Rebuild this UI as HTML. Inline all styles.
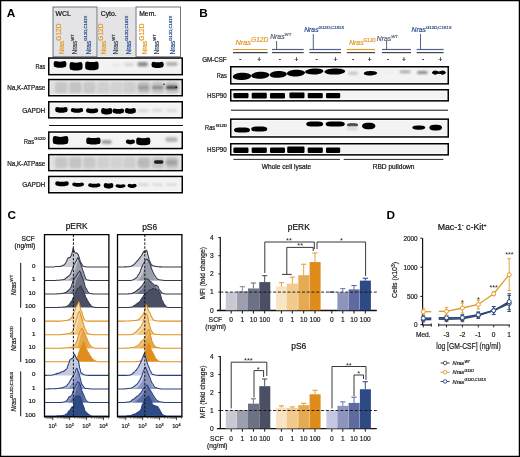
<!DOCTYPE html>
<html><head><meta charset="utf-8"><style>
html,body{margin:0;padding:0;background:#fff;width:520px;height:457px;overflow:hidden}
svg{display:block;will-change:transform}
text{font-family:"Liberation Sans",sans-serif}
</style></head><body>
<svg width="520" height="457" viewBox="0 0 520 457">
<rect width="520" height="457" fill="#fff"/>
<rect x="0.6" y="0.6" width="518.8" height="455.8" fill="none" stroke="#000" stroke-width="1.3" />
<text x="6.8" y="17.2" font-size="11.8" text-anchor="start" fill="#000" stroke="#000" stroke-width="0" font-weight="bold" font-style="normal" >A</text>
<text x="199.2" y="17.2" font-size="11.8" text-anchor="start" fill="#000" stroke="#000" stroke-width="0" font-weight="bold" font-style="normal" >B</text>
<text x="7.6" y="218.8" font-size="11.8" text-anchor="start" fill="#000" stroke="#000" stroke-width="0" font-weight="bold" font-style="normal" >C</text>
<text x="386.6" y="218.6" font-size="11.8" text-anchor="start" fill="#000" stroke="#000" stroke-width="0" font-weight="bold" font-style="normal" >D</text>
<rect x="53" y="7" width="44" height="49.8" fill="#e4e4e6" stroke="#5d6577" stroke-width="0.9" />
<rect x="98" y="7" width="37.5" height="49.8" fill="#e4e4e6" stroke="none" stroke-width="1" />
<rect x="136" y="7" width="44.5" height="49.8" fill="#ffffff" stroke="#5d6577" stroke-width="0.9" />
<text x="55.6" y="15.8" font-size="6.8" text-anchor="start" fill="#111" stroke="#111" stroke-width="0.2" font-weight="normal" font-style="normal" >WCL</text>
<text x="100.8" y="15.8" font-size="6.8" text-anchor="start" fill="#111" stroke="#111" stroke-width="0.2" font-weight="normal" font-style="normal" >Cyto.</text>
<text x="139.2" y="15.8" font-size="6.8" text-anchor="start" fill="#111" stroke="#111" stroke-width="0.2" font-weight="normal" font-style="normal" >Mem.</text>
<text transform="translate(63.800000000000004,54.6) rotate(-90)" font-size="6.6" fill="#e39a2d" stroke="#e39a2d" stroke-width="0.2">Nras<tspan font-size="6.6" dy="-2.6">G12D</tspan></text>
<text transform="translate(76.7,54.6) rotate(-90)" font-size="6.6" fill="#3f4658" stroke="#3f4658" stroke-width="0.2">Nras<tspan font-size="4.2" dy="-3.2">WT</tspan></text>
<text transform="translate(90.60000000000001,54.6) rotate(-90)" font-size="6.6" fill="#31508e" stroke="#31508e" stroke-width="0.2">Nras<tspan font-size="4.2" dy="-3.2">G12D,C181S</tspan></text>
<text transform="translate(106.0,54.6) rotate(-90)" font-size="6.6" fill="#e39a2d" stroke="#e39a2d" stroke-width="0.2">Nras<tspan font-size="6.6" dy="-2.6">G12D</tspan></text>
<text transform="translate(117.89999999999999,54.6) rotate(-90)" font-size="6.6" fill="#3f4658" stroke="#3f4658" stroke-width="0.2">Nras<tspan font-size="4.2" dy="-3.2">WT</tspan></text>
<text transform="translate(131.2,54.6) rotate(-90)" font-size="6.6" fill="#31508e" stroke="#31508e" stroke-width="0.2">Nras<tspan font-size="4.2" dy="-3.2">G12D,C181S</tspan></text>
<text transform="translate(146.6,54.6) rotate(-90)" font-size="6.6" fill="#e39a2d" stroke="#e39a2d" stroke-width="0.2">Nras<tspan font-size="6.6" dy="-2.6">G12D</tspan></text>
<text transform="translate(159.3,54.6) rotate(-90)" font-size="6.6" fill="#3f4658" stroke="#3f4658" stroke-width="0.2">Nras<tspan font-size="4.2" dy="-3.2">WT</tspan></text>
<text transform="translate(175.2,54.6) rotate(-90)" font-size="6.6" fill="#31508e" stroke="#31508e" stroke-width="0.2">Nras<tspan font-size="4.2" dy="-3.2">G12D,C181S</tspan></text>
<defs><filter id="bl" x="-30%" y="-60%" width="160%" height="220%"><feGaussianBlur stdDeviation="0.55"/></filter><filter id="bl2" x="-30%" y="-60%" width="160%" height="220%"><feGaussianBlur stdDeviation="0.9"/></filter><filter id="bl3" x="-30%" y="-60%" width="160%" height="220%"><feGaussianBlur stdDeviation="0.75"/></filter><filter id="noise" x="0" y="0" width="100%" height="100%"><feTurbulence type="fractalNoise" baseFrequency="0.35 0.9" numOctaves="2" seed="3"/><feColorMatrix type="matrix" values="0 0 0 0 0.5  0 0 0 0 0.5  0 0 0 0 0.5  0 0 0 0.35 0"/></filter></defs>
<rect x="48.75" y="58.05" width="133.5" height="16.6" fill="#fcfcfc" stroke="none" stroke-width="1" />
<rect x="50.2" y="59.699999999999996" width="130.6" height="13.3" fill="#f3f3f3" stroke="none" stroke-width="1" />
<rect x="112" y="63.5" width="9" height="3" rx="1.5" ry="1.5" fill="#e6e6e6" filter="url(#bl2)" opacity="1"/>
<rect x="124" y="62.8" width="10" height="3.4" rx="1.7" ry="1.7" fill="#d8d8d8" filter="url(#bl2)" opacity="1"/>
<rect x="137.4" y="62.0" width="10.599999999999994" height="4.4" rx="2.2" ry="2.2" fill="#8c8c8c" filter="url(#bl2)" opacity="1"/>
<rect x="166" y="62.1" width="11.599999999999994" height="3.8" rx="1.9" ry="1.9" fill="#b0b0b0" filter="url(#bl2)" opacity="1"/>
<path d="M55.9,60.9 Q60.0,62.5 64.2,60.9 Q66.4,60.9 66.4,63.1 L66.4,65.1 Q66.4,67.3 64.2,67.3 Q60.0,68.3 55.9,67.3 Q53.7,67.3 53.7,65.1 L53.7,63.1 Q53.7,60.9 55.9,60.9Z" fill="#000" filter="url(#bl3)"/>
<path d="M71.8,62.0 Q76.0,63.4 80.3,62.0 Q82.5,62.0 82.5,64.2 L82.5,67.8 Q82.5,70.0 80.3,70.0 Q76.0,71.0 71.8,70.0 Q69.6,70.0 69.6,67.8 L69.6,64.2 Q69.6,62.0 71.8,62.0Z" fill="#000" filter="url(#bl3)"/>
<path d="M87.4,61.5 Q91.9,62.7 96.4,61.5 Q98.6,61.5 98.6,63.7 L98.6,67.6 Q98.6,69.8 96.4,69.8 Q91.9,70.8 87.4,69.8 Q85.2,69.8 85.2,67.6 L85.2,63.7 Q85.2,61.5 87.4,61.5Z" fill="#000" filter="url(#bl3)"/>
<path d="M153.7,61.7 Q157.6,62.9 161.5,61.7 Q163.7,61.7 163.7,63.9 L163.7,65.3 Q163.7,67.5 161.5,67.5 Q157.6,68.5 153.7,67.5 Q151.5,67.5 151.5,65.3 L151.5,63.9 Q151.5,61.7 153.7,61.7Z" fill="#000" filter="url(#bl3)"/>
<rect x="48.75" y="58.05" width="133.5" height="16.6" fill="none" stroke="#000" stroke-width="1.5" />
<rect x="48.75" y="79.55" width="133.5" height="16.2" fill="#fcfcfc" stroke="none" stroke-width="1" />
<rect x="50.2" y="81.2" width="130.6" height="12.899999999999999" fill="#e4e4e4" stroke="none" stroke-width="1" />
<rect x="48.75" y="79.55" width="133.5" height="16.2" filter="url(#noise)" opacity="0.5"/>
<rect x="55.0" y="82.0" width="12.400000000000006" height="11" rx="3" ry="3" fill="#c6c6c6" filter="url(#bl2)" opacity="1"/>
<rect x="69.2" y="82.0" width="12.400000000000006" height="11" rx="3" ry="3" fill="#c4c4c4" filter="url(#bl2)" opacity="1"/>
<rect x="83.2" y="82.0" width="12.400000000000006" height="11" rx="3" ry="3" fill="#c8c8c8" filter="url(#bl2)" opacity="1"/>
<rect x="97.2" y="82.0" width="12.400000000000006" height="11" rx="3" ry="3" fill="#d0d0d0" filter="url(#bl2)" opacity="1"/>
<rect x="110.39999999999999" y="82.0" width="12.400000000000006" height="11" rx="3" ry="3" fill="#d2d2d2" filter="url(#bl2)" opacity="1"/>
<rect x="123.39999999999999" y="82.0" width="12.399999999999991" height="11" rx="3" ry="3" fill="#cecece" filter="url(#bl2)" opacity="1"/>
<rect x="137.8" y="82.0" width="12.399999999999977" height="11" rx="3" ry="3" fill="#bebebe" filter="url(#bl2)" opacity="1"/>
<rect x="151.8" y="82.0" width="12.399999999999977" height="11" rx="3" ry="3" fill="#c2c2c2" filter="url(#bl2)" opacity="1"/>
<rect x="165.8" y="82.0" width="12.399999999999977" height="11" rx="3" ry="3" fill="#c0c0c0" filter="url(#bl2)" opacity="1"/>
<rect x="138" y="85.8" width="10.5" height="3.6" rx="1.8" ry="1.8" fill="#9a9a9a" filter="url(#bl2)" opacity="1"/>
<rect x="152" y="86.1" width="11.5" height="3" rx="1.5" ry="1.5" fill="#8a8a8a" filter="url(#bl2)" opacity="1"/>
<rect x="166" y="85.7" width="11.5" height="3.4" rx="1.7" ry="1.7" fill="#4a4a4a" filter="url(#bl2)" opacity="1"/>
<rect x="163.4" y="83.5" width="1.4000000000000057" height="1.4" rx="0.7" ry="0.7" fill="#000" filter="url(#bl)" opacity="1"/>
<rect x="175.4" y="86.39999999999999" width="1.5999999999999943" height="1.8" rx="0.9" ry="0.9" fill="#000" filter="url(#bl)" opacity="1"/>
<rect x="48.75" y="79.55" width="133.5" height="16.2" fill="none" stroke="#000" stroke-width="1.5" />
<rect x="48.75" y="101.75" width="133.5" height="16.1" fill="#fcfcfc" stroke="none" stroke-width="1" />
<rect x="50.2" y="103.4" width="130.6" height="12.8" fill="#f3f3f3" stroke="none" stroke-width="1" />
<rect x="138" y="109.0" width="11" height="3" rx="1.5" ry="1.5" fill="#d8d8d8" filter="url(#bl2)" opacity="1"/>
<rect x="152" y="108.8" width="11" height="3" rx="1.5" ry="1.5" fill="#dcdcdc" filter="url(#bl2)" opacity="1"/>
<rect x="166" y="109.0" width="11" height="3" rx="1.5" ry="1.5" fill="#dcdcdc" filter="url(#bl2)" opacity="1"/>
<path d="M57.4,106.9 Q61.4,108.3 65.4,106.9 Q67.6,106.9 67.6,109.1 L67.6,110.0 Q67.6,112.2 65.4,112.2 Q61.4,113.2 57.4,112.2 Q55.2,112.2 55.2,110.0 L55.2,109.1 Q55.2,106.9 57.4,106.9Z" fill="#000" filter="url(#bl3)"/>
<path d="M73.0,108.1 Q77.0,109.1 81.0,108.1 Q83.2,108.1 83.2,110.3 L83.2,110.0 Q83.2,112.2 81.0,112.2 Q77.0,113.2 73.0,112.2 Q70.8,112.2 70.8,110.0 L70.8,110.3 Q70.8,108.1 73.0,108.1Z" fill="#000" filter="url(#bl3)"/>
<path d="M88.2,108.3 Q92.1,109.3 96.0,108.3 Q98.2,108.3 98.2,110.5 L98.2,110.5 Q98.2,112.7 96.0,112.7 Q92.1,113.7 88.2,112.7 Q86.0,112.7 86.0,110.5 L86.0,110.5 Q86.0,108.3 88.2,108.3Z" fill="#000" filter="url(#bl3)"/>
<path d="M103.3,108.1 Q106.7,109.3 110.1,108.1 Q112.3,108.1 112.3,110.3 L112.3,111.7 Q112.3,113.9 110.1,113.9 Q106.7,114.9 103.3,113.9 Q101.1,113.9 101.1,111.7 L101.1,110.3 Q101.1,108.1 103.3,108.1Z" fill="#000" filter="url(#bl3)"/>
<path d="M114.7,108.4 Q118.3,109.4 121.9,108.4 Q124.1,108.4 124.1,110.6 L124.1,111.0 Q124.1,113.2 121.9,113.2 Q118.3,114.2 114.7,113.2 Q112.5,113.2 112.5,111.0 L112.5,110.6 Q112.5,108.4 114.7,108.4Z" fill="#000" filter="url(#bl3)"/>
<path d="M127.1,108.1 Q130.4,109.3 133.7,108.1 Q135.9,108.1 135.9,110.3 L135.9,111.0 Q135.9,113.2 133.7,113.2 Q130.4,114.2 127.1,113.2 Q124.9,113.2 124.9,111.0 L124.9,110.3 Q124.9,108.1 127.1,108.1Z" fill="#000" filter="url(#bl3)"/>
<rect x="48.75" y="101.75" width="133.5" height="16.1" fill="none" stroke="#000" stroke-width="1.5" />
<line x1="49" y1="125.5" x2="183" y2="125.5" stroke="#111" stroke-width="1" />
<rect x="48.75" y="132.05" width="133.5" height="16.5" fill="#fcfcfc" stroke="none" stroke-width="1" />
<rect x="50.2" y="133.70000000000002" width="130.6" height="13.2" fill="#f3f3f3" stroke="none" stroke-width="1" />
<rect x="101.5" y="140.0" width="10.299999999999997" height="4" rx="2.0" ry="2.0" fill="#9c9c9c" filter="url(#bl2)" opacity="1"/>
<rect x="165.3" y="137.29999999999998" width="12.399999999999977" height="4.6" rx="2.3" ry="2.3" fill="#b4b4b4" filter="url(#bl2)" opacity="1"/>
<path d="M55.0,136.1 Q60.5,137.7 66.1,136.1 Q68.3,136.1 68.3,138.3 L68.3,141.7 Q68.3,143.9 66.1,143.9 Q60.5,144.9 55.0,143.9 Q52.8,143.9 52.8,141.7 L52.8,138.3 Q52.8,136.1 55.0,136.1Z" fill="#000" filter="url(#bl3)"/>
<path d="M88.5,137.4 Q93.4,138.8 98.3,137.4 Q100.5,137.4 100.5,139.6 L100.5,141.9 Q100.5,144.1 98.3,144.1 Q93.4,145.1 88.5,144.1 Q86.3,144.1 86.3,141.9 L86.3,139.6 Q86.3,137.4 88.5,137.4Z" fill="#000" filter="url(#bl3)"/>
<path d="M128.0,139.5 Q130.4,140.3 132.8,139.5 Q135.0,139.5 135.0,141.7 L135.0,141.6 Q135.0,143.8 132.8,143.8 Q130.4,144.8 128.0,143.8 Q125.8,143.8 125.8,141.6 L125.8,141.7 Q125.8,139.5 128.0,139.5Z" fill="#000" filter="url(#bl3)"/>
<path d="M138.4,137.5 Q143.2,138.9 148.1,137.5 Q150.3,137.5 150.3,139.7 L150.3,142.5 Q150.3,144.7 148.1,144.7 Q143.2,145.7 138.4,144.7 Q136.2,144.7 136.2,142.5 L136.2,139.7 Q136.2,137.5 138.4,137.5Z" fill="#000" filter="url(#bl3)"/>
<rect x="48.75" y="132.05" width="133.5" height="16.5" fill="none" stroke="#000" stroke-width="1.5" />
<rect x="48.75" y="154.65" width="133.5" height="16.0" fill="#fcfcfc" stroke="none" stroke-width="1" />
<rect x="50.2" y="156.3" width="130.6" height="12.7" fill="#e4e4e4" stroke="none" stroke-width="1" />
<rect x="48.75" y="154.65" width="133.5" height="16.0" filter="url(#noise)" opacity="0.5"/>
<rect x="55.0" y="157.2" width="12.400000000000006" height="11" rx="3" ry="3" fill="#c6c6c6" filter="url(#bl2)" opacity="1"/>
<rect x="69.2" y="157.2" width="12.400000000000006" height="11" rx="3" ry="3" fill="#c4c4c4" filter="url(#bl2)" opacity="1"/>
<rect x="83.2" y="157.2" width="12.400000000000006" height="11" rx="3" ry="3" fill="#c8c8c8" filter="url(#bl2)" opacity="1"/>
<rect x="97.2" y="157.2" width="12.400000000000006" height="11" rx="3" ry="3" fill="#d0d0d0" filter="url(#bl2)" opacity="1"/>
<rect x="110.39999999999999" y="157.2" width="12.400000000000006" height="11" rx="3" ry="3" fill="#d2d2d2" filter="url(#bl2)" opacity="1"/>
<rect x="123.39999999999999" y="157.2" width="12.399999999999991" height="11" rx="3" ry="3" fill="#cecece" filter="url(#bl2)" opacity="1"/>
<rect x="137.8" y="157.2" width="12.399999999999977" height="11" rx="3" ry="3" fill="#bebebe" filter="url(#bl2)" opacity="1"/>
<rect x="151.8" y="157.2" width="12.399999999999977" height="11" rx="3" ry="3" fill="#c2c2c2" filter="url(#bl2)" opacity="1"/>
<rect x="165.8" y="157.2" width="12.399999999999977" height="11" rx="3" ry="3" fill="#c0c0c0" filter="url(#bl2)" opacity="1"/>
<rect x="137.5" y="160.6" width="11.0" height="4" rx="2.0" ry="2.0" fill="#b8b8b8" filter="url(#bl2)" opacity="1"/>
<rect x="154" y="160.2" width="9.5" height="3.6" rx="1.8" ry="1.8" fill="#1a1a1a" filter="url(#bl)" opacity="1"/>
<rect x="166" y="160.3" width="11" height="4.4" rx="2.2" ry="2.2" fill="#a0a0a0" filter="url(#bl2)" opacity="1"/>
<rect x="48.75" y="154.65" width="133.5" height="16.0" fill="none" stroke="#000" stroke-width="1.5" />
<rect x="48.75" y="176.45" width="133.5" height="16.3" fill="#fcfcfc" stroke="none" stroke-width="1" />
<rect x="50.2" y="178.1" width="130.6" height="13.0" fill="#f3f3f3" stroke="none" stroke-width="1" />
<rect x="138" y="183.29999999999998" width="11" height="2.6" rx="1.3" ry="1.3" fill="#d6d6d6" filter="url(#bl2)" opacity="1"/>
<rect x="152" y="183.29999999999998" width="11" height="2.6" rx="1.3" ry="1.3" fill="#dcdcdc" filter="url(#bl2)" opacity="1"/>
<rect x="166" y="183.29999999999998" width="11" height="2.6" rx="1.3" ry="1.3" fill="#dcdcdc" filter="url(#bl2)" opacity="1"/>
<path d="M57.4,181.2 Q62.0,182.4 66.6,181.2 Q68.8,181.2 68.8,183.4 L68.8,183.6 Q68.8,185.8 66.6,185.8 Q62.0,186.8 57.4,185.8 Q55.2,185.8 55.2,183.6 L55.2,183.4 Q55.2,181.2 57.4,181.2Z" fill="#000" filter="url(#bl3)"/>
<path d="M74.4,182.4 Q78.1,183.4 81.8,182.4 Q84.0,182.4 84.0,184.6 L84.0,184.0 Q84.0,186.2 81.8,186.2 Q78.1,187.2 74.4,186.2 Q72.2,186.2 72.2,184.0 L72.2,184.6 Q72.2,182.4 74.4,182.4Z" fill="#000" filter="url(#bl3)"/>
<path d="M90.3,183.3 Q94.3,184.3 98.3,183.3 Q100.5,183.3 100.5,185.5 L100.5,184.8 Q100.5,187.0 98.3,187.0 Q94.3,188.0 90.3,187.0 Q88.1,187.0 88.1,184.8 L88.1,185.5 Q88.1,183.3 90.3,183.3Z" fill="#000" filter="url(#bl3)"/>
<path d="M105.9,183.0 Q108.6,184.2 111.2,183.0 Q113.4,183.0 113.4,185.2 L113.4,185.7 Q113.4,187.9 111.2,187.9 Q108.6,188.9 105.9,187.9 Q103.7,187.9 103.7,185.7 L103.7,185.2 Q103.7,183.0 105.9,183.0Z" fill="#000" filter="url(#bl3)"/>
<path d="M117.6,184.3 Q120.5,185.1 123.4,184.3 Q125.6,184.3 125.6,186.5 L125.6,185.3 Q125.6,187.5 123.4,187.5 Q120.5,188.5 117.6,187.5 Q115.4,187.5 115.4,185.3 L115.4,186.5 Q115.4,184.3 117.6,184.3Z" fill="#000" filter="url(#bl3)"/>
<path d="M129.7,183.8 Q132.1,184.8 134.5,183.8 Q136.7,183.8 136.7,186.0 L136.7,185.3 Q136.7,187.5 134.5,187.5 Q132.1,188.5 129.7,187.5 Q127.5,187.5 127.5,185.3 L127.5,186.0 Q127.5,183.8 129.7,183.8Z" fill="#000" filter="url(#bl3)"/>
<rect x="48.75" y="176.45" width="133.5" height="16.3" fill="none" stroke="#000" stroke-width="1.5" />
<text x="45.3" y="69.4" font-size="6.8" text-anchor="end" fill="#111" stroke="#111" stroke-width="0.2" font-weight="normal" font-style="normal" textLength="9.8" lengthAdjust="spacingAndGlyphs">Ras</text>
<text x="45.3" y="90.4" font-size="6.8" text-anchor="end" fill="#111" stroke="#111" stroke-width="0.2" font-weight="normal" font-style="normal" textLength="38" lengthAdjust="spacingAndGlyphs">Na,K-ATPase</text>
<text x="45.3" y="112.6" font-size="6.8" text-anchor="end" fill="#111" stroke="#111" stroke-width="0.2" font-weight="normal" font-style="normal" textLength="23.1" lengthAdjust="spacingAndGlyphs">GAPDH</text>
<text x="45.3" y="165.8" font-size="6.8" text-anchor="end" fill="#111" stroke="#111" stroke-width="0.2" font-weight="normal" font-style="normal" textLength="38" lengthAdjust="spacingAndGlyphs">Na,K-ATPase</text>
<text x="45.3" y="187.4" font-size="6.8" text-anchor="end" fill="#111" stroke="#111" stroke-width="0.2" font-weight="normal" font-style="normal" textLength="23.1" lengthAdjust="spacingAndGlyphs">GAPDH</text>
<text x="24.1" y="143.8" font-size="6.8" text-anchor="start" fill="#111" stroke="#111" stroke-width="0.2" font-weight="normal" font-style="normal" textLength="9.8" lengthAdjust="spacingAndGlyphs">Ras</text>
<text x="34.3" y="140.1" font-size="3.9" text-anchor="start" fill="#111" stroke="#111" stroke-width="0.2" font-weight="normal" font-style="normal" textLength="11.2" lengthAdjust="spacingAndGlyphs">G12D</text>
<line x1="233" y1="49.5" x2="267.6" y2="49.5" stroke="#e39a2d" stroke-width="1.2" />
<line x1="233" y1="52.6" x2="267.6" y2="52.6" stroke="#444" stroke-width="1.2" />
<line x1="272" y1="49.5" x2="303.7" y2="49.5" stroke="#56607e" stroke-width="1.2" />
<line x1="272" y1="52.6" x2="303.7" y2="52.6" stroke="#444" stroke-width="1.2" />
<line x1="309.4" y1="49.5" x2="341" y2="49.5" stroke="#4f6294" stroke-width="1.2" />
<line x1="309.4" y1="52.6" x2="341" y2="52.6" stroke="#444" stroke-width="1.2" />
<line x1="346.8" y1="49.5" x2="375" y2="49.5" stroke="#e39a2d" stroke-width="1.2" />
<line x1="346.8" y1="52.6" x2="375" y2="52.6" stroke="#444" stroke-width="1.2" />
<line x1="382" y1="49.5" x2="411" y2="49.5" stroke="#56607e" stroke-width="1.2" />
<line x1="382" y1="52.6" x2="411" y2="52.6" stroke="#444" stroke-width="1.2" />
<line x1="416.6" y1="49.5" x2="443.6" y2="49.5" stroke="#4f6294" stroke-width="1.2" />
<line x1="416.6" y1="52.6" x2="443.6" y2="52.6" stroke="#444" stroke-width="1.2" />
<text x="235.4" y="44.6" font-size="7.4" font-style="italic" fill="#e39a2d" stroke="#e39a2d" stroke-width="0.2">Nras<tspan font-size="6.6" dy="-2.6">G12D</tspan></text>
<line x1="276.6" y1="41" x2="276.6" y2="49.5" stroke="#56607e" stroke-width="1" />
<text x="270.2" y="39.4" font-size="6.8" font-style="italic" fill="#5a6278" stroke="#5a6278" stroke-width="0.2">Nras<tspan font-size="4.4" dy="-3">WT</tspan></text>
<line x1="313.29999999999995" y1="34" x2="313.29999999999995" y2="49.5" stroke="#4f6294" stroke-width="1" />
<text x="304.2" y="32.2" font-size="6.8" font-style="italic" fill="#31508e" stroke="#31508e" stroke-width="0.2">Nras<tspan font-size="4.3" dy="-3">G12D;C181S</tspan></text>
<text x="349.2" y="44.6" font-size="6.8" font-style="italic" fill="#e39a2d" stroke="#e39a2d" stroke-width="0.2">Nras<tspan font-size="4.6" dy="-3">G12D</tspan></text>
<line x1="386.6" y1="41" x2="386.6" y2="49.5" stroke="#56607e" stroke-width="1" />
<text x="376.8" y="41" font-size="6.8" font-style="italic" fill="#5a6278" stroke="#5a6278" stroke-width="0.2">Nras<tspan font-size="4.4" dy="-3">WT</tspan></text>
<line x1="420.5" y1="34" x2="420.5" y2="49.5" stroke="#4f6294" stroke-width="1" />
<text x="411.6" y="31.6" font-size="6.8" font-style="italic" fill="#31508e" stroke="#31508e" stroke-width="0.2">Nras<tspan font-size="4.3" dy="-3">G12D;C181S</tspan></text>
<text x="202.2" y="61.7" font-size="6.5" text-anchor="start" fill="#111" stroke="#111" stroke-width="0.2" font-weight="normal" font-style="normal" textLength="24.4" lengthAdjust="spacingAndGlyphs">GM-CSF</text>
<text x="240.4" y="61.2" font-size="6.6" text-anchor="middle" fill="#111" stroke="#111" stroke-width="0.2" font-weight="normal" font-style="normal" >-</text>
<text x="259.3" y="62.0" font-size="6.6" text-anchor="middle" fill="#111" stroke="#111" stroke-width="0.2" font-weight="normal" font-style="normal" >+</text>
<text x="279.9" y="61.2" font-size="6.6" text-anchor="middle" fill="#111" stroke="#111" stroke-width="0.2" font-weight="normal" font-style="normal" >-</text>
<text x="296.5" y="62.0" font-size="6.6" text-anchor="middle" fill="#111" stroke="#111" stroke-width="0.2" font-weight="normal" font-style="normal" >+</text>
<text x="316.7" y="61.2" font-size="6.6" text-anchor="middle" fill="#111" stroke="#111" stroke-width="0.2" font-weight="normal" font-style="normal" >-</text>
<text x="335.4" y="62.0" font-size="6.6" text-anchor="middle" fill="#111" stroke="#111" stroke-width="0.2" font-weight="normal" font-style="normal" >+</text>
<text x="353" y="61.2" font-size="6.6" text-anchor="middle" fill="#111" stroke="#111" stroke-width="0.2" font-weight="normal" font-style="normal" >-</text>
<text x="369.6" y="62.0" font-size="6.6" text-anchor="middle" fill="#111" stroke="#111" stroke-width="0.2" font-weight="normal" font-style="normal" >+</text>
<text x="388.2" y="61.2" font-size="6.6" text-anchor="middle" fill="#111" stroke="#111" stroke-width="0.2" font-weight="normal" font-style="normal" >-</text>
<text x="403.9" y="62.0" font-size="6.6" text-anchor="middle" fill="#111" stroke="#111" stroke-width="0.2" font-weight="normal" font-style="normal" >+</text>
<text x="423.1" y="61.2" font-size="6.6" text-anchor="middle" fill="#111" stroke="#111" stroke-width="0.2" font-weight="normal" font-style="normal" >-</text>
<text x="440.5" y="62.0" font-size="6.6" text-anchor="middle" fill="#111" stroke="#111" stroke-width="0.2" font-weight="normal" font-style="normal" >+</text>
<rect x="230.75" y="66.75" width="217.5" height="17.1" fill="#fcfcfc" stroke="none" stroke-width="1" />
<rect x="232.2" y="68.4" width="214.6" height="13.8" fill="#f3f3f3" stroke="none" stroke-width="1" />
<rect x="348" y="71.7" width="10" height="3" rx="1.5" ry="1.5" fill="#c4c4c4" filter="url(#bl2)" opacity="1"/>
<rect x="386" y="71.5" width="8" height="2" rx="1.0" ry="1.0" fill="#eee" filter="url(#bl)" opacity="1"/>
<rect x="399.6" y="70.60000000000001" width="10.899999999999977" height="2.6" rx="1.3" ry="1.3" fill="#a8a8a8" filter="url(#bl2)" opacity="1"/>
<rect x="417" y="71.0" width="10.600000000000023" height="3" rx="1.5" ry="1.5" fill="#8c8c8c" filter="url(#bl2)" opacity="1"/>
<path d="M232.8,76.90 C233.4,71.69 250.6,71.69 251.2,75.90 C250.6,81.11 233.4,81.11 232.8,76.90Z" fill="#000" filter="url(#bl3)"/>
<path d="M251.2,75.80 C251.7,70.71 268.9,70.71 269.4,74.80 C268.9,79.89 251.7,79.89 251.2,75.80Z" fill="#000" filter="url(#bl3)"/>
<path d="M269.6,74.90 C270.1,69.94 286.3,69.94 286.8,73.90 C286.3,78.86 270.1,78.86 269.6,74.90Z" fill="#000" filter="url(#bl3)"/>
<path d="M286.8,73.60 C287.3,68.51 304.5,68.51 305.0,72.60 C304.5,77.69 287.3,77.69 286.8,73.60Z" fill="#000" filter="url(#bl3)"/>
<path d="M305.0,72.10 C305.6,67.53 322.8,67.53 323.4,70.90 C322.8,75.47 305.6,75.47 305.0,72.10Z" fill="#000" filter="url(#bl3)"/>
<path d="M324.4,72.00 C325.0,67.63 344.6,67.63 345.2,71.20 C344.6,75.57 325.0,75.57 324.4,72.00Z" fill="#000" filter="url(#bl3)"/>
<path d="M363.8,73.40 C364.2,70.22 376.8,70.22 377.2,73.00 C376.8,76.18 364.2,76.18 363.8,73.40Z" fill="#000" filter="url(#bl3)"/>
<path d="M431.8,72.80 C432.2,70.74 445.4,70.74 445.8,72.40 C445.4,74.46 432.2,74.46 431.8,72.80Z" fill="#222" filter="url(#bl3)"/>
<path d="M432.2,72.60 C432.4,69.87 438.0,69.87 438.2,72.60 C438.0,75.33 432.4,75.33 432.2,72.60Z" fill="#000" filter="url(#bl3)"/>
<path d="M439.6,72.60 C439.8,69.87 445.4,69.87 445.6,72.60 C445.4,75.33 439.8,75.33 439.6,72.60Z" fill="#000" filter="url(#bl3)"/>
<rect x="230.75" y="66.75" width="217.5" height="17.1" fill="none" stroke="#000" stroke-width="1.5" />
<rect x="230.75" y="89.75" width="217.5" height="11.1" fill="#fcfcfc" stroke="none" stroke-width="1" />
<rect x="232.2" y="91.4" width="214.6" height="7.8" fill="#f3f3f3" stroke="none" stroke-width="1" />
<rect x="233.4" y="93.0" width="15.099999999999994" height="5.2" rx="1.2" ry="1.2" fill="#000" filter="url(#bl3)" opacity="1"/>
<rect x="251.7" y="92.8" width="15.100000000000023" height="5.6" rx="1.2" ry="1.2" fill="#000" filter="url(#bl3)" opacity="1"/>
<rect x="270" y="93.1" width="15" height="5.4" rx="1.2" ry="1.2" fill="#000" filter="url(#bl3)" opacity="1"/>
<rect x="289.4" y="92.5" width="15.100000000000023" height="5.8" rx="1.2" ry="1.2" fill="#000" filter="url(#bl3)" opacity="1"/>
<rect x="307.7" y="92.89999999999999" width="15.100000000000023" height="5.4" rx="1.2" ry="1.2" fill="#000" filter="url(#bl3)" opacity="1"/>
<rect x="326" y="92.89999999999999" width="14.199999999999989" height="5.4" rx="1.2" ry="1.2" fill="#000" filter="url(#bl3)" opacity="1"/>
<rect x="230.75" y="89.75" width="217.5" height="11.1" fill="none" stroke="#000" stroke-width="1.5" />
<line x1="231" y1="110.2" x2="448" y2="110.2" stroke="#111" stroke-width="1" />
<rect x="230.75" y="119.15" width="217.5" height="17.8" fill="#fcfcfc" stroke="none" stroke-width="1" />
<rect x="232.2" y="120.80000000000001" width="214.6" height="14.5" fill="#f3f3f3" stroke="none" stroke-width="1" />
<rect x="234" y="127.6" width="16" height="5" rx="5" ry="2.5" fill="#000" filter="url(#bl3)" opacity="1"/>
<rect x="251.2" y="126.5" width="16.100000000000023" height="5" rx="5" ry="2.5" fill="#000" filter="url(#bl3)" opacity="1"/>
<rect x="306.2" y="121.5" width="17.0" height="5" rx="5" ry="2.5" fill="#000" filter="url(#bl3)" opacity="1"/>
<rect x="325.6" y="121.5" width="19.19999999999999" height="5" rx="5" ry="2.5" fill="#000" filter="url(#bl3)" opacity="1"/>
<rect x="347" y="123.2" width="11" height="3.4" rx="3" ry="1.7" fill="#3c3c3c" filter="url(#bl3)" opacity="1"/>
<rect x="347" y="126.5" width="11" height="4" rx="2.0" ry="2.0" fill="#dadada" filter="url(#bl2)" opacity="1"/>
<rect x="362" y="122.7" width="13.399999999999977" height="6.6" rx="5" ry="3.3" fill="#000" filter="url(#bl3)" opacity="1"/>
<rect x="412.4" y="125.5" width="12.800000000000011" height="4.2" rx="5" ry="2.1" fill="#000" filter="url(#bl3)" opacity="1"/>
<rect x="429.4" y="124.69999999999999" width="12.600000000000023" height="5.8" rx="5" ry="2.9" fill="#000" filter="url(#bl3)" opacity="1"/>
<rect x="230.75" y="119.15" width="217.5" height="17.8" fill="none" stroke="#000" stroke-width="1.5" />
<rect x="230.75" y="143.75" width="217.5" height="11.1" fill="#fcfcfc" stroke="none" stroke-width="1" />
<rect x="232.2" y="145.4" width="214.6" height="7.8" fill="#f3f3f3" stroke="none" stroke-width="1" />
<rect x="233.4" y="147.5" width="15.099999999999994" height="5.4" rx="1.2" ry="1.2" fill="#000" filter="url(#bl3)" opacity="1"/>
<rect x="251.7" y="147.39999999999998" width="15.100000000000023" height="5.6" rx="1.2" ry="1.2" fill="#000" filter="url(#bl3)" opacity="1"/>
<rect x="270" y="147.5" width="15" height="5.4" rx="1.2" ry="1.2" fill="#000" filter="url(#bl3)" opacity="1"/>
<rect x="287.2" y="146.60000000000002" width="17.30000000000001" height="6.4" rx="1.2" ry="1.2" fill="#000" filter="url(#bl3)" opacity="1"/>
<rect x="307.7" y="147.39999999999998" width="15.100000000000023" height="5.6" rx="1.2" ry="1.2" fill="#000" filter="url(#bl3)" opacity="1"/>
<rect x="326" y="147.5" width="14.199999999999989" height="5.4" rx="1.2" ry="1.2" fill="#000" filter="url(#bl3)" opacity="1"/>
<rect x="230.75" y="143.75" width="217.5" height="11.1" fill="none" stroke="#000" stroke-width="1.5" />
<line x1="233.4" y1="159.4" x2="340" y2="159.4" stroke="#111" stroke-width="0.9" />
<line x1="343.7" y1="159.4" x2="443.4" y2="159.4" stroke="#111" stroke-width="0.9" />
<text x="286.5" y="168.8" font-size="6.6" text-anchor="middle" fill="#111" stroke="#111" stroke-width="0.2" font-weight="normal" font-style="normal" >Whole cell lysate</text>
<text x="393.6" y="168.8" font-size="6.6" text-anchor="middle" fill="#111" stroke="#111" stroke-width="0.2" font-weight="normal" font-style="normal" >RBD pulldown</text>
<text x="226.8" y="77.7" font-size="6.8" text-anchor="end" fill="#111" stroke="#111" stroke-width="0.2" font-weight="normal" font-style="normal" textLength="10.1" lengthAdjust="spacingAndGlyphs">Ras</text>
<text x="226.8" y="97.9" font-size="6.8" text-anchor="end" fill="#111" stroke="#111" stroke-width="0.2" font-weight="normal" font-style="normal" textLength="19.8" lengthAdjust="spacingAndGlyphs">HSP90</text>
<text x="226.8" y="151.8" font-size="6.8" text-anchor="end" fill="#111" stroke="#111" stroke-width="0.2" font-weight="normal" font-style="normal" textLength="19.8" lengthAdjust="spacingAndGlyphs">HSP90</text>
<text x="205.1" y="130.1" font-size="6.8" text-anchor="start" fill="#111" stroke="#111" stroke-width="0.2" font-weight="normal" font-style="normal" textLength="10.1" lengthAdjust="spacingAndGlyphs">Ras</text>
<text x="215.7" y="126.9" font-size="3.9" text-anchor="start" fill="#111" stroke="#111" stroke-width="0.2" font-weight="normal" font-style="normal" textLength="11.3" lengthAdjust="spacingAndGlyphs">G12D</text>
<defs><clipPath id="cp1"><rect x="44.6" y="234.6" width="64.2" height="182"/></clipPath><clipPath id="cp2"><rect x="117.6" y="234.6" width="64.2" height="182"/></clipPath></defs>
<g clip-path="url(#cp1)">
<path d="M43.6,266.90 L44.1,266.90 L44.6,266.90 L45.1,266.90 L45.6,266.90 L46.1,266.90 L46.6,266.90 L47.1,266.90 L47.6,266.90 L48.1,266.90 L48.6,266.90 L49.1,266.90 L49.6,266.90 L50.1,266.90 L50.6,266.90 L51.1,266.90 L51.6,266.90 L52.1,266.90 L52.6,266.90 L53.1,266.90 L53.6,266.90 L54.1,266.90 L54.6,266.90 L55.1,266.60 L55.6,266.58 L56.1,266.56 L56.6,266.55 L57.1,266.53 L57.6,266.52 L58.1,266.49 L58.6,266.46 L59.1,266.43 L59.6,266.38 L60.1,266.31 L60.6,266.23 L61.1,266.12 L61.6,265.98 L62.1,265.86 L62.6,265.56 L63.1,265.09 L63.6,265.29 L64.1,264.87 L64.6,264.43 L65.1,263.66 L65.6,262.98 L66.1,262.14 L66.6,261.18 L67.1,259.71 L67.6,258.69 L68.1,258.09 L68.6,257.77 L69.1,257.47 L69.6,257.64 L70.1,257.58 L70.6,256.42 L71.1,255.41 L71.6,254.34 L72.1,253.00 L72.6,250.54 L73.1,248.08 L73.6,249.44 L74.1,250.72 L74.6,251.84 L75.1,252.94 L75.6,252.92 L76.1,252.97 L76.6,252.79 L77.1,253.52 L77.6,253.84 L78.1,254.50 L78.6,255.82 L79.1,257.12 L79.6,258.91 L80.1,260.83 L80.6,262.21 L81.1,262.75 L81.6,263.73 L82.1,264.69 L82.6,265.64 L83.1,265.97 L83.6,266.25 L84.1,266.45 L84.6,266.58 L85.1,266.67 L85.6,266.74 L86.1,266.82 L86.6,266.90 L87.1,266.90 L87.6,266.90 L88.1,266.90 L88.6,266.90 L89.1,266.90 L89.6,266.90 L90.1,266.90 L90.6,266.90 L91.1,266.90 L91.6,266.90 L92.1,266.90 L92.6,266.90 L93.1,266.90 L93.6,266.90 L94.1,266.90 L94.6,266.90 L95.1,266.90 L95.6,266.90 L96.1,266.90 L96.6,266.90 L97.1,266.90 L97.6,266.90 L98.1,266.90 L98.6,266.90 L99.1,266.90 L99.6,266.90 L100.1,266.90 L100.6,266.90 L101.1,266.90 L101.6,266.90 L102.1,266.90 L102.6,266.90 L103.1,266.90 L103.6,266.90 L104.1,266.90 L104.6,266.90 L105.1,266.90 L105.6,266.90 L106.1,266.90 L106.6,266.90 L107.1,266.90 L107.6,266.90 L108.1,266.90 L108.6,266.90 L109.1,266.90 L109.6,266.90 L110.1,266.90 L110.6,266.90 L110.6,266.9 L43.6,266.9Z" fill="#c9cad3"/>
<path d="M43.6,266.90 L44.1,266.90 L44.6,266.90 L45.1,266.90 L45.6,266.90 L46.1,266.90 L46.6,266.90 L47.1,266.90 L47.6,266.90 L48.1,266.90 L48.6,266.90 L49.1,266.90 L49.6,266.90 L50.1,266.90 L50.6,266.90 L51.1,266.90 L51.6,266.90 L52.1,266.90 L52.6,266.90 L53.1,266.90 L53.6,266.90 L54.1,266.90 L54.6,266.90 L55.1,266.60 L55.6,266.58 L56.1,266.56 L56.6,266.55 L57.1,266.53 L57.6,266.52 L58.1,266.49 L58.6,266.46 L59.1,266.43 L59.6,266.38 L60.1,266.31 L60.6,266.23 L61.1,266.12 L61.6,265.98 L62.1,265.86 L62.6,265.56 L63.1,265.09 L63.6,265.29 L64.1,264.87 L64.6,264.43 L65.1,263.66 L65.6,262.98 L66.1,262.14 L66.6,261.18 L67.1,259.71 L67.6,258.69 L68.1,258.09 L68.6,257.77 L69.1,257.47 L69.6,257.64 L70.1,257.58 L70.6,256.42 L71.1,255.41 L71.6,254.34 L72.1,253.00 L72.6,250.54 L73.1,248.08 L73.6,249.44 L74.1,250.72 L74.6,251.84 L75.1,252.94 L75.6,252.92 L76.1,252.97 L76.6,252.79 L77.1,253.52 L77.6,253.84 L78.1,254.50 L78.6,255.82 L79.1,257.12 L79.6,258.91 L80.1,260.83 L80.6,262.21 L81.1,262.75 L81.6,263.73 L82.1,264.69 L82.6,265.64 L83.1,265.97 L83.6,266.25 L84.1,266.45 L84.6,266.58 L85.1,266.67 L85.6,266.74 L86.1,266.82 L86.6,266.90 L87.1,266.90 L87.6,266.90 L88.1,266.90 L88.6,266.90 L89.1,266.90 L89.6,266.90 L90.1,266.90 L90.6,266.90 L91.1,266.90 L91.6,266.90 L92.1,266.90 L92.6,266.90 L93.1,266.90 L93.6,266.90 L94.1,266.90 L94.6,266.90 L95.1,266.90 L95.6,266.90 L96.1,266.90 L96.6,266.90 L97.1,266.90 L97.6,266.90 L98.1,266.90 L98.6,266.90 L99.1,266.90 L99.6,266.90 L100.1,266.90 L100.6,266.90 L101.1,266.90 L101.6,266.90 L102.1,266.90 L102.6,266.90 L103.1,266.90 L103.6,266.90 L104.1,266.90 L104.6,266.90 L105.1,266.90 L105.6,266.90 L106.1,266.90 L106.6,266.90 L107.1,266.90 L107.6,266.90 L108.1,266.90 L108.6,266.90 L109.1,266.90 L109.6,266.90 L110.1,266.90 L110.6,266.90" fill="none" stroke="#343a4c" stroke-width="1.05" stroke-linejoin="round"/>
<path d="M43.6,280.46 L44.1,280.46 L44.6,280.46 L45.1,280.46 L45.6,280.46 L46.1,280.46 L46.6,280.46 L47.1,280.46 L47.6,280.46 L48.1,280.46 L48.6,280.46 L49.1,280.46 L49.6,280.46 L50.1,280.46 L50.6,280.46 L51.1,280.46 L51.6,280.46 L52.1,280.46 L52.6,280.46 L53.1,280.46 L53.6,280.46 L54.1,280.46 L54.6,280.46 L55.1,280.45 L55.6,280.41 L56.1,280.38 L56.6,280.34 L57.1,280.31 L57.6,280.27 L58.1,280.24 L58.6,280.20 L59.1,280.16 L59.6,280.12 L60.1,280.07 L60.6,280.02 L61.1,279.97 L61.6,279.91 L62.1,279.84 L62.6,279.76 L63.1,279.67 L63.6,279.58 L64.1,279.76 L64.6,279.14 L65.1,279.23 L65.6,278.53 L66.1,277.82 L66.6,277.92 L67.1,277.09 L67.6,276.99 L68.1,276.43 L68.6,276.58 L69.1,275.58 L69.6,275.19 L70.1,274.53 L70.6,273.97 L71.1,272.40 L71.6,271.24 L72.1,269.82 L72.6,268.72 L73.1,267.56 L73.6,265.92 L74.1,264.64 L74.6,263.50 L75.1,262.88 L75.6,261.63 L76.1,260.97 L76.6,259.82 L77.1,259.21 L77.6,258.04 L78.1,257.67 L78.6,258.57 L79.1,260.11 L79.6,261.67 L80.1,262.37 L80.6,263.81 L81.1,265.41 L81.6,266.76 L82.1,268.09 L82.6,269.58 L83.1,271.32 L83.6,272.42 L84.1,274.26 L84.6,275.52 L85.1,276.96 L85.6,278.65 L86.1,279.18 L86.6,279.55 L87.1,279.83 L87.6,280.02 L88.1,280.14 L88.6,280.22 L89.1,280.29 L89.6,280.37 L90.1,280.46 L90.6,280.46 L91.1,280.46 L91.6,280.46 L92.1,280.46 L92.6,280.46 L93.1,280.46 L93.6,280.46 L94.1,280.46 L94.6,280.46 L95.1,280.46 L95.6,280.46 L96.1,280.46 L96.6,280.46 L97.1,280.46 L97.6,280.46 L98.1,280.46 L98.6,280.46 L99.1,280.46 L99.6,280.46 L100.1,280.46 L100.6,280.46 L101.1,280.46 L101.6,280.46 L102.1,280.46 L102.6,280.46 L103.1,280.46 L103.6,280.46 L104.1,280.46 L104.6,280.46 L105.1,280.46 L105.6,280.46 L106.1,280.46 L106.6,280.46 L107.1,280.46 L107.6,280.46 L108.1,280.46 L108.6,280.46 L109.1,280.46 L109.6,280.46 L110.1,280.46 L110.6,280.46 L110.6,280.5 L43.6,280.5Z" fill="#c9cad3"/>
<path d="M43.6,280.46 L44.1,280.46 L44.6,280.46 L45.1,280.46 L45.6,280.46 L46.1,280.46 L46.6,280.46 L47.1,280.46 L47.6,280.46 L48.1,280.46 L48.6,280.46 L49.1,280.46 L49.6,280.46 L50.1,280.46 L50.6,280.46 L51.1,280.46 L51.6,280.46 L52.1,280.46 L52.6,280.46 L53.1,280.46 L53.6,280.46 L54.1,280.46 L54.6,280.46 L55.1,280.46 L55.6,280.46 L56.1,280.46 L56.6,280.46 L57.1,280.46 L57.6,280.46 L58.1,280.46 L58.6,280.46 L59.1,280.46 L59.6,280.46 L60.1,280.46 L60.6,280.46 L61.1,280.46 L61.6,280.46 L62.1,280.46 L62.6,280.45 L63.1,280.40 L63.6,280.35 L64.1,280.30 L64.6,280.26 L65.1,280.21 L65.6,280.16 L66.1,280.10 L66.6,280.03 L67.1,279.95 L67.6,279.86 L68.1,279.76 L68.6,279.64 L69.1,279.41 L69.6,279.15 L70.1,278.59 L70.6,278.34 L71.1,277.42 L71.6,276.97 L72.1,276.54 L72.6,276.24 L73.1,275.25 L73.6,274.56 L74.1,273.17 L74.6,270.83 L75.1,269.16 L75.6,268.16 L76.1,265.64 L76.6,264.17 L77.1,263.09 L77.6,261.88 L78.1,260.48 L78.6,259.56 L79.1,258.51 L79.6,259.70 L80.1,262.18 L80.6,263.34 L81.1,264.98 L81.6,266.61 L82.1,268.86 L82.6,271.43 L83.1,273.43 L83.6,275.02 L84.1,276.53 L84.6,278.76 L85.1,279.54 L85.6,279.85 L86.1,280.08 L86.6,280.21 L87.1,280.31 L87.6,280.43 L88.1,280.46 L88.6,280.46 L89.1,280.46 L89.6,280.46 L90.1,280.46 L90.6,280.46 L91.1,280.46 L91.6,280.46 L92.1,280.46 L92.6,280.46 L93.1,280.46 L93.6,280.46 L94.1,280.46 L94.6,280.46 L95.1,280.46 L95.6,280.46 L96.1,280.46 L96.6,280.46 L97.1,280.46 L97.6,280.46 L98.1,280.46 L98.6,280.46 L99.1,280.46 L99.6,280.46 L100.1,280.46 L100.6,280.46 L101.1,280.46 L101.6,280.46 L102.1,280.46 L102.6,280.46 L103.1,280.46 L103.6,280.46 L104.1,280.46 L104.6,280.46 L105.1,280.46 L105.6,280.46 L106.1,280.46 L106.6,280.46 L107.1,280.46 L107.6,280.46 L108.1,280.46 L108.6,280.46 L109.1,280.46 L109.6,280.46 L110.1,280.46 L110.6,280.46 L110.6,280.5 L43.6,280.5Z" fill="#9a9dab"/>
<path d="M43.6,280.46 L44.1,280.46 L44.6,280.46 L45.1,280.46 L45.6,280.46 L46.1,280.46 L46.6,280.46 L47.1,280.46 L47.6,280.46 L48.1,280.46 L48.6,280.46 L49.1,280.46 L49.6,280.46 L50.1,280.46 L50.6,280.46 L51.1,280.46 L51.6,280.46 L52.1,280.46 L52.6,280.46 L53.1,280.46 L53.6,280.46 L54.1,280.46 L54.6,280.46 L55.1,280.45 L55.6,280.41 L56.1,280.38 L56.6,280.34 L57.1,280.31 L57.6,280.27 L58.1,280.24 L58.6,280.20 L59.1,280.16 L59.6,280.12 L60.1,280.07 L60.6,280.02 L61.1,279.97 L61.6,279.91 L62.1,279.84 L62.6,279.76 L63.1,279.67 L63.6,279.58 L64.1,279.76 L64.6,279.14 L65.1,279.23 L65.6,278.53 L66.1,277.82 L66.6,277.92 L67.1,277.09 L67.6,276.99 L68.1,276.43 L68.6,276.58 L69.1,275.58 L69.6,275.19 L70.1,274.53 L70.6,273.97 L71.1,272.40 L71.6,271.24 L72.1,269.82 L72.6,268.72 L73.1,267.56 L73.6,265.92 L74.1,264.64 L74.6,263.50 L75.1,262.88 L75.6,261.63 L76.1,260.97 L76.6,259.82 L77.1,259.21 L77.6,258.04 L78.1,257.67 L78.6,258.57 L79.1,260.11 L79.6,261.67 L80.1,262.37 L80.6,263.81 L81.1,265.41 L81.6,266.76 L82.1,268.09 L82.6,269.58 L83.1,271.32 L83.6,272.42 L84.1,274.26 L84.6,275.52 L85.1,276.96 L85.6,278.65 L86.1,279.18 L86.6,279.55 L87.1,279.83 L87.6,280.02 L88.1,280.14 L88.6,280.22 L89.1,280.29 L89.6,280.37 L90.1,280.46 L90.6,280.46 L91.1,280.46 L91.6,280.46 L92.1,280.46 L92.6,280.46 L93.1,280.46 L93.6,280.46 L94.1,280.46 L94.6,280.46 L95.1,280.46 L95.6,280.46 L96.1,280.46 L96.6,280.46 L97.1,280.46 L97.6,280.46 L98.1,280.46 L98.6,280.46 L99.1,280.46 L99.6,280.46 L100.1,280.46 L100.6,280.46 L101.1,280.46 L101.6,280.46 L102.1,280.46 L102.6,280.46 L103.1,280.46 L103.6,280.46 L104.1,280.46 L104.6,280.46 L105.1,280.46 L105.6,280.46 L106.1,280.46 L106.6,280.46 L107.1,280.46 L107.6,280.46 L108.1,280.46 L108.6,280.46 L109.1,280.46 L109.6,280.46 L110.1,280.46 L110.6,280.46" fill="none" stroke="#343a4c" stroke-width="1.05" stroke-linejoin="round"/>
<path d="M43.6,294.02 L44.1,294.02 L44.6,294.02 L45.1,294.02 L45.6,294.02 L46.1,294.02 L46.6,294.02 L47.1,294.02 L47.6,294.02 L48.1,294.02 L48.6,294.02 L49.1,294.02 L49.6,294.02 L50.1,294.02 L50.6,294.02 L51.1,294.02 L51.6,294.02 L52.1,294.02 L52.6,294.02 L53.1,294.02 L53.6,294.02 L54.1,294.02 L54.6,294.02 L55.1,294.01 L55.6,293.97 L56.1,293.94 L56.6,293.90 L57.1,293.87 L57.6,293.83 L58.1,293.80 L58.6,293.77 L59.1,293.73 L59.6,293.69 L60.1,293.65 L60.6,293.61 L61.1,293.56 L61.6,293.50 L62.1,293.44 L62.6,293.37 L63.1,293.30 L63.6,293.21 L64.1,293.12 L64.6,293.02 L65.1,292.58 L65.6,292.76 L66.1,292.34 L66.6,292.20 L67.1,291.20 L67.6,291.38 L68.1,290.61 L68.6,290.27 L69.1,289.69 L69.6,289.26 L70.1,288.52 L70.6,287.69 L71.1,287.03 L71.6,285.51 L72.1,283.90 L72.6,281.90 L73.1,280.76 L73.6,280.07 L74.1,279.25 L74.6,278.20 L75.1,276.98 L75.6,276.97 L76.1,276.03 L76.6,275.05 L77.1,274.72 L77.6,273.51 L78.1,272.85 L78.6,272.18 L79.1,271.87 L79.6,270.88 L80.1,271.79 L80.6,272.69 L81.1,274.28 L81.6,275.71 L82.1,276.74 L82.6,278.06 L83.1,279.37 L83.6,280.97 L84.1,282.12 L84.6,284.22 L85.1,286.21 L85.6,287.85 L86.1,288.36 L86.6,289.27 L87.1,290.33 L87.6,291.39 L88.1,292.08 L88.6,292.83 L89.1,293.05 L89.6,293.27 L90.1,293.45 L90.6,293.58 L91.1,293.67 L91.6,293.75 L92.1,293.81 L92.6,293.88 L93.1,293.95 L93.6,294.02 L94.1,294.02 L94.6,294.02 L95.1,294.02 L95.6,294.02 L96.1,294.02 L96.6,294.02 L97.1,294.02 L97.6,294.02 L98.1,294.02 L98.6,294.02 L99.1,294.02 L99.6,294.02 L100.1,294.02 L100.6,294.02 L101.1,294.02 L101.6,294.02 L102.1,294.02 L102.6,294.02 L103.1,294.02 L103.6,294.02 L104.1,294.02 L104.6,294.02 L105.1,294.02 L105.6,294.02 L106.1,294.02 L106.6,294.02 L107.1,294.02 L107.6,294.02 L108.1,294.02 L108.6,294.02 L109.1,294.02 L109.6,294.02 L110.1,294.02 L110.6,294.02 L110.6,294.0 L43.6,294.0Z" fill="#9a9dab"/>
<path d="M43.6,294.02 L44.1,294.02 L44.6,294.02 L45.1,294.02 L45.6,294.02 L46.1,294.02 L46.6,294.02 L47.1,294.02 L47.6,294.02 L48.1,294.02 L48.6,294.02 L49.1,294.02 L49.6,294.02 L50.1,294.02 L50.6,294.02 L51.1,294.02 L51.6,294.02 L52.1,294.02 L52.6,294.02 L53.1,294.02 L53.6,294.02 L54.1,294.02 L54.6,294.02 L55.1,294.02 L55.6,294.02 L56.1,294.02 L56.6,294.02 L57.1,294.02 L57.6,294.02 L58.1,294.02 L58.6,294.02 L59.1,294.02 L59.6,294.02 L60.1,294.02 L60.6,294.02 L61.1,294.02 L61.6,294.02 L62.1,294.02 L62.6,294.02 L63.1,294.00 L63.6,293.95 L64.1,293.91 L64.6,293.86 L65.1,293.82 L65.6,293.77 L66.1,293.72 L66.6,293.67 L67.1,293.61 L67.6,293.54 L68.1,293.46 L68.6,293.36 L69.1,293.25 L69.6,293.13 L70.1,292.95 L70.6,292.44 L71.1,291.90 L71.6,291.85 L72.1,290.97 L72.6,290.49 L73.1,289.89 L73.6,289.38 L74.1,288.38 L74.6,286.91 L75.1,284.68 L75.6,282.81 L76.1,280.91 L76.6,279.87 L77.1,278.39 L77.6,277.33 L78.1,276.85 L78.6,275.43 L79.1,275.06 L79.6,273.70 L80.1,272.64 L80.6,272.36 L81.1,272.59 L81.6,274.66 L82.1,276.15 L82.6,278.31 L83.1,279.87 L83.6,281.34 L84.1,283.81 L84.6,286.49 L85.1,288.50 L85.6,289.22 L86.1,290.86 L86.6,291.64 L87.1,293.02 L87.6,293.15 L88.1,293.42 L88.6,293.60 L89.1,293.72 L89.6,293.81 L90.1,293.90 L90.6,294.00 L91.1,294.02 L91.6,294.02 L92.1,294.02 L92.6,294.02 L93.1,294.02 L93.6,294.02 L94.1,294.02 L94.6,294.02 L95.1,294.02 L95.6,294.02 L96.1,294.02 L96.6,294.02 L97.1,294.02 L97.6,294.02 L98.1,294.02 L98.6,294.02 L99.1,294.02 L99.6,294.02 L100.1,294.02 L100.6,294.02 L101.1,294.02 L101.6,294.02 L102.1,294.02 L102.6,294.02 L103.1,294.02 L103.6,294.02 L104.1,294.02 L104.6,294.02 L105.1,294.02 L105.6,294.02 L106.1,294.02 L106.6,294.02 L107.1,294.02 L107.6,294.02 L108.1,294.02 L108.6,294.02 L109.1,294.02 L109.6,294.02 L110.1,294.02 L110.6,294.02 L110.6,294.0 L43.6,294.0Z" fill="#6c7083"/>
<path d="M43.6,294.02 L44.1,294.02 L44.6,294.02 L45.1,294.02 L45.6,294.02 L46.1,294.02 L46.6,294.02 L47.1,294.02 L47.6,294.02 L48.1,294.02 L48.6,294.02 L49.1,294.02 L49.6,294.02 L50.1,294.02 L50.6,294.02 L51.1,294.02 L51.6,294.02 L52.1,294.02 L52.6,294.02 L53.1,294.02 L53.6,294.02 L54.1,294.02 L54.6,294.02 L55.1,294.01 L55.6,293.97 L56.1,293.94 L56.6,293.90 L57.1,293.87 L57.6,293.83 L58.1,293.80 L58.6,293.77 L59.1,293.73 L59.6,293.69 L60.1,293.65 L60.6,293.61 L61.1,293.56 L61.6,293.50 L62.1,293.44 L62.6,293.37 L63.1,293.30 L63.6,293.21 L64.1,293.12 L64.6,293.02 L65.1,292.58 L65.6,292.76 L66.1,292.34 L66.6,292.20 L67.1,291.20 L67.6,291.38 L68.1,290.61 L68.6,290.27 L69.1,289.69 L69.6,289.26 L70.1,288.52 L70.6,287.69 L71.1,287.03 L71.6,285.51 L72.1,283.90 L72.6,281.90 L73.1,280.76 L73.6,280.07 L74.1,279.25 L74.6,278.20 L75.1,276.98 L75.6,276.97 L76.1,276.03 L76.6,275.05 L77.1,274.72 L77.6,273.51 L78.1,272.85 L78.6,272.18 L79.1,271.87 L79.6,270.88 L80.1,271.79 L80.6,272.69 L81.1,274.28 L81.6,275.71 L82.1,276.74 L82.6,278.06 L83.1,279.37 L83.6,280.97 L84.1,282.12 L84.6,284.22 L85.1,286.21 L85.6,287.85 L86.1,288.36 L86.6,289.27 L87.1,290.33 L87.6,291.39 L88.1,292.08 L88.6,292.83 L89.1,293.05 L89.6,293.27 L90.1,293.45 L90.6,293.58 L91.1,293.67 L91.6,293.75 L92.1,293.81 L92.6,293.88 L93.1,293.95 L93.6,294.02 L94.1,294.02 L94.6,294.02 L95.1,294.02 L95.6,294.02 L96.1,294.02 L96.6,294.02 L97.1,294.02 L97.6,294.02 L98.1,294.02 L98.6,294.02 L99.1,294.02 L99.6,294.02 L100.1,294.02 L100.6,294.02 L101.1,294.02 L101.6,294.02 L102.1,294.02 L102.6,294.02 L103.1,294.02 L103.6,294.02 L104.1,294.02 L104.6,294.02 L105.1,294.02 L105.6,294.02 L106.1,294.02 L106.6,294.02 L107.1,294.02 L107.6,294.02 L108.1,294.02 L108.6,294.02 L109.1,294.02 L109.6,294.02 L110.1,294.02 L110.6,294.02" fill="none" stroke="#343a4c" stroke-width="1.05" stroke-linejoin="round"/>
<path d="M43.6,307.58 L44.1,307.58 L44.6,307.58 L45.1,307.58 L45.6,307.58 L46.1,307.58 L46.6,307.58 L47.1,307.58 L47.6,307.58 L48.1,307.58 L48.6,307.58 L49.1,307.58 L49.6,307.58 L50.1,307.58 L50.6,307.58 L51.1,307.58 L51.6,307.58 L52.1,307.58 L52.6,307.58 L53.1,307.58 L53.6,307.58 L54.1,307.58 L54.6,307.58 L55.1,307.57 L55.6,307.54 L56.1,307.51 L56.6,307.48 L57.1,307.46 L57.6,307.43 L58.1,307.40 L58.6,307.38 L59.1,307.35 L59.6,307.33 L60.1,307.30 L60.6,307.27 L61.1,307.23 L61.6,307.20 L62.1,307.16 L62.6,307.12 L63.1,307.07 L63.6,307.02 L64.1,306.96 L64.6,306.90 L65.1,306.83 L65.6,306.75 L66.1,306.67 L66.6,306.58 L67.1,306.39 L67.6,305.77 L68.1,305.83 L68.6,305.09 L69.1,304.79 L69.6,303.87 L70.1,303.56 L70.6,302.73 L71.1,301.55 L71.6,301.26 L72.1,300.41 L72.6,299.56 L73.1,298.24 L73.6,297.39 L74.1,296.18 L74.6,294.98 L75.1,294.42 L75.6,292.94 L76.1,291.71 L76.6,290.00 L77.1,289.62 L77.6,288.59 L78.1,288.56 L78.6,288.15 L79.1,288.10 L79.6,286.79 L80.1,286.27 L80.6,285.96 L81.1,286.25 L81.6,287.52 L82.1,288.83 L82.6,289.84 L83.1,290.53 L83.6,292.02 L84.1,293.43 L84.6,294.66 L85.1,295.34 L85.6,296.93 L86.1,297.87 L86.6,298.65 L87.1,299.77 L87.6,300.65 L88.1,301.37 L88.6,302.32 L89.1,303.10 L89.6,304.00 L90.1,304.33 L90.6,305.34 L91.1,305.77 L91.6,306.13 L92.1,306.60 L92.6,306.68 L93.1,306.93 L93.6,307.11 L94.1,307.23 L94.6,307.33 L95.1,307.39 L95.6,307.45 L96.1,307.49 L96.6,307.54 L97.1,307.58 L97.6,307.58 L98.1,307.58 L98.6,307.58 L99.1,307.58 L99.6,307.58 L100.1,307.58 L100.6,307.58 L101.1,307.58 L101.6,307.58 L102.1,307.58 L102.6,307.58 L103.1,307.58 L103.6,307.58 L104.1,307.58 L104.6,307.58 L105.1,307.58 L105.6,307.58 L106.1,307.58 L106.6,307.58 L107.1,307.58 L107.6,307.58 L108.1,307.58 L108.6,307.58 L109.1,307.58 L109.6,307.58 L110.1,307.58 L110.6,307.58 L110.6,307.6 L43.6,307.6Z" fill="#4a4f63"/>
<path d="M43.6,307.58 L44.1,307.58 L44.6,307.58 L45.1,307.58 L45.6,307.58 L46.1,307.58 L46.6,307.58 L47.1,307.58 L47.6,307.58 L48.1,307.58 L48.6,307.58 L49.1,307.58 L49.6,307.58 L50.1,307.58 L50.6,307.58 L51.1,307.58 L51.6,307.58 L52.1,307.58 L52.6,307.58 L53.1,307.58 L53.6,307.58 L54.1,307.58 L54.6,307.58 L55.1,307.57 L55.6,307.54 L56.1,307.51 L56.6,307.48 L57.1,307.46 L57.6,307.43 L58.1,307.40 L58.6,307.38 L59.1,307.35 L59.6,307.33 L60.1,307.30 L60.6,307.27 L61.1,307.23 L61.6,307.20 L62.1,307.16 L62.6,307.12 L63.1,307.07 L63.6,307.02 L64.1,306.96 L64.6,306.90 L65.1,306.83 L65.6,306.75 L66.1,306.67 L66.6,306.58 L67.1,306.39 L67.6,305.77 L68.1,305.83 L68.6,305.09 L69.1,304.79 L69.6,303.87 L70.1,303.56 L70.6,302.73 L71.1,301.55 L71.6,301.26 L72.1,300.41 L72.6,299.56 L73.1,298.24 L73.6,297.39 L74.1,296.18 L74.6,294.98 L75.1,294.42 L75.6,292.94 L76.1,291.71 L76.6,290.00 L77.1,289.62 L77.6,288.59 L78.1,288.56 L78.6,288.15 L79.1,288.10 L79.6,286.79 L80.1,286.27 L80.6,285.96 L81.1,286.25 L81.6,287.52 L82.1,288.83 L82.6,289.84 L83.1,290.53 L83.6,292.02 L84.1,293.43 L84.6,294.66 L85.1,295.34 L85.6,296.93 L86.1,297.87 L86.6,298.65 L87.1,299.77 L87.6,300.65 L88.1,301.37 L88.6,302.32 L89.1,303.10 L89.6,304.00 L90.1,304.33 L90.6,305.34 L91.1,305.77 L91.6,306.13 L92.1,306.60 L92.6,306.68 L93.1,306.93 L93.6,307.11 L94.1,307.23 L94.6,307.33 L95.1,307.39 L95.6,307.45 L96.1,307.49 L96.6,307.54 L97.1,307.58 L97.6,307.58 L98.1,307.58 L98.6,307.58 L99.1,307.58 L99.6,307.58 L100.1,307.58 L100.6,307.58 L101.1,307.58 L101.6,307.58 L102.1,307.58 L102.6,307.58 L103.1,307.58 L103.6,307.58 L104.1,307.58 L104.6,307.58 L105.1,307.58 L105.6,307.58 L106.1,307.58 L106.6,307.58 L107.1,307.58 L107.6,307.58 L108.1,307.58 L108.6,307.58 L109.1,307.58 L109.6,307.58 L110.1,307.58 L110.6,307.58" fill="none" stroke="#343a4c" stroke-width="1.05" stroke-linejoin="round"/>
<path d="M43.6,321.14 L44.1,321.14 L44.6,321.14 L45.1,321.14 L45.6,321.14 L46.1,321.14 L46.6,321.14 L47.1,321.14 L47.6,321.14 L48.1,321.14 L48.6,321.14 L49.1,321.14 L49.6,321.14 L50.1,321.14 L50.6,321.14 L51.1,321.14 L51.6,321.14 L52.1,321.14 L52.6,321.14 L53.1,321.14 L53.6,321.14 L54.1,321.14 L54.6,321.14 L55.1,321.14 L55.6,321.14 L56.1,321.14 L56.6,321.14 L57.1,321.14 L57.6,321.14 L58.1,321.14 L58.6,321.14 L59.1,321.14 L59.6,321.14 L60.1,321.13 L60.6,321.08 L61.1,321.02 L61.6,320.98 L62.1,320.93 L62.6,320.88 L63.1,320.83 L63.6,320.77 L64.1,320.72 L64.6,320.66 L65.1,320.60 L65.6,320.53 L66.1,320.45 L66.6,320.37 L67.1,320.28 L67.6,320.19 L68.1,320.17 L68.6,319.68 L69.1,319.87 L69.6,319.70 L70.1,318.88 L70.6,318.44 L71.1,317.96 L71.6,317.87 L72.1,316.75 L72.6,315.58 L73.1,314.31 L73.6,313.15 L74.1,311.95 L74.6,310.36 L75.1,309.39 L75.6,308.03 L76.1,306.80 L76.6,306.21 L77.1,305.46 L77.6,304.36 L78.1,303.38 L78.6,302.00 L79.1,302.01 L79.6,304.25 L80.1,307.09 L80.6,308.97 L81.1,310.47 L81.6,311.63 L82.1,312.82 L82.6,314.99 L83.1,316.37 L83.6,317.98 L84.1,319.23 L84.6,319.74 L85.1,320.42 L85.6,320.79 L86.1,320.98 L86.6,321.06 L87.1,321.09 L87.6,321.11 L88.1,321.14 L88.6,321.14 L89.1,321.14 L89.6,321.14 L90.1,321.14 L90.6,321.14 L91.1,321.14 L91.6,321.14 L92.1,321.14 L92.6,321.14 L93.1,321.14 L93.6,321.14 L94.1,321.14 L94.6,321.14 L95.1,321.14 L95.6,321.14 L96.1,321.14 L96.6,321.14 L97.1,321.14 L97.6,321.14 L98.1,321.14 L98.6,321.14 L99.1,321.14 L99.6,321.14 L100.1,321.14 L100.6,321.14 L101.1,321.14 L101.6,321.14 L102.1,321.14 L102.6,321.14 L103.1,321.14 L103.6,321.14 L104.1,321.14 L104.6,321.14 L105.1,321.14 L105.6,321.14 L106.1,321.14 L106.6,321.14 L107.1,321.14 L107.6,321.14 L108.1,321.14 L108.6,321.14 L109.1,321.14 L109.6,321.14 L110.1,321.14 L110.6,321.14 L110.6,321.1 L43.6,321.1Z" fill="#f7e0bb"/>
<path d="M43.6,321.14 L44.1,321.14 L44.6,321.14 L45.1,321.14 L45.6,321.14 L46.1,321.14 L46.6,321.14 L47.1,321.14 L47.6,321.14 L48.1,321.14 L48.6,321.14 L49.1,321.14 L49.6,321.14 L50.1,321.14 L50.6,321.14 L51.1,321.14 L51.6,321.14 L52.1,321.14 L52.6,321.14 L53.1,321.14 L53.6,321.14 L54.1,321.14 L54.6,321.14 L55.1,321.14 L55.6,321.14 L56.1,321.14 L56.6,321.14 L57.1,321.14 L57.6,321.14 L58.1,321.14 L58.6,321.14 L59.1,321.14 L59.6,321.14 L60.1,321.13 L60.6,321.08 L61.1,321.02 L61.6,320.98 L62.1,320.93 L62.6,320.88 L63.1,320.83 L63.6,320.77 L64.1,320.72 L64.6,320.66 L65.1,320.60 L65.6,320.53 L66.1,320.45 L66.6,320.37 L67.1,320.28 L67.6,320.19 L68.1,320.17 L68.6,319.68 L69.1,319.87 L69.6,319.70 L70.1,318.88 L70.6,318.44 L71.1,317.96 L71.6,317.87 L72.1,316.75 L72.6,315.58 L73.1,314.31 L73.6,313.15 L74.1,311.95 L74.6,310.36 L75.1,309.39 L75.6,308.03 L76.1,306.80 L76.6,306.21 L77.1,305.46 L77.6,304.36 L78.1,303.38 L78.6,302.00 L79.1,302.01 L79.6,304.25 L80.1,307.09 L80.6,308.97 L81.1,310.47 L81.6,311.63 L82.1,312.82 L82.6,314.99 L83.1,316.37 L83.6,317.98 L84.1,319.23 L84.6,319.74 L85.1,320.42 L85.6,320.79 L86.1,320.98 L86.6,321.06 L87.1,321.09 L87.6,321.11 L88.1,321.14 L88.6,321.14 L89.1,321.14 L89.6,321.14 L90.1,321.14 L90.6,321.14 L91.1,321.14 L91.6,321.14 L92.1,321.14 L92.6,321.14 L93.1,321.14 L93.6,321.14 L94.1,321.14 L94.6,321.14 L95.1,321.14 L95.6,321.14 L96.1,321.14 L96.6,321.14 L97.1,321.14 L97.6,321.14 L98.1,321.14 L98.6,321.14 L99.1,321.14 L99.6,321.14 L100.1,321.14 L100.6,321.14 L101.1,321.14 L101.6,321.14 L102.1,321.14 L102.6,321.14 L103.1,321.14 L103.6,321.14 L104.1,321.14 L104.6,321.14 L105.1,321.14 L105.6,321.14 L106.1,321.14 L106.6,321.14 L107.1,321.14 L107.6,321.14 L108.1,321.14 L108.6,321.14 L109.1,321.14 L109.6,321.14 L110.1,321.14 L110.6,321.14" fill="none" stroke="#e0931f" stroke-width="1.05" stroke-linejoin="round"/>
<path d="M43.6,334.70 L44.1,334.70 L44.6,334.70 L45.1,334.70 L45.6,334.70 L46.1,334.70 L46.6,334.70 L47.1,334.70 L47.6,334.70 L48.1,334.70 L48.6,334.70 L49.1,334.70 L49.6,334.70 L50.1,334.70 L50.6,334.70 L51.1,334.70 L51.6,334.70 L52.1,334.70 L52.6,334.70 L53.1,334.70 L53.6,334.70 L54.1,334.70 L54.6,334.70 L55.1,334.70 L55.6,334.70 L56.1,334.70 L56.6,334.70 L57.1,334.70 L57.6,334.70 L58.1,334.70 L58.6,334.70 L59.1,334.70 L59.6,334.70 L60.1,334.69 L60.6,334.64 L61.1,334.58 L61.6,334.53 L62.1,334.48 L62.6,334.42 L63.1,334.37 L63.6,334.31 L64.1,334.25 L64.6,334.19 L65.1,334.13 L65.6,334.06 L66.1,333.99 L66.6,333.92 L67.1,333.85 L67.6,333.77 L68.1,333.84 L68.6,333.62 L69.1,333.47 L69.6,333.68 L70.1,333.27 L70.6,332.76 L71.1,332.77 L71.6,332.43 L72.1,331.77 L72.6,331.39 L73.1,330.25 L73.6,328.10 L74.1,326.80 L74.6,324.89 L75.1,323.31 L75.6,321.77 L76.1,320.03 L76.6,318.81 L77.1,317.43 L77.6,315.42 L78.1,313.77 L78.6,312.37 L79.1,311.74 L79.6,311.38 L80.1,312.78 L80.6,314.68 L81.1,316.15 L81.6,317.87 L82.1,319.51 L82.6,321.14 L83.1,322.80 L83.6,324.07 L84.1,326.34 L84.6,327.78 L85.1,328.91 L85.6,329.85 L86.1,331.12 L86.6,332.26 L87.1,332.79 L87.6,333.33 L88.1,333.53 L88.6,333.84 L89.1,334.01 L89.6,334.14 L90.1,334.25 L90.6,334.35 L91.1,334.47 L91.6,334.55 L92.1,334.61 L92.6,334.66 L93.1,334.70 L93.6,334.70 L94.1,334.70 L94.6,334.70 L95.1,334.70 L95.6,334.70 L96.1,334.70 L96.6,334.70 L97.1,334.70 L97.6,334.70 L98.1,334.70 L98.6,334.70 L99.1,334.70 L99.6,334.70 L100.1,334.70 L100.6,334.70 L101.1,334.70 L101.6,334.70 L102.1,334.70 L102.6,334.70 L103.1,334.70 L103.6,334.70 L104.1,334.70 L104.6,334.70 L105.1,334.70 L105.6,334.70 L106.1,334.70 L106.6,334.70 L107.1,334.70 L107.6,334.70 L108.1,334.70 L108.6,334.70 L109.1,334.70 L109.6,334.70 L110.1,334.70 L110.6,334.70 L110.6,334.7 L43.6,334.7Z" fill="#f7e0bb"/>
<path d="M43.6,334.70 L44.1,334.70 L44.6,334.70 L45.1,334.70 L45.6,334.70 L46.1,334.70 L46.6,334.70 L47.1,334.70 L47.6,334.70 L48.1,334.70 L48.6,334.70 L49.1,334.70 L49.6,334.70 L50.1,334.70 L50.6,334.70 L51.1,334.70 L51.6,334.70 L52.1,334.70 L52.6,334.70 L53.1,334.70 L53.6,334.70 L54.1,334.70 L54.6,334.70 L55.1,334.70 L55.6,334.70 L56.1,334.70 L56.6,334.70 L57.1,334.70 L57.6,334.70 L58.1,334.70 L58.6,334.70 L59.1,334.70 L59.6,334.70 L60.1,334.70 L60.6,334.70 L61.1,334.70 L61.6,334.70 L62.1,334.70 L62.6,334.70 L63.1,334.70 L63.6,334.70 L64.1,334.70 L64.6,334.70 L65.1,334.70 L65.6,334.70 L66.1,334.70 L66.6,334.67 L67.1,334.60 L67.6,334.53 L68.1,334.46 L68.6,334.38 L69.1,334.31 L69.6,334.23 L70.1,334.15 L70.6,334.06 L71.1,333.96 L71.6,333.86 L72.1,333.75 L72.6,333.54 L73.1,333.56 L73.6,333.20 L74.1,333.41 L74.6,332.56 L75.1,332.19 L75.6,331.08 L76.1,329.30 L76.6,326.82 L77.1,324.96 L77.6,322.61 L78.1,320.02 L78.6,318.35 L79.1,315.94 L79.6,314.02 L80.1,312.71 L80.6,312.65 L81.1,315.12 L81.6,317.27 L82.1,319.12 L82.6,321.53 L83.1,323.37 L83.6,325.83 L84.1,327.80 L84.6,329.23 L85.1,331.16 L85.6,332.91 L86.1,333.26 L86.6,333.82 L87.1,333.93 L87.6,334.12 L88.1,334.27 L88.6,334.42 L89.1,334.54 L89.6,334.62 L90.1,334.69 L90.6,334.70 L91.1,334.70 L91.6,334.70 L92.1,334.70 L92.6,334.70 L93.1,334.70 L93.6,334.70 L94.1,334.70 L94.6,334.70 L95.1,334.70 L95.6,334.70 L96.1,334.70 L96.6,334.70 L97.1,334.70 L97.6,334.70 L98.1,334.70 L98.6,334.70 L99.1,334.70 L99.6,334.70 L100.1,334.70 L100.6,334.70 L101.1,334.70 L101.6,334.70 L102.1,334.70 L102.6,334.70 L103.1,334.70 L103.6,334.70 L104.1,334.70 L104.6,334.70 L105.1,334.70 L105.6,334.70 L106.1,334.70 L106.6,334.70 L107.1,334.70 L107.6,334.70 L108.1,334.70 L108.6,334.70 L109.1,334.70 L109.6,334.70 L110.1,334.70 L110.6,334.70 L110.6,334.7 L43.6,334.7Z" fill="#f0c683"/>
<path d="M43.6,334.70 L44.1,334.70 L44.6,334.70 L45.1,334.70 L45.6,334.70 L46.1,334.70 L46.6,334.70 L47.1,334.70 L47.6,334.70 L48.1,334.70 L48.6,334.70 L49.1,334.70 L49.6,334.70 L50.1,334.70 L50.6,334.70 L51.1,334.70 L51.6,334.70 L52.1,334.70 L52.6,334.70 L53.1,334.70 L53.6,334.70 L54.1,334.70 L54.6,334.70 L55.1,334.70 L55.6,334.70 L56.1,334.70 L56.6,334.70 L57.1,334.70 L57.6,334.70 L58.1,334.70 L58.6,334.70 L59.1,334.70 L59.6,334.70 L60.1,334.69 L60.6,334.64 L61.1,334.58 L61.6,334.53 L62.1,334.48 L62.6,334.42 L63.1,334.37 L63.6,334.31 L64.1,334.25 L64.6,334.19 L65.1,334.13 L65.6,334.06 L66.1,333.99 L66.6,333.92 L67.1,333.85 L67.6,333.77 L68.1,333.84 L68.6,333.62 L69.1,333.47 L69.6,333.68 L70.1,333.27 L70.6,332.76 L71.1,332.77 L71.6,332.43 L72.1,331.77 L72.6,331.39 L73.1,330.25 L73.6,328.10 L74.1,326.80 L74.6,324.89 L75.1,323.31 L75.6,321.77 L76.1,320.03 L76.6,318.81 L77.1,317.43 L77.6,315.42 L78.1,313.77 L78.6,312.37 L79.1,311.74 L79.6,311.38 L80.1,312.78 L80.6,314.68 L81.1,316.15 L81.6,317.87 L82.1,319.51 L82.6,321.14 L83.1,322.80 L83.6,324.07 L84.1,326.34 L84.6,327.78 L85.1,328.91 L85.6,329.85 L86.1,331.12 L86.6,332.26 L87.1,332.79 L87.6,333.33 L88.1,333.53 L88.6,333.84 L89.1,334.01 L89.6,334.14 L90.1,334.25 L90.6,334.35 L91.1,334.47 L91.6,334.55 L92.1,334.61 L92.6,334.66 L93.1,334.70 L93.6,334.70 L94.1,334.70 L94.6,334.70 L95.1,334.70 L95.6,334.70 L96.1,334.70 L96.6,334.70 L97.1,334.70 L97.6,334.70 L98.1,334.70 L98.6,334.70 L99.1,334.70 L99.6,334.70 L100.1,334.70 L100.6,334.70 L101.1,334.70 L101.6,334.70 L102.1,334.70 L102.6,334.70 L103.1,334.70 L103.6,334.70 L104.1,334.70 L104.6,334.70 L105.1,334.70 L105.6,334.70 L106.1,334.70 L106.6,334.70 L107.1,334.70 L107.6,334.70 L108.1,334.70 L108.6,334.70 L109.1,334.70 L109.6,334.70 L110.1,334.70 L110.6,334.70" fill="none" stroke="#e0931f" stroke-width="1.05" stroke-linejoin="round"/>
<path d="M43.6,348.26 L44.1,348.26 L44.6,348.26 L45.1,348.26 L45.6,348.26 L46.1,348.26 L46.6,348.26 L47.1,348.26 L47.6,348.26 L48.1,348.26 L48.6,348.26 L49.1,348.26 L49.6,348.26 L50.1,348.26 L50.6,348.26 L51.1,348.26 L51.6,348.26 L52.1,348.26 L52.6,348.26 L53.1,348.26 L53.6,348.26 L54.1,348.26 L54.6,348.26 L55.1,348.26 L55.6,348.26 L56.1,348.26 L56.6,348.26 L57.1,348.26 L57.6,348.26 L58.1,348.26 L58.6,348.26 L59.1,348.26 L59.6,348.26 L60.1,348.25 L60.6,348.22 L61.1,348.20 L61.6,348.17 L62.1,348.14 L62.6,348.12 L63.1,348.09 L63.6,348.06 L64.1,348.04 L64.6,348.01 L65.1,347.98 L65.6,347.94 L66.1,347.91 L66.6,347.87 L67.1,347.84 L67.6,347.79 L68.1,347.75 L68.6,347.70 L69.1,347.65 L69.6,347.59 L70.1,347.53 L70.6,347.46 L71.1,347.38 L71.6,347.25 L72.1,347.04 L72.6,347.04 L73.1,346.36 L73.6,346.20 L74.1,345.82 L74.6,345.58 L75.1,344.51 L75.6,343.50 L76.1,342.39 L76.6,341.56 L77.1,340.16 L77.6,338.16 L78.1,336.64 L78.6,335.15 L79.1,333.72 L79.6,332.64 L80.1,331.11 L80.6,329.72 L81.1,329.24 L81.6,328.83 L82.1,328.43 L82.6,329.40 L83.1,330.51 L83.6,331.96 L84.1,332.59 L84.6,333.59 L85.1,334.83 L85.6,335.47 L86.1,336.66 L86.6,337.85 L87.1,338.96 L87.6,340.63 L88.1,341.39 L88.6,342.44 L89.1,343.51 L89.6,344.34 L90.1,344.84 L90.6,345.84 L91.1,346.83 L91.6,346.62 L92.1,347.23 L92.6,347.41 L93.1,347.61 L93.6,347.78 L94.1,347.92 L94.6,348.04 L95.1,348.13 L95.6,348.19 L96.1,348.22 L96.6,348.24 L97.1,348.26 L97.6,348.26 L98.1,348.26 L98.6,348.26 L99.1,348.26 L99.6,348.26 L100.1,348.26 L100.6,348.26 L101.1,348.26 L101.6,348.26 L102.1,348.26 L102.6,348.26 L103.1,348.26 L103.6,348.26 L104.1,348.26 L104.6,348.26 L105.1,348.26 L105.6,348.26 L106.1,348.26 L106.6,348.26 L107.1,348.26 L107.6,348.26 L108.1,348.26 L108.6,348.26 L109.1,348.26 L109.6,348.26 L110.1,348.26 L110.6,348.26 L110.6,348.3 L43.6,348.3Z" fill="#f0c683"/>
<path d="M43.6,348.26 L44.1,348.26 L44.6,348.26 L45.1,348.26 L45.6,348.26 L46.1,348.26 L46.6,348.26 L47.1,348.26 L47.6,348.26 L48.1,348.26 L48.6,348.26 L49.1,348.26 L49.6,348.26 L50.1,348.26 L50.6,348.26 L51.1,348.26 L51.6,348.26 L52.1,348.26 L52.6,348.26 L53.1,348.26 L53.6,348.26 L54.1,348.26 L54.6,348.26 L55.1,348.26 L55.6,348.26 L56.1,348.26 L56.6,348.26 L57.1,348.26 L57.6,348.26 L58.1,348.26 L58.6,348.26 L59.1,348.26 L59.6,348.26 L60.1,348.26 L60.6,348.26 L61.1,348.26 L61.6,348.26 L62.1,348.26 L62.6,348.26 L63.1,348.26 L63.6,348.26 L64.1,348.26 L64.6,348.26 L65.1,348.26 L65.6,348.26 L66.1,348.26 L66.6,348.26 L67.1,348.26 L67.6,348.23 L68.1,348.19 L68.6,348.15 L69.1,348.12 L69.6,348.08 L70.1,348.05 L70.6,348.01 L71.1,347.97 L71.6,347.92 L72.1,347.87 L72.6,347.82 L73.1,347.76 L73.6,347.69 L74.1,347.62 L74.6,347.53 L75.1,347.43 L75.6,347.28 L76.1,347.21 L76.6,346.75 L77.1,346.62 L77.6,345.92 L78.1,345.08 L78.6,343.62 L79.1,341.83 L79.6,340.32 L80.1,337.86 L80.6,335.35 L81.1,334.12 L81.6,331.81 L82.1,330.74 L82.6,329.46 L83.1,329.37 L83.6,330.74 L84.1,331.84 L84.6,333.26 L85.1,335.04 L85.6,336.28 L86.1,337.40 L86.6,338.92 L87.1,341.23 L87.6,342.60 L88.1,343.33 L88.6,344.38 L89.1,346.07 L89.6,346.87 L90.1,346.88 L90.6,347.41 L91.1,347.68 L91.6,347.88 L92.1,348.05 L92.6,348.16 L93.1,348.21 L93.6,348.24 L94.1,348.26 L94.6,348.26 L95.1,348.26 L95.6,348.26 L96.1,348.26 L96.6,348.26 L97.1,348.26 L97.6,348.26 L98.1,348.26 L98.6,348.26 L99.1,348.26 L99.6,348.26 L100.1,348.26 L100.6,348.26 L101.1,348.26 L101.6,348.26 L102.1,348.26 L102.6,348.26 L103.1,348.26 L103.6,348.26 L104.1,348.26 L104.6,348.26 L105.1,348.26 L105.6,348.26 L106.1,348.26 L106.6,348.26 L107.1,348.26 L107.6,348.26 L108.1,348.26 L108.6,348.26 L109.1,348.26 L109.6,348.26 L110.1,348.26 L110.6,348.26 L110.6,348.3 L43.6,348.3Z" fill="#e6a84b"/>
<path d="M43.6,348.26 L44.1,348.26 L44.6,348.26 L45.1,348.26 L45.6,348.26 L46.1,348.26 L46.6,348.26 L47.1,348.26 L47.6,348.26 L48.1,348.26 L48.6,348.26 L49.1,348.26 L49.6,348.26 L50.1,348.26 L50.6,348.26 L51.1,348.26 L51.6,348.26 L52.1,348.26 L52.6,348.26 L53.1,348.26 L53.6,348.26 L54.1,348.26 L54.6,348.26 L55.1,348.26 L55.6,348.26 L56.1,348.26 L56.6,348.26 L57.1,348.26 L57.6,348.26 L58.1,348.26 L58.6,348.26 L59.1,348.26 L59.6,348.26 L60.1,348.25 L60.6,348.22 L61.1,348.20 L61.6,348.17 L62.1,348.14 L62.6,348.12 L63.1,348.09 L63.6,348.06 L64.1,348.04 L64.6,348.01 L65.1,347.98 L65.6,347.94 L66.1,347.91 L66.6,347.87 L67.1,347.84 L67.6,347.79 L68.1,347.75 L68.6,347.70 L69.1,347.65 L69.6,347.59 L70.1,347.53 L70.6,347.46 L71.1,347.38 L71.6,347.25 L72.1,347.04 L72.6,347.04 L73.1,346.36 L73.6,346.20 L74.1,345.82 L74.6,345.58 L75.1,344.51 L75.6,343.50 L76.1,342.39 L76.6,341.56 L77.1,340.16 L77.6,338.16 L78.1,336.64 L78.6,335.15 L79.1,333.72 L79.6,332.64 L80.1,331.11 L80.6,329.72 L81.1,329.24 L81.6,328.83 L82.1,328.43 L82.6,329.40 L83.1,330.51 L83.6,331.96 L84.1,332.59 L84.6,333.59 L85.1,334.83 L85.6,335.47 L86.1,336.66 L86.6,337.85 L87.1,338.96 L87.6,340.63 L88.1,341.39 L88.6,342.44 L89.1,343.51 L89.6,344.34 L90.1,344.84 L90.6,345.84 L91.1,346.83 L91.6,346.62 L92.1,347.23 L92.6,347.41 L93.1,347.61 L93.6,347.78 L94.1,347.92 L94.6,348.04 L95.1,348.13 L95.6,348.19 L96.1,348.22 L96.6,348.24 L97.1,348.26 L97.6,348.26 L98.1,348.26 L98.6,348.26 L99.1,348.26 L99.6,348.26 L100.1,348.26 L100.6,348.26 L101.1,348.26 L101.6,348.26 L102.1,348.26 L102.6,348.26 L103.1,348.26 L103.6,348.26 L104.1,348.26 L104.6,348.26 L105.1,348.26 L105.6,348.26 L106.1,348.26 L106.6,348.26 L107.1,348.26 L107.6,348.26 L108.1,348.26 L108.6,348.26 L109.1,348.26 L109.6,348.26 L110.1,348.26 L110.6,348.26" fill="none" stroke="#e0931f" stroke-width="1.05" stroke-linejoin="round"/>
<path d="M43.6,361.82 L44.1,361.82 L44.6,361.82 L45.1,361.82 L45.6,361.82 L46.1,361.82 L46.6,361.82 L47.1,361.82 L47.6,361.82 L48.1,361.82 L48.6,361.82 L49.1,361.82 L49.6,361.82 L50.1,361.82 L50.6,361.82 L51.1,361.82 L51.6,361.82 L52.1,361.82 L52.6,361.82 L53.1,361.82 L53.6,361.82 L54.1,361.82 L54.6,361.82 L55.1,361.82 L55.6,361.82 L56.1,361.82 L56.6,361.82 L57.1,361.82 L57.6,361.82 L58.1,361.82 L58.6,361.82 L59.1,361.82 L59.6,361.82 L60.1,361.82 L60.6,361.81 L61.1,361.81 L61.6,361.81 L62.1,361.81 L62.6,361.81 L63.1,361.81 L63.6,361.82 L64.1,361.82 L64.6,361.82 L65.1,361.82 L65.6,361.82 L66.1,361.82 L66.6,361.82 L67.1,361.82 L67.6,361.82 L68.1,361.81 L68.6,361.80 L69.1,361.79 L69.6,361.78 L70.1,361.76 L70.6,361.74 L71.1,361.71 L71.6,361.68 L72.1,361.65 L72.6,361.61 L73.1,361.55 L73.6,361.45 L74.1,361.29 L74.6,361.09 L75.1,360.70 L75.6,360.38 L76.1,359.93 L76.6,358.98 L77.1,357.40 L77.6,356.55 L78.1,355.21 L78.6,353.34 L79.1,351.91 L79.6,350.14 L80.1,349.30 L80.6,347.90 L81.1,347.24 L81.6,345.85 L82.1,344.92 L82.6,344.28 L83.1,342.95 L83.6,342.03 L84.1,341.57 L84.6,342.69 L85.1,344.60 L85.6,346.51 L86.1,348.48 L86.6,349.30 L87.1,350.61 L87.6,351.56 L88.1,352.41 L88.6,352.82 L89.1,353.64 L89.6,355.08 L90.1,355.59 L90.6,356.32 L91.1,356.94 L91.6,357.81 L92.1,358.68 L92.6,358.92 L93.1,359.65 L93.6,360.11 L94.1,360.14 L94.6,360.84 L95.1,360.84 L95.6,361.05 L96.1,361.23 L96.6,361.39 L97.1,361.53 L97.6,361.64 L98.1,361.72 L98.6,361.76 L99.1,361.78 L99.6,361.80 L100.1,361.82 L100.6,361.82 L101.1,361.82 L101.6,361.82 L102.1,361.82 L102.6,361.82 L103.1,361.82 L103.6,361.82 L104.1,361.82 L104.6,361.82 L105.1,361.82 L105.6,361.82 L106.1,361.82 L106.6,361.82 L107.1,361.82 L107.6,361.82 L108.1,361.82 L108.6,361.82 L109.1,361.82 L109.6,361.82 L110.1,361.82 L110.6,361.82 L110.6,361.8 L43.6,361.8Z" fill="#df8d1c"/>
<path d="M43.6,361.82 L44.1,361.82 L44.6,361.82 L45.1,361.82 L45.6,361.82 L46.1,361.82 L46.6,361.82 L47.1,361.82 L47.6,361.82 L48.1,361.82 L48.6,361.82 L49.1,361.82 L49.6,361.82 L50.1,361.82 L50.6,361.82 L51.1,361.82 L51.6,361.82 L52.1,361.82 L52.6,361.82 L53.1,361.82 L53.6,361.82 L54.1,361.82 L54.6,361.82 L55.1,361.82 L55.6,361.82 L56.1,361.82 L56.6,361.82 L57.1,361.82 L57.6,361.82 L58.1,361.82 L58.6,361.82 L59.1,361.82 L59.6,361.82 L60.1,361.82 L60.6,361.81 L61.1,361.81 L61.6,361.81 L62.1,361.81 L62.6,361.81 L63.1,361.81 L63.6,361.82 L64.1,361.82 L64.6,361.82 L65.1,361.82 L65.6,361.82 L66.1,361.82 L66.6,361.82 L67.1,361.82 L67.6,361.82 L68.1,361.81 L68.6,361.80 L69.1,361.79 L69.6,361.78 L70.1,361.76 L70.6,361.74 L71.1,361.71 L71.6,361.68 L72.1,361.65 L72.6,361.61 L73.1,361.55 L73.6,361.45 L74.1,361.29 L74.6,361.09 L75.1,360.70 L75.6,360.38 L76.1,359.93 L76.6,358.98 L77.1,357.40 L77.6,356.55 L78.1,355.21 L78.6,353.34 L79.1,351.91 L79.6,350.14 L80.1,349.30 L80.6,347.90 L81.1,347.24 L81.6,345.85 L82.1,344.92 L82.6,344.28 L83.1,342.95 L83.6,342.03 L84.1,341.57 L84.6,342.69 L85.1,344.60 L85.6,346.51 L86.1,348.48 L86.6,349.30 L87.1,350.61 L87.6,351.56 L88.1,352.41 L88.6,352.82 L89.1,353.64 L89.6,355.08 L90.1,355.59 L90.6,356.32 L91.1,356.94 L91.6,357.81 L92.1,358.68 L92.6,358.92 L93.1,359.65 L93.6,360.11 L94.1,360.14 L94.6,360.84 L95.1,360.84 L95.6,361.05 L96.1,361.23 L96.6,361.39 L97.1,361.53 L97.6,361.64 L98.1,361.72 L98.6,361.76 L99.1,361.78 L99.6,361.80 L100.1,361.82 L100.6,361.82 L101.1,361.82 L101.6,361.82 L102.1,361.82 L102.6,361.82 L103.1,361.82 L103.6,361.82 L104.1,361.82 L104.6,361.82 L105.1,361.82 L105.6,361.82 L106.1,361.82 L106.6,361.82 L107.1,361.82 L107.6,361.82 L108.1,361.82 L108.6,361.82 L109.1,361.82 L109.6,361.82 L110.1,361.82 L110.6,361.82" fill="none" stroke="#e0931f" stroke-width="1.05" stroke-linejoin="round"/>
<path d="M43.6,375.38 L44.1,375.38 L44.6,375.38 L45.1,375.38 L45.6,375.38 L46.1,375.38 L46.6,375.36 L47.1,375.34 L47.6,375.33 L48.1,375.32 L48.6,375.30 L49.1,375.29 L49.6,375.27 L50.1,375.24 L50.6,375.20 L51.1,375.16 L51.6,375.11 L52.1,375.04 L52.6,374.94 L53.1,374.83 L53.6,374.70 L54.1,374.56 L54.6,374.41 L55.1,374.32 L55.6,373.99 L56.1,373.60 L56.6,374.09 L57.1,373.49 L57.6,373.15 L58.1,373.49 L58.6,373.46 L59.1,373.01 L59.6,373.11 L60.1,372.80 L60.6,372.19 L61.1,372.10 L61.6,371.85 L62.1,371.84 L62.6,371.63 L63.1,371.70 L63.6,371.27 L64.1,370.78 L64.6,370.96 L65.1,370.09 L65.6,369.61 L66.1,369.43 L66.6,368.94 L67.1,368.18 L67.6,366.49 L68.1,364.96 L68.6,364.03 L69.1,362.57 L69.6,360.53 L70.1,359.70 L70.6,359.49 L71.1,358.99 L71.6,358.59 L72.1,358.59 L72.6,358.37 L73.1,357.57 L73.6,356.67 L74.1,354.67 L74.6,353.98 L75.1,355.45 L75.6,357.05 L76.1,358.05 L76.6,359.02 L77.1,359.47 L77.6,359.74 L78.1,360.46 L78.6,361.98 L79.1,364.21 L79.6,367.67 L80.1,369.14 L80.6,371.60 L81.1,372.85 L81.6,373.54 L82.1,373.34 L82.6,373.98 L83.1,374.21 L83.6,374.47 L84.1,374.65 L84.6,374.81 L85.1,374.94 L85.6,375.05 L86.1,375.13 L86.6,375.20 L87.1,375.27 L87.6,375.33 L88.1,375.38 L88.6,375.38 L89.1,375.38 L89.6,375.38 L90.1,375.38 L90.6,375.38 L91.1,375.38 L91.6,375.38 L92.1,375.38 L92.6,375.38 L93.1,375.38 L93.6,375.38 L94.1,375.38 L94.6,375.38 L95.1,375.38 L95.6,375.38 L96.1,375.38 L96.6,375.38 L97.1,375.38 L97.6,375.38 L98.1,375.38 L98.6,375.38 L99.1,375.38 L99.6,375.38 L100.1,375.38 L100.6,375.38 L101.1,375.38 L101.6,375.38 L102.1,375.38 L102.6,375.38 L103.1,375.38 L103.6,375.38 L104.1,375.38 L104.6,375.38 L105.1,375.38 L105.6,375.38 L106.1,375.38 L106.6,375.38 L107.1,375.38 L107.6,375.38 L108.1,375.38 L108.6,375.38 L109.1,375.38 L109.6,375.38 L110.1,375.38 L110.6,375.38 L110.6,375.4 L43.6,375.4Z" fill="#c6cae1"/>
<path d="M43.6,375.38 L44.1,375.38 L44.6,375.38 L45.1,375.38 L45.6,375.38 L46.1,375.38 L46.6,375.36 L47.1,375.34 L47.6,375.33 L48.1,375.32 L48.6,375.30 L49.1,375.29 L49.6,375.27 L50.1,375.24 L50.6,375.20 L51.1,375.16 L51.6,375.11 L52.1,375.04 L52.6,374.94 L53.1,374.83 L53.6,374.70 L54.1,374.56 L54.6,374.41 L55.1,374.32 L55.6,373.99 L56.1,373.60 L56.6,374.09 L57.1,373.49 L57.6,373.15 L58.1,373.49 L58.6,373.46 L59.1,373.01 L59.6,373.11 L60.1,372.80 L60.6,372.19 L61.1,372.10 L61.6,371.85 L62.1,371.84 L62.6,371.63 L63.1,371.70 L63.6,371.27 L64.1,370.78 L64.6,370.96 L65.1,370.09 L65.6,369.61 L66.1,369.43 L66.6,368.94 L67.1,368.18 L67.6,366.49 L68.1,364.96 L68.6,364.03 L69.1,362.57 L69.6,360.53 L70.1,359.70 L70.6,359.49 L71.1,358.99 L71.6,358.59 L72.1,358.59 L72.6,358.37 L73.1,357.57 L73.6,356.67 L74.1,354.67 L74.6,353.98 L75.1,355.45 L75.6,357.05 L76.1,358.05 L76.6,359.02 L77.1,359.47 L77.6,359.74 L78.1,360.46 L78.6,361.98 L79.1,364.21 L79.6,367.67 L80.1,369.14 L80.6,371.60 L81.1,372.85 L81.6,373.54 L82.1,373.34 L82.6,373.98 L83.1,374.21 L83.6,374.47 L84.1,374.65 L84.6,374.81 L85.1,374.94 L85.6,375.05 L86.1,375.13 L86.6,375.20 L87.1,375.27 L87.6,375.33 L88.1,375.38 L88.6,375.38 L89.1,375.38 L89.6,375.38 L90.1,375.38 L90.6,375.38 L91.1,375.38 L91.6,375.38 L92.1,375.38 L92.6,375.38 L93.1,375.38 L93.6,375.38 L94.1,375.38 L94.6,375.38 L95.1,375.38 L95.6,375.38 L96.1,375.38 L96.6,375.38 L97.1,375.38 L97.6,375.38 L98.1,375.38 L98.6,375.38 L99.1,375.38 L99.6,375.38 L100.1,375.38 L100.6,375.38 L101.1,375.38 L101.6,375.38 L102.1,375.38 L102.6,375.38 L103.1,375.38 L103.6,375.38 L104.1,375.38 L104.6,375.38 L105.1,375.38 L105.6,375.38 L106.1,375.38 L106.6,375.38 L107.1,375.38 L107.6,375.38 L108.1,375.38 L108.6,375.38 L109.1,375.38 L109.6,375.38 L110.1,375.38 L110.6,375.38" fill="none" stroke="#26427d" stroke-width="1.05" stroke-linejoin="round"/>
<path d="M43.6,388.94 L44.1,388.94 L44.6,388.94 L45.1,388.94 L45.6,388.94 L46.1,388.94 L46.6,388.93 L47.1,388.91 L47.6,388.90 L48.1,388.89 L48.6,388.88 L49.1,388.87 L49.6,388.86 L50.1,388.85 L50.6,388.84 L51.1,388.82 L51.6,388.81 L52.1,388.79 L52.6,388.78 L53.1,388.76 L53.6,388.74 L54.1,388.72 L54.6,388.69 L55.1,388.67 L55.6,388.64 L56.1,388.61 L56.6,388.57 L57.1,388.52 L57.6,388.47 L58.1,388.41 L58.6,388.35 L59.1,388.28 L59.6,388.21 L60.1,388.13 L60.6,388.05 L61.1,387.97 L61.6,387.87 L62.1,387.76 L62.6,387.89 L63.1,387.31 L63.6,387.35 L64.1,387.28 L64.6,386.89 L65.1,386.70 L65.6,386.32 L66.1,386.31 L66.6,386.24 L67.1,385.23 L67.6,384.73 L68.1,383.90 L68.6,383.58 L69.1,382.66 L69.6,381.76 L70.1,380.85 L70.6,379.98 L71.1,379.09 L71.6,378.41 L72.1,377.37 L72.6,376.68 L73.1,375.88 L73.6,375.37 L74.1,374.63 L74.6,373.66 L75.1,372.46 L75.6,370.88 L76.1,369.18 L76.6,368.28 L77.1,368.58 L77.6,370.42 L78.1,371.76 L78.6,372.62 L79.1,374.08 L79.6,375.98 L80.1,377.55 L80.6,379.43 L81.1,381.98 L81.6,383.84 L82.1,384.56 L82.6,385.31 L83.1,386.06 L83.6,386.88 L84.1,387.39 L84.6,388.00 L85.1,388.23 L85.6,388.38 L86.1,388.48 L86.6,388.53 L87.1,388.56 L87.6,388.58 L88.1,388.61 L88.6,388.66 L89.1,388.73 L89.6,388.79 L90.1,388.85 L90.6,388.90 L91.1,388.94 L91.6,388.94 L92.1,388.94 L92.6,388.94 L93.1,388.94 L93.6,388.94 L94.1,388.94 L94.6,388.94 L95.1,388.94 L95.6,388.94 L96.1,388.94 L96.6,388.94 L97.1,388.94 L97.6,388.94 L98.1,388.94 L98.6,388.94 L99.1,388.94 L99.6,388.94 L100.1,388.94 L100.6,388.94 L101.1,388.94 L101.6,388.94 L102.1,388.94 L102.6,388.94 L103.1,388.94 L103.6,388.94 L104.1,388.94 L104.6,388.94 L105.1,388.94 L105.6,388.94 L106.1,388.94 L106.6,388.94 L107.1,388.94 L107.6,388.94 L108.1,388.94 L108.6,388.94 L109.1,388.94 L109.6,388.94 L110.1,388.94 L110.6,388.94 L110.6,388.9 L43.6,388.9Z" fill="#c6cae1"/>
<path d="M43.6,388.94 L44.1,388.94 L44.6,388.94 L45.1,388.94 L45.6,388.94 L46.1,388.94 L46.6,388.94 L47.1,388.94 L47.6,388.94 L48.1,388.94 L48.6,388.94 L49.1,388.94 L49.6,388.94 L50.1,388.94 L50.6,388.94 L51.1,388.94 L51.6,388.94 L52.1,388.94 L52.6,388.94 L53.1,388.94 L53.6,388.94 L54.1,388.94 L54.6,388.94 L55.1,388.94 L55.6,388.94 L56.1,388.92 L56.6,388.91 L57.1,388.89 L57.6,388.88 L58.1,388.86 L58.6,388.85 L59.1,388.83 L59.6,388.81 L60.1,388.79 L60.6,388.77 L61.1,388.74 L61.6,388.71 L62.1,388.68 L62.6,388.64 L63.1,388.59 L63.6,388.53 L64.1,388.46 L64.6,388.38 L65.1,388.29 L65.6,388.19 L66.1,388.08 L66.6,387.97 L67.1,388.15 L67.6,387.77 L68.1,387.74 L68.6,387.37 L69.1,387.23 L69.6,386.48 L70.1,386.32 L70.6,385.60 L71.1,384.62 L71.6,383.96 L72.1,383.07 L72.6,382.42 L73.1,380.80 L73.6,380.07 L74.1,378.74 L74.6,377.93 L75.1,376.47 L75.6,375.50 L76.1,374.30 L76.6,372.93 L77.1,370.29 L77.6,368.73 L78.1,370.15 L78.6,371.81 L79.1,373.52 L79.6,375.43 L80.1,377.40 L80.6,381.08 L81.1,383.66 L81.6,384.91 L82.1,386.23 L82.6,387.24 L83.1,388.02 L83.6,388.19 L84.1,388.41 L84.6,388.52 L85.1,388.57 L85.6,388.60 L86.1,388.65 L86.6,388.74 L87.1,388.82 L87.6,388.89 L88.1,388.94 L88.6,388.94 L89.1,388.94 L89.6,388.94 L90.1,388.94 L90.6,388.94 L91.1,388.94 L91.6,388.94 L92.1,388.94 L92.6,388.94 L93.1,388.94 L93.6,388.94 L94.1,388.94 L94.6,388.94 L95.1,388.94 L95.6,388.94 L96.1,388.94 L96.6,388.94 L97.1,388.94 L97.6,388.94 L98.1,388.94 L98.6,388.94 L99.1,388.94 L99.6,388.94 L100.1,388.94 L100.6,388.94 L101.1,388.94 L101.6,388.94 L102.1,388.94 L102.6,388.94 L103.1,388.94 L103.6,388.94 L104.1,388.94 L104.6,388.94 L105.1,388.94 L105.6,388.94 L106.1,388.94 L106.6,388.94 L107.1,388.94 L107.6,388.94 L108.1,388.94 L108.6,388.94 L109.1,388.94 L109.6,388.94 L110.1,388.94 L110.6,388.94 L110.6,388.9 L43.6,388.9Z" fill="#8c95c1"/>
<path d="M43.6,388.94 L44.1,388.94 L44.6,388.94 L45.1,388.94 L45.6,388.94 L46.1,388.94 L46.6,388.93 L47.1,388.91 L47.6,388.90 L48.1,388.89 L48.6,388.88 L49.1,388.87 L49.6,388.86 L50.1,388.85 L50.6,388.84 L51.1,388.82 L51.6,388.81 L52.1,388.79 L52.6,388.78 L53.1,388.76 L53.6,388.74 L54.1,388.72 L54.6,388.69 L55.1,388.67 L55.6,388.64 L56.1,388.61 L56.6,388.57 L57.1,388.52 L57.6,388.47 L58.1,388.41 L58.6,388.35 L59.1,388.28 L59.6,388.21 L60.1,388.13 L60.6,388.05 L61.1,387.97 L61.6,387.87 L62.1,387.76 L62.6,387.89 L63.1,387.31 L63.6,387.35 L64.1,387.28 L64.6,386.89 L65.1,386.70 L65.6,386.32 L66.1,386.31 L66.6,386.24 L67.1,385.23 L67.6,384.73 L68.1,383.90 L68.6,383.58 L69.1,382.66 L69.6,381.76 L70.1,380.85 L70.6,379.98 L71.1,379.09 L71.6,378.41 L72.1,377.37 L72.6,376.68 L73.1,375.88 L73.6,375.37 L74.1,374.63 L74.6,373.66 L75.1,372.46 L75.6,370.88 L76.1,369.18 L76.6,368.28 L77.1,368.58 L77.6,370.42 L78.1,371.76 L78.6,372.62 L79.1,374.08 L79.6,375.98 L80.1,377.55 L80.6,379.43 L81.1,381.98 L81.6,383.84 L82.1,384.56 L82.6,385.31 L83.1,386.06 L83.6,386.88 L84.1,387.39 L84.6,388.00 L85.1,388.23 L85.6,388.38 L86.1,388.48 L86.6,388.53 L87.1,388.56 L87.6,388.58 L88.1,388.61 L88.6,388.66 L89.1,388.73 L89.6,388.79 L90.1,388.85 L90.6,388.90 L91.1,388.94 L91.6,388.94 L92.1,388.94 L92.6,388.94 L93.1,388.94 L93.6,388.94 L94.1,388.94 L94.6,388.94 L95.1,388.94 L95.6,388.94 L96.1,388.94 L96.6,388.94 L97.1,388.94 L97.6,388.94 L98.1,388.94 L98.6,388.94 L99.1,388.94 L99.6,388.94 L100.1,388.94 L100.6,388.94 L101.1,388.94 L101.6,388.94 L102.1,388.94 L102.6,388.94 L103.1,388.94 L103.6,388.94 L104.1,388.94 L104.6,388.94 L105.1,388.94 L105.6,388.94 L106.1,388.94 L106.6,388.94 L107.1,388.94 L107.6,388.94 L108.1,388.94 L108.6,388.94 L109.1,388.94 L109.6,388.94 L110.1,388.94 L110.6,388.94" fill="none" stroke="#26427d" stroke-width="1.05" stroke-linejoin="round"/>
<path d="M43.6,402.50 L44.1,402.50 L44.6,402.50 L45.1,402.50 L45.6,402.50 L46.1,402.50 L46.6,402.50 L47.1,402.50 L47.6,402.50 L48.1,402.50 L48.6,402.50 L49.1,402.50 L49.6,402.50 L50.1,402.50 L50.6,402.50 L51.1,402.50 L51.6,402.50 L52.1,402.50 L52.6,402.50 L53.1,402.50 L53.6,402.50 L54.1,402.50 L54.6,402.50 L55.1,402.50 L55.6,402.50 L56.1,402.50 L56.6,402.50 L57.1,402.50 L57.6,402.50 L58.1,402.50 L58.6,402.50 L59.1,402.50 L59.6,402.50 L60.1,402.47 L60.6,402.44 L61.1,402.40 L61.6,402.36 L62.1,402.31 L62.6,402.24 L63.1,402.16 L63.6,402.07 L64.1,401.95 L64.6,401.80 L65.1,401.63 L65.6,401.22 L66.1,401.22 L66.6,401.03 L67.1,400.10 L67.6,399.39 L68.1,398.55 L68.6,397.33 L69.1,397.10 L69.6,396.48 L70.1,396.45 L70.6,396.12 L71.1,395.77 L71.6,395.29 L72.1,394.46 L72.6,392.98 L73.1,391.34 L73.6,390.19 L74.1,388.40 L74.6,387.80 L75.1,386.37 L75.6,385.67 L76.1,384.59 L76.6,383.86 L77.1,382.99 L77.6,382.05 L78.1,382.29 L78.6,382.09 L79.1,382.43 L79.6,383.69 L80.1,384.59 L80.6,386.38 L81.1,388.22 L81.6,390.19 L82.1,391.22 L82.6,392.83 L83.1,393.52 L83.6,395.08 L84.1,396.18 L84.6,396.79 L85.1,398.46 L85.6,399.39 L86.1,400.27 L86.6,401.26 L87.1,401.33 L87.6,401.72 L88.1,401.92 L88.6,402.07 L89.1,402.19 L89.6,402.30 L90.1,402.42 L90.6,402.50 L91.1,402.50 L91.6,402.50 L92.1,402.50 L92.6,402.50 L93.1,402.50 L93.6,402.50 L94.1,402.50 L94.6,402.50 L95.1,402.50 L95.6,402.50 L96.1,402.50 L96.6,402.50 L97.1,402.50 L97.6,402.50 L98.1,402.50 L98.6,402.50 L99.1,402.50 L99.6,402.50 L100.1,402.50 L100.6,402.50 L101.1,402.50 L101.6,402.50 L102.1,402.50 L102.6,402.50 L103.1,402.50 L103.6,402.50 L104.1,402.50 L104.6,402.50 L105.1,402.50 L105.6,402.50 L106.1,402.50 L106.6,402.50 L107.1,402.50 L107.6,402.50 L108.1,402.50 L108.6,402.50 L109.1,402.50 L109.6,402.50 L110.1,402.50 L110.6,402.50 L110.6,402.5 L43.6,402.5Z" fill="#8c95c1"/>
<path d="M43.6,402.50 L44.1,402.50 L44.6,402.50 L45.1,402.50 L45.6,402.50 L46.1,402.50 L46.6,402.50 L47.1,402.50 L47.6,402.50 L48.1,402.50 L48.6,402.50 L49.1,402.50 L49.6,402.50 L50.1,402.50 L50.6,402.50 L51.1,402.50 L51.6,402.50 L52.1,402.50 L52.6,402.50 L53.1,402.50 L53.6,402.50 L54.1,402.50 L54.6,402.50 L55.1,402.50 L55.6,402.50 L56.1,402.50 L56.6,402.50 L57.1,402.50 L57.6,402.50 L58.1,402.50 L58.6,402.50 L59.1,402.50 L59.6,402.50 L60.1,402.50 L60.6,402.50 L61.1,402.50 L61.6,402.50 L62.1,402.50 L62.6,402.50 L63.1,402.50 L63.6,402.50 L64.1,402.50 L64.6,402.50 L65.1,402.50 L65.6,402.50 L66.1,402.47 L66.6,402.43 L67.1,402.37 L67.6,402.31 L68.1,402.21 L68.6,402.09 L69.1,401.92 L69.6,401.71 L70.1,401.60 L70.6,401.01 L71.1,400.11 L71.6,399.10 L72.1,397.94 L72.6,397.17 L73.1,396.69 L73.6,396.66 L74.1,396.34 L74.6,395.39 L75.1,393.23 L75.6,391.54 L76.1,389.44 L76.6,387.96 L77.1,386.39 L77.6,385.33 L78.1,383.87 L78.6,382.79 L79.1,382.77 L79.6,383.42 L80.1,383.82 L80.6,385.36 L81.1,388.22 L81.6,390.40 L82.1,391.99 L82.6,393.70 L83.1,395.84 L83.6,397.16 L84.1,398.28 L84.6,400.18 L85.1,401.24 L85.6,401.55 L86.1,401.87 L86.6,402.08 L87.1,402.24 L87.6,402.39 L88.1,402.50 L88.6,402.50 L89.1,402.50 L89.6,402.50 L90.1,402.50 L90.6,402.50 L91.1,402.50 L91.6,402.50 L92.1,402.50 L92.6,402.50 L93.1,402.50 L93.6,402.50 L94.1,402.50 L94.6,402.50 L95.1,402.50 L95.6,402.50 L96.1,402.50 L96.6,402.50 L97.1,402.50 L97.6,402.50 L98.1,402.50 L98.6,402.50 L99.1,402.50 L99.6,402.50 L100.1,402.50 L100.6,402.50 L101.1,402.50 L101.6,402.50 L102.1,402.50 L102.6,402.50 L103.1,402.50 L103.6,402.50 L104.1,402.50 L104.6,402.50 L105.1,402.50 L105.6,402.50 L106.1,402.50 L106.6,402.50 L107.1,402.50 L107.6,402.50 L108.1,402.50 L108.6,402.50 L109.1,402.50 L109.6,402.50 L110.1,402.50 L110.6,402.50 L110.6,402.5 L43.6,402.5Z" fill="#5b6aa1"/>
<path d="M43.6,402.50 L44.1,402.50 L44.6,402.50 L45.1,402.50 L45.6,402.50 L46.1,402.50 L46.6,402.50 L47.1,402.50 L47.6,402.50 L48.1,402.50 L48.6,402.50 L49.1,402.50 L49.6,402.50 L50.1,402.50 L50.6,402.50 L51.1,402.50 L51.6,402.50 L52.1,402.50 L52.6,402.50 L53.1,402.50 L53.6,402.50 L54.1,402.50 L54.6,402.50 L55.1,402.50 L55.6,402.50 L56.1,402.50 L56.6,402.50 L57.1,402.50 L57.6,402.50 L58.1,402.50 L58.6,402.50 L59.1,402.50 L59.6,402.50 L60.1,402.47 L60.6,402.44 L61.1,402.40 L61.6,402.36 L62.1,402.31 L62.6,402.24 L63.1,402.16 L63.6,402.07 L64.1,401.95 L64.6,401.80 L65.1,401.63 L65.6,401.22 L66.1,401.22 L66.6,401.03 L67.1,400.10 L67.6,399.39 L68.1,398.55 L68.6,397.33 L69.1,397.10 L69.6,396.48 L70.1,396.45 L70.6,396.12 L71.1,395.77 L71.6,395.29 L72.1,394.46 L72.6,392.98 L73.1,391.34 L73.6,390.19 L74.1,388.40 L74.6,387.80 L75.1,386.37 L75.6,385.67 L76.1,384.59 L76.6,383.86 L77.1,382.99 L77.6,382.05 L78.1,382.29 L78.6,382.09 L79.1,382.43 L79.6,383.69 L80.1,384.59 L80.6,386.38 L81.1,388.22 L81.6,390.19 L82.1,391.22 L82.6,392.83 L83.1,393.52 L83.6,395.08 L84.1,396.18 L84.6,396.79 L85.1,398.46 L85.6,399.39 L86.1,400.27 L86.6,401.26 L87.1,401.33 L87.6,401.72 L88.1,401.92 L88.6,402.07 L89.1,402.19 L89.6,402.30 L90.1,402.42 L90.6,402.50 L91.1,402.50 L91.6,402.50 L92.1,402.50 L92.6,402.50 L93.1,402.50 L93.6,402.50 L94.1,402.50 L94.6,402.50 L95.1,402.50 L95.6,402.50 L96.1,402.50 L96.6,402.50 L97.1,402.50 L97.6,402.50 L98.1,402.50 L98.6,402.50 L99.1,402.50 L99.6,402.50 L100.1,402.50 L100.6,402.50 L101.1,402.50 L101.6,402.50 L102.1,402.50 L102.6,402.50 L103.1,402.50 L103.6,402.50 L104.1,402.50 L104.6,402.50 L105.1,402.50 L105.6,402.50 L106.1,402.50 L106.6,402.50 L107.1,402.50 L107.6,402.50 L108.1,402.50 L108.6,402.50 L109.1,402.50 L109.6,402.50 L110.1,402.50 L110.6,402.50" fill="none" stroke="#26427d" stroke-width="1.05" stroke-linejoin="round"/>
<path d="M43.6,416.06 L44.1,416.06 L44.6,416.06 L45.1,416.06 L45.6,416.06 L46.1,416.06 L46.6,416.06 L47.1,416.06 L47.6,416.06 L48.1,416.06 L48.6,416.06 L49.1,416.06 L49.6,416.06 L50.1,416.06 L50.6,416.04 L51.1,416.03 L51.6,416.02 L52.1,416.00 L52.6,415.99 L53.1,415.98 L53.6,415.97 L54.1,415.96 L54.6,415.95 L55.1,415.94 L55.6,415.92 L56.1,415.91 L56.6,415.89 L57.1,415.88 L57.6,415.86 L58.1,415.84 L58.6,415.82 L59.1,415.80 L59.6,415.77 L60.1,415.74 L60.6,415.71 L61.1,415.68 L61.6,415.64 L62.1,415.60 L62.6,415.55 L63.1,415.48 L63.6,415.36 L64.1,415.21 L64.6,415.14 L65.1,414.84 L65.6,414.52 L66.1,414.27 L66.6,414.36 L67.1,413.51 L67.6,413.14 L68.1,412.12 L68.6,411.26 L69.1,410.80 L69.6,410.64 L70.1,409.71 L70.6,409.05 L71.1,408.20 L71.6,407.63 L72.1,406.88 L72.6,406.86 L73.1,406.63 L73.6,406.00 L74.1,403.60 L74.6,400.49 L75.1,397.72 L75.6,396.16 L76.1,396.13 L76.6,396.48 L77.1,396.97 L77.6,396.12 L78.1,395.84 L78.6,395.75 L79.1,395.75 L79.6,396.44 L80.1,396.92 L80.6,397.50 L81.1,399.26 L81.6,400.69 L82.1,402.56 L82.6,404.12 L83.1,405.35 L83.6,406.50 L84.1,407.97 L84.6,409.70 L85.1,411.04 L85.6,411.65 L86.1,412.26 L86.6,412.61 L87.1,413.26 L87.6,413.63 L88.1,414.46 L88.6,414.22 L89.1,414.98 L89.6,415.07 L90.1,415.31 L90.6,415.51 L91.1,415.68 L91.6,415.81 L92.1,415.90 L92.6,415.95 L93.1,415.99 L93.6,416.03 L94.1,416.06 L94.6,416.06 L95.1,416.06 L95.6,416.06 L96.1,416.06 L96.6,416.06 L97.1,416.06 L97.6,416.06 L98.1,416.06 L98.6,416.06 L99.1,416.06 L99.6,416.06 L100.1,416.06 L100.6,416.06 L101.1,416.06 L101.6,416.06 L102.1,416.06 L102.6,416.06 L103.1,416.06 L103.6,416.06 L104.1,416.06 L104.6,416.06 L105.1,416.06 L105.6,416.06 L106.1,416.06 L106.6,416.06 L107.1,416.06 L107.6,416.06 L108.1,416.06 L108.6,416.06 L109.1,416.06 L109.6,416.06 L110.1,416.06 L110.6,416.06 L110.6,416.1 L43.6,416.1Z" fill="#2f4b86"/>
<path d="M43.6,416.06 L44.1,416.06 L44.6,416.06 L45.1,416.06 L45.6,416.06 L46.1,416.06 L46.6,416.06 L47.1,416.06 L47.6,416.06 L48.1,416.06 L48.6,416.06 L49.1,416.06 L49.6,416.06 L50.1,416.06 L50.6,416.04 L51.1,416.03 L51.6,416.02 L52.1,416.00 L52.6,415.99 L53.1,415.98 L53.6,415.97 L54.1,415.96 L54.6,415.95 L55.1,415.94 L55.6,415.92 L56.1,415.91 L56.6,415.89 L57.1,415.88 L57.6,415.86 L58.1,415.84 L58.6,415.82 L59.1,415.80 L59.6,415.77 L60.1,415.74 L60.6,415.71 L61.1,415.68 L61.6,415.64 L62.1,415.60 L62.6,415.55 L63.1,415.48 L63.6,415.36 L64.1,415.21 L64.6,415.14 L65.1,414.84 L65.6,414.52 L66.1,414.27 L66.6,414.36 L67.1,413.51 L67.6,413.14 L68.1,412.12 L68.6,411.26 L69.1,410.80 L69.6,410.64 L70.1,409.71 L70.6,409.05 L71.1,408.20 L71.6,407.63 L72.1,406.88 L72.6,406.86 L73.1,406.63 L73.6,406.00 L74.1,403.60 L74.6,400.49 L75.1,397.72 L75.6,396.16 L76.1,396.13 L76.6,396.48 L77.1,396.97 L77.6,396.12 L78.1,395.84 L78.6,395.75 L79.1,395.75 L79.6,396.44 L80.1,396.92 L80.6,397.50 L81.1,399.26 L81.6,400.69 L82.1,402.56 L82.6,404.12 L83.1,405.35 L83.6,406.50 L84.1,407.97 L84.6,409.70 L85.1,411.04 L85.6,411.65 L86.1,412.26 L86.6,412.61 L87.1,413.26 L87.6,413.63 L88.1,414.46 L88.6,414.22 L89.1,414.98 L89.6,415.07 L90.1,415.31 L90.6,415.51 L91.1,415.68 L91.6,415.81 L92.1,415.90 L92.6,415.95 L93.1,415.99 L93.6,416.03 L94.1,416.06 L94.6,416.06 L95.1,416.06 L95.6,416.06 L96.1,416.06 L96.6,416.06 L97.1,416.06 L97.6,416.06 L98.1,416.06 L98.6,416.06 L99.1,416.06 L99.6,416.06 L100.1,416.06 L100.6,416.06 L101.1,416.06 L101.6,416.06 L102.1,416.06 L102.6,416.06 L103.1,416.06 L103.6,416.06 L104.1,416.06 L104.6,416.06 L105.1,416.06 L105.6,416.06 L106.1,416.06 L106.6,416.06 L107.1,416.06 L107.6,416.06 L108.1,416.06 L108.6,416.06 L109.1,416.06 L109.6,416.06 L110.1,416.06 L110.6,416.06" fill="none" stroke="#26427d" stroke-width="1.05" stroke-linejoin="round"/>
</g>
<line x1="73.4" y1="234.6" x2="73.4" y2="416.6" stroke="#111" stroke-width="1.0" stroke-dasharray="2.4,1.5"/>
<path d="M44.5,416.6 L44.5,234.6 L108.9,234.6 L108.9,416.6" fill="none" stroke="#000" stroke-width="1.3"/>
<line x1="43.9" y1="416.8" x2="109.5" y2="416.8" stroke="#000" stroke-width="1.4" />
<line x1="52.8" y1="416.6" x2="52.8" y2="420.2" stroke="#222" stroke-width="0.8" />
<text x="52.699999999999996" y="428.4" font-size="5.7" text-anchor="middle" fill="#222" stroke="#222" stroke-width="0.2">10<tspan font-size="3.8" dy="-2.6">1</tspan></text>
<line x1="69.69999999999999" y1="416.6" x2="69.69999999999999" y2="420.2" stroke="#222" stroke-width="0.8" />
<text x="69.6" y="428.4" font-size="5.7" text-anchor="middle" fill="#222" stroke="#222" stroke-width="0.2">10<tspan font-size="3.8" dy="-2.6">2</tspan></text>
<line x1="86.6" y1="416.6" x2="86.6" y2="420.2" stroke="#222" stroke-width="0.8" />
<text x="86.5" y="428.4" font-size="5.7" text-anchor="middle" fill="#222" stroke="#222" stroke-width="0.2">10<tspan font-size="3.8" dy="-2.6">3</tspan></text>
<line x1="103.5" y1="416.6" x2="103.5" y2="420.2" stroke="#222" stroke-width="0.8" />
<text x="103.4" y="428.4" font-size="5.7" text-anchor="middle" fill="#222" stroke="#222" stroke-width="0.2">10<tspan font-size="3.8" dy="-2.6">4</tspan></text>
<line x1="46.07481385344256" y1="416.6" x2="46.07481385344256" y2="418.9" stroke="#333" stroke-width="0.55" />
<line x1="47.71259307327872" y1="416.6" x2="47.71259307327872" y2="418.9" stroke="#333" stroke-width="0.55" />
<line x1="49.050756131483574" y1="416.6" x2="49.050756131483574" y2="418.9" stroke="#333" stroke-width="0.55" />
<line x1="50.18215687624094" y1="416.6" x2="50.18215687624094" y2="418.9" stroke="#333" stroke-width="0.55" />
<line x1="51.16222078016384" y1="416.6" x2="51.16222078016384" y2="418.9" stroke="#333" stroke-width="0.55" />
<line x1="52.026698409524585" y1="416.6" x2="52.026698409524585" y2="418.9" stroke="#333" stroke-width="0.55" />
<line x1="57.887406926721276" y1="416.6" x2="57.887406926721276" y2="418.9" stroke="#333" stroke-width="0.55" />
<line x1="60.863349204762294" y1="416.6" x2="60.863349204762294" y2="418.9" stroke="#333" stroke-width="0.55" />
<line x1="62.97481385344256" y1="416.6" x2="62.97481385344256" y2="418.9" stroke="#333" stroke-width="0.55" />
<line x1="64.61259307327872" y1="416.6" x2="64.61259307327872" y2="418.9" stroke="#333" stroke-width="0.55" />
<line x1="65.95075613148357" y1="416.6" x2="65.95075613148357" y2="418.9" stroke="#333" stroke-width="0.55" />
<line x1="67.08215687624093" y1="416.6" x2="67.08215687624093" y2="418.9" stroke="#333" stroke-width="0.55" />
<line x1="68.06222078016384" y1="416.6" x2="68.06222078016384" y2="418.9" stroke="#333" stroke-width="0.55" />
<line x1="68.92669840952459" y1="416.6" x2="68.92669840952459" y2="418.9" stroke="#333" stroke-width="0.55" />
<line x1="74.78740692672127" y1="416.6" x2="74.78740692672127" y2="418.9" stroke="#333" stroke-width="0.55" />
<line x1="77.76334920476228" y1="416.6" x2="77.76334920476228" y2="418.9" stroke="#333" stroke-width="0.55" />
<line x1="79.87481385344255" y1="416.6" x2="79.87481385344255" y2="418.9" stroke="#333" stroke-width="0.55" />
<line x1="81.51259307327871" y1="416.6" x2="81.51259307327871" y2="418.9" stroke="#333" stroke-width="0.55" />
<line x1="82.85075613148356" y1="416.6" x2="82.85075613148356" y2="418.9" stroke="#333" stroke-width="0.55" />
<line x1="83.98215687624092" y1="416.6" x2="83.98215687624092" y2="418.9" stroke="#333" stroke-width="0.55" />
<line x1="84.96222078016383" y1="416.6" x2="84.96222078016383" y2="418.9" stroke="#333" stroke-width="0.55" />
<line x1="85.82669840952458" y1="416.6" x2="85.82669840952458" y2="418.9" stroke="#333" stroke-width="0.55" />
<line x1="91.68740692672128" y1="416.6" x2="91.68740692672128" y2="418.9" stroke="#333" stroke-width="0.55" />
<line x1="94.66334920476228" y1="416.6" x2="94.66334920476228" y2="418.9" stroke="#333" stroke-width="0.55" />
<line x1="96.77481385344255" y1="416.6" x2="96.77481385344255" y2="418.9" stroke="#333" stroke-width="0.55" />
<line x1="98.41259307327871" y1="416.6" x2="98.41259307327871" y2="418.9" stroke="#333" stroke-width="0.55" />
<line x1="99.75075613148357" y1="416.6" x2="99.75075613148357" y2="418.9" stroke="#333" stroke-width="0.55" />
<line x1="100.88215687624093" y1="416.6" x2="100.88215687624093" y2="418.9" stroke="#333" stroke-width="0.55" />
<line x1="101.86222078016384" y1="416.6" x2="101.86222078016384" y2="418.9" stroke="#333" stroke-width="0.55" />
<line x1="102.72669840952459" y1="416.6" x2="102.72669840952459" y2="418.9" stroke="#333" stroke-width="0.55" />
<line x1="108.58740692672129" y1="416.6" x2="108.58740692672129" y2="418.9" stroke="#333" stroke-width="0.55" />
<g clip-path="url(#cp2)">
<path d="M116.6,266.90 L117.1,266.90 L117.6,266.90 L118.1,266.90 L118.6,266.90 L119.1,266.90 L119.6,266.90 L120.1,266.90 L120.6,266.90 L121.1,266.90 L121.6,266.90 L122.1,266.90 L122.6,266.90 L123.1,266.90 L123.6,266.90 L124.1,266.90 L124.6,266.88 L125.1,266.87 L125.6,266.87 L126.1,266.86 L126.6,266.86 L127.1,266.85 L127.6,266.83 L128.1,266.80 L128.6,266.76 L129.1,266.71 L129.6,266.63 L130.1,266.53 L130.6,266.37 L131.1,266.15 L131.6,266.07 L132.1,265.84 L132.6,265.37 L133.1,265.23 L133.6,264.77 L134.1,264.61 L134.6,263.84 L135.1,263.26 L135.6,262.84 L136.1,261.97 L136.6,262.03 L137.1,260.83 L137.6,260.57 L138.1,260.07 L138.6,259.23 L139.1,258.58 L139.6,258.33 L140.1,257.24 L140.6,256.61 L141.1,255.95 L141.6,255.25 L142.1,254.36 L142.6,253.62 L143.1,252.50 L143.6,251.47 L144.1,251.41 L144.6,252.26 L145.1,252.50 L145.6,251.31 L146.1,250.31 L146.6,250.33 L147.1,251.50 L147.6,253.63 L148.1,255.56 L148.6,257.57 L149.1,259.67 L149.6,260.99 L150.1,261.95 L150.6,263.29 L151.1,264.05 L151.6,265.20 L152.1,265.33 L152.6,265.16 L153.1,265.58 L153.6,265.92 L154.1,265.94 L154.6,266.05 L155.1,266.17 L155.6,266.28 L156.1,266.39 L156.6,266.49 L157.1,266.58 L157.6,266.67 L158.1,266.74 L158.6,266.79 L159.1,266.83 L159.6,266.86 L160.1,266.87 L160.6,266.88 L161.1,266.89 L161.6,266.89 L162.1,266.90 L162.6,266.90 L163.1,266.90 L163.6,266.90 L164.1,266.90 L164.6,266.90 L165.1,266.90 L165.6,266.90 L166.1,266.90 L166.6,266.90 L167.1,266.90 L167.6,266.90 L168.1,266.90 L168.6,266.90 L169.1,266.90 L169.6,266.90 L170.1,266.90 L170.6,266.90 L171.1,266.90 L171.6,266.90 L172.1,266.90 L172.6,266.90 L173.1,266.90 L173.6,266.90 L174.1,266.90 L174.6,266.90 L175.1,266.90 L175.6,266.90 L176.1,266.90 L176.6,266.90 L177.1,266.90 L177.6,266.90 L178.1,266.90 L178.6,266.90 L179.1,266.90 L179.6,266.90 L180.1,266.90 L180.6,266.90 L181.1,266.90 L181.6,266.90 L182.1,266.90 L182.6,266.90 L183.1,266.90 L183.6,266.90 L183.6,266.9 L116.6,266.9Z" fill="#c9cad3"/>
<path d="M116.6,266.90 L117.1,266.90 L117.6,266.90 L118.1,266.90 L118.6,266.90 L119.1,266.90 L119.6,266.90 L120.1,266.90 L120.6,266.90 L121.1,266.90 L121.6,266.90 L122.1,266.90 L122.6,266.90 L123.1,266.90 L123.6,266.90 L124.1,266.90 L124.6,266.88 L125.1,266.87 L125.6,266.87 L126.1,266.86 L126.6,266.86 L127.1,266.85 L127.6,266.83 L128.1,266.80 L128.6,266.76 L129.1,266.71 L129.6,266.63 L130.1,266.53 L130.6,266.37 L131.1,266.15 L131.6,266.07 L132.1,265.84 L132.6,265.37 L133.1,265.23 L133.6,264.77 L134.1,264.61 L134.6,263.84 L135.1,263.26 L135.6,262.84 L136.1,261.97 L136.6,262.03 L137.1,260.83 L137.6,260.57 L138.1,260.07 L138.6,259.23 L139.1,258.58 L139.6,258.33 L140.1,257.24 L140.6,256.61 L141.1,255.95 L141.6,255.25 L142.1,254.36 L142.6,253.62 L143.1,252.50 L143.6,251.47 L144.1,251.41 L144.6,252.26 L145.1,252.50 L145.6,251.31 L146.1,250.31 L146.6,250.33 L147.1,251.50 L147.6,253.63 L148.1,255.56 L148.6,257.57 L149.1,259.67 L149.6,260.99 L150.1,261.95 L150.6,263.29 L151.1,264.05 L151.6,265.20 L152.1,265.33 L152.6,265.16 L153.1,265.58 L153.6,265.92 L154.1,265.94 L154.6,266.05 L155.1,266.17 L155.6,266.28 L156.1,266.39 L156.6,266.49 L157.1,266.58 L157.6,266.67 L158.1,266.74 L158.6,266.79 L159.1,266.83 L159.6,266.86 L160.1,266.87 L160.6,266.88 L161.1,266.89 L161.6,266.89 L162.1,266.90 L162.6,266.90 L163.1,266.90 L163.6,266.90 L164.1,266.90 L164.6,266.90 L165.1,266.90 L165.6,266.90 L166.1,266.90 L166.6,266.90 L167.1,266.90 L167.6,266.90 L168.1,266.90 L168.6,266.90 L169.1,266.90 L169.6,266.90 L170.1,266.90 L170.6,266.90 L171.1,266.90 L171.6,266.90 L172.1,266.90 L172.6,266.90 L173.1,266.90 L173.6,266.90 L174.1,266.90 L174.6,266.90 L175.1,266.90 L175.6,266.90 L176.1,266.90 L176.6,266.90 L177.1,266.90 L177.6,266.90 L178.1,266.90 L178.6,266.90 L179.1,266.90 L179.6,266.90 L180.1,266.90 L180.6,266.90 L181.1,266.90 L181.6,266.90 L182.1,266.90 L182.6,266.90 L183.1,266.90 L183.6,266.90" fill="none" stroke="#343a4c" stroke-width="1.05" stroke-linejoin="round"/>
<path d="M116.6,280.46 L117.1,280.46 L117.6,280.46 L118.1,280.46 L118.6,280.46 L119.1,280.46 L119.6,280.46 L120.1,280.46 L120.6,280.46 L121.1,280.46 L121.6,280.46 L122.1,280.46 L122.6,280.46 L123.1,280.46 L123.6,280.46 L124.1,280.46 L124.6,280.45 L125.1,280.45 L125.6,280.46 L126.1,280.46 L126.6,280.46 L127.1,280.46 L127.6,280.46 L128.1,280.46 L128.6,280.46 L129.1,280.46 L129.6,280.46 L130.1,280.44 L130.6,280.40 L131.1,280.34 L131.6,280.28 L132.1,280.18 L132.6,280.03 L133.1,279.83 L133.6,279.60 L134.1,279.31 L134.6,279.18 L135.1,278.53 L135.6,278.14 L136.1,277.88 L136.6,277.84 L137.1,277.06 L137.6,276.27 L138.1,275.03 L138.6,274.43 L139.1,273.71 L139.6,272.80 L140.1,272.09 L140.6,270.33 L141.1,268.91 L141.6,267.83 L142.1,266.54 L142.6,265.57 L143.1,264.18 L143.6,263.56 L144.1,262.86 L144.6,261.56 L145.1,260.90 L145.6,260.57 L146.1,259.66 L146.6,259.03 L147.1,259.33 L147.6,259.49 L148.1,260.27 L148.6,261.19 L149.1,262.19 L149.6,262.90 L150.1,264.09 L150.6,265.63 L151.1,267.82 L151.6,268.75 L152.1,270.32 L152.6,271.34 L153.1,272.46 L153.6,273.60 L154.1,274.37 L154.6,275.46 L155.1,275.92 L155.6,276.35 L156.1,277.44 L156.6,278.39 L157.1,278.51 L157.6,279.09 L158.1,279.57 L158.6,279.54 L159.1,279.70 L159.6,279.82 L160.1,279.92 L160.6,280.01 L161.1,280.08 L161.6,280.14 L162.1,280.21 L162.6,280.27 L163.1,280.33 L163.6,280.37 L164.1,280.41 L164.6,280.44 L165.1,280.46 L165.6,280.46 L166.1,280.46 L166.6,280.46 L167.1,280.46 L167.6,280.46 L168.1,280.46 L168.6,280.46 L169.1,280.46 L169.6,280.46 L170.1,280.46 L170.6,280.46 L171.1,280.46 L171.6,280.46 L172.1,280.46 L172.6,280.46 L173.1,280.46 L173.6,280.46 L174.1,280.46 L174.6,280.46 L175.1,280.46 L175.6,280.46 L176.1,280.46 L176.6,280.46 L177.1,280.46 L177.6,280.46 L178.1,280.46 L178.6,280.46 L179.1,280.46 L179.6,280.46 L180.1,280.46 L180.6,280.46 L181.1,280.46 L181.6,280.46 L182.1,280.46 L182.6,280.46 L183.1,280.46 L183.6,280.46 L183.6,280.5 L116.6,280.5Z" fill="#c9cad3"/>
<path d="M116.6,280.46 L117.1,280.46 L117.6,280.46 L118.1,280.46 L118.6,280.46 L119.1,280.46 L119.6,280.46 L120.1,280.46 L120.6,280.46 L121.1,280.46 L121.6,280.46 L122.1,280.46 L122.6,280.46 L123.1,280.46 L123.6,280.46 L124.1,280.46 L124.6,280.46 L125.1,280.46 L125.6,280.46 L126.1,280.46 L126.6,280.46 L127.1,280.46 L127.6,280.46 L128.1,280.46 L128.6,280.46 L129.1,280.46 L129.6,280.46 L130.1,280.46 L130.6,280.46 L131.1,280.46 L131.6,280.46 L132.1,280.45 L132.6,280.46 L133.1,280.46 L133.6,280.46 L134.1,280.46 L134.6,280.46 L135.1,280.46 L135.6,280.46 L136.1,280.41 L136.6,280.35 L137.1,280.25 L137.6,280.07 L138.1,279.81 L138.6,279.48 L139.1,279.03 L139.6,278.69 L140.1,278.11 L140.6,277.73 L141.1,276.43 L141.6,275.38 L142.1,274.41 L142.6,273.69 L143.1,272.01 L143.6,270.29 L144.1,268.46 L144.6,266.42 L145.1,265.12 L145.6,264.42 L146.1,262.65 L146.6,261.96 L147.1,261.19 L147.6,260.50 L148.1,259.99 L148.6,260.69 L149.1,261.66 L149.6,262.99 L150.1,264.70 L150.6,266.24 L151.1,268.23 L151.6,269.88 L152.1,271.51 L152.6,273.40 L153.1,274.81 L153.6,275.84 L154.1,276.22 L154.6,277.68 L155.1,278.56 L155.6,278.83 L156.1,279.56 L156.6,279.67 L157.1,279.85 L157.6,279.98 L158.1,280.08 L158.6,280.16 L159.1,280.25 L159.6,280.33 L160.1,280.39 L160.6,280.43 L161.1,280.46 L161.6,280.46 L162.1,280.46 L162.6,280.46 L163.1,280.46 L163.6,280.46 L164.1,280.46 L164.6,280.46 L165.1,280.46 L165.6,280.46 L166.1,280.46 L166.6,280.46 L167.1,280.46 L167.6,280.46 L168.1,280.46 L168.6,280.46 L169.1,280.46 L169.6,280.46 L170.1,280.46 L170.6,280.46 L171.1,280.46 L171.6,280.46 L172.1,280.46 L172.6,280.46 L173.1,280.46 L173.6,280.46 L174.1,280.46 L174.6,280.46 L175.1,280.46 L175.6,280.46 L176.1,280.46 L176.6,280.46 L177.1,280.46 L177.6,280.46 L178.1,280.46 L178.6,280.46 L179.1,280.46 L179.6,280.46 L180.1,280.46 L180.6,280.46 L181.1,280.46 L181.6,280.46 L182.1,280.46 L182.6,280.46 L183.1,280.46 L183.6,280.46 L183.6,280.5 L116.6,280.5Z" fill="#9a9dab"/>
<path d="M116.6,280.46 L117.1,280.46 L117.6,280.46 L118.1,280.46 L118.6,280.46 L119.1,280.46 L119.6,280.46 L120.1,280.46 L120.6,280.46 L121.1,280.46 L121.6,280.46 L122.1,280.46 L122.6,280.46 L123.1,280.46 L123.6,280.46 L124.1,280.46 L124.6,280.45 L125.1,280.45 L125.6,280.46 L126.1,280.46 L126.6,280.46 L127.1,280.46 L127.6,280.46 L128.1,280.46 L128.6,280.46 L129.1,280.46 L129.6,280.46 L130.1,280.44 L130.6,280.40 L131.1,280.34 L131.6,280.28 L132.1,280.18 L132.6,280.03 L133.1,279.83 L133.6,279.60 L134.1,279.31 L134.6,279.18 L135.1,278.53 L135.6,278.14 L136.1,277.88 L136.6,277.84 L137.1,277.06 L137.6,276.27 L138.1,275.03 L138.6,274.43 L139.1,273.71 L139.6,272.80 L140.1,272.09 L140.6,270.33 L141.1,268.91 L141.6,267.83 L142.1,266.54 L142.6,265.57 L143.1,264.18 L143.6,263.56 L144.1,262.86 L144.6,261.56 L145.1,260.90 L145.6,260.57 L146.1,259.66 L146.6,259.03 L147.1,259.33 L147.6,259.49 L148.1,260.27 L148.6,261.19 L149.1,262.19 L149.6,262.90 L150.1,264.09 L150.6,265.63 L151.1,267.82 L151.6,268.75 L152.1,270.32 L152.6,271.34 L153.1,272.46 L153.6,273.60 L154.1,274.37 L154.6,275.46 L155.1,275.92 L155.6,276.35 L156.1,277.44 L156.6,278.39 L157.1,278.51 L157.6,279.09 L158.1,279.57 L158.6,279.54 L159.1,279.70 L159.6,279.82 L160.1,279.92 L160.6,280.01 L161.1,280.08 L161.6,280.14 L162.1,280.21 L162.6,280.27 L163.1,280.33 L163.6,280.37 L164.1,280.41 L164.6,280.44 L165.1,280.46 L165.6,280.46 L166.1,280.46 L166.6,280.46 L167.1,280.46 L167.6,280.46 L168.1,280.46 L168.6,280.46 L169.1,280.46 L169.6,280.46 L170.1,280.46 L170.6,280.46 L171.1,280.46 L171.6,280.46 L172.1,280.46 L172.6,280.46 L173.1,280.46 L173.6,280.46 L174.1,280.46 L174.6,280.46 L175.1,280.46 L175.6,280.46 L176.1,280.46 L176.6,280.46 L177.1,280.46 L177.6,280.46 L178.1,280.46 L178.6,280.46 L179.1,280.46 L179.6,280.46 L180.1,280.46 L180.6,280.46 L181.1,280.46 L181.6,280.46 L182.1,280.46 L182.6,280.46 L183.1,280.46 L183.6,280.46" fill="none" stroke="#343a4c" stroke-width="1.05" stroke-linejoin="round"/>
<path d="M116.6,294.02 L117.1,294.02 L117.6,294.02 L118.1,294.02 L118.6,294.02 L119.1,294.02 L119.6,294.02 L120.1,294.02 L120.6,294.02 L121.1,294.02 L121.6,294.02 L122.1,294.02 L122.6,294.02 L123.1,294.02 L123.6,294.02 L124.1,294.01 L124.6,293.99 L125.1,293.97 L125.6,293.96 L126.1,293.95 L126.6,293.93 L127.1,293.92 L127.6,293.90 L128.1,293.88 L128.6,293.86 L129.1,293.83 L129.6,293.79 L130.1,293.74 L130.6,293.69 L131.1,293.62 L131.6,293.54 L132.1,293.42 L132.6,293.22 L133.1,292.68 L133.6,292.41 L134.1,292.65 L134.6,292.20 L135.1,291.87 L135.6,291.26 L136.1,291.14 L136.6,290.74 L137.1,290.23 L137.6,289.95 L138.1,289.38 L138.6,289.51 L139.1,288.80 L139.6,288.13 L140.1,287.86 L140.6,287.69 L141.1,286.61 L141.6,286.00 L142.1,285.91 L142.6,285.01 L143.1,284.15 L143.6,283.49 L144.1,282.37 L144.6,281.87 L145.1,281.08 L145.6,279.89 L146.1,279.03 L146.6,278.85 L147.1,278.76 L147.6,279.08 L148.1,279.61 L148.6,279.77 L149.1,280.34 L149.6,280.83 L150.1,281.36 L150.6,281.87 L151.1,281.87 L151.6,282.45 L152.1,283.07 L152.6,283.62 L153.1,283.81 L153.6,284.56 L154.1,284.96 L154.6,285.06 L155.1,285.57 L155.6,285.14 L156.1,285.70 L156.6,285.26 L157.1,285.70 L157.6,286.38 L158.1,286.57 L158.6,288.16 L159.1,289.43 L159.6,290.03 L160.1,290.67 L160.6,291.33 L161.1,291.81 L161.6,292.73 L162.1,292.91 L162.6,293.12 L163.1,293.33 L163.6,293.50 L164.1,293.66 L164.6,293.80 L165.1,293.94 L165.6,294.02 L166.1,294.02 L166.6,294.02 L167.1,294.02 L167.6,294.02 L168.1,294.02 L168.6,294.02 L169.1,294.02 L169.6,294.02 L170.1,294.02 L170.6,294.02 L171.1,294.02 L171.6,294.02 L172.1,294.02 L172.6,294.02 L173.1,294.02 L173.6,294.02 L174.1,294.02 L174.6,294.02 L175.1,294.02 L175.6,294.02 L176.1,294.02 L176.6,294.02 L177.1,294.02 L177.6,294.02 L178.1,294.02 L178.6,294.02 L179.1,294.02 L179.6,294.02 L180.1,294.02 L180.6,294.02 L181.1,294.02 L181.6,294.02 L182.1,294.02 L182.6,294.02 L183.1,294.02 L183.6,294.02 L183.6,294.0 L116.6,294.0Z" fill="#9a9dab"/>
<path d="M116.6,294.02 L117.1,294.02 L117.6,294.02 L118.1,294.02 L118.6,294.02 L119.1,294.02 L119.6,294.02 L120.1,294.02 L120.6,294.02 L121.1,294.02 L121.6,294.02 L122.1,294.02 L122.6,294.02 L123.1,294.02 L123.6,294.02 L124.1,294.02 L124.6,294.02 L125.1,294.02 L125.6,294.02 L126.1,294.02 L126.6,294.02 L127.1,294.02 L127.6,294.02 L128.1,294.02 L128.6,294.02 L129.1,294.02 L129.6,294.02 L130.1,294.02 L130.6,294.02 L131.1,294.02 L131.6,294.00 L132.1,293.98 L132.6,293.96 L133.1,293.94 L133.6,293.92 L134.1,293.90 L134.6,293.87 L135.1,293.83 L135.6,293.77 L136.1,293.70 L136.6,293.60 L137.1,293.47 L137.6,293.20 L138.1,292.81 L138.6,292.19 L139.1,291.64 L139.6,291.73 L140.1,291.01 L140.6,290.58 L141.1,290.08 L141.6,289.94 L142.1,289.51 L142.6,288.70 L143.1,287.77 L143.6,287.38 L144.1,286.49 L144.6,285.74 L145.1,284.20 L145.6,282.98 L146.1,282.43 L146.6,280.85 L147.1,280.40 L147.6,279.31 L148.1,279.37 L148.6,280.34 L149.1,280.58 L149.6,281.23 L150.1,281.43 L150.6,282.55 L151.1,282.93 L151.6,283.17 L152.1,283.90 L152.6,284.74 L153.1,285.45 L153.6,285.22 L154.1,285.74 L154.6,285.50 L155.1,286.29 L155.6,286.23 L156.1,287.40 L156.6,289.00 L157.1,290.76 L157.6,291.41 L158.1,292.49 L158.6,292.62 L159.1,293.14 L159.6,293.41 L160.1,293.63 L160.6,293.82 L161.1,294.01 L161.6,294.02 L162.1,294.02 L162.6,294.02 L163.1,294.02 L163.6,294.02 L164.1,294.02 L164.6,294.02 L165.1,294.02 L165.6,294.02 L166.1,294.02 L166.6,294.02 L167.1,294.02 L167.6,294.02 L168.1,294.02 L168.6,294.02 L169.1,294.02 L169.6,294.02 L170.1,294.02 L170.6,294.02 L171.1,294.02 L171.6,294.02 L172.1,294.02 L172.6,294.02 L173.1,294.02 L173.6,294.02 L174.1,294.02 L174.6,294.02 L175.1,294.02 L175.6,294.02 L176.1,294.02 L176.6,294.02 L177.1,294.02 L177.6,294.02 L178.1,294.02 L178.6,294.02 L179.1,294.02 L179.6,294.02 L180.1,294.02 L180.6,294.02 L181.1,294.02 L181.6,294.02 L182.1,294.02 L182.6,294.02 L183.1,294.02 L183.6,294.02 L183.6,294.0 L116.6,294.0Z" fill="#6c7083"/>
<path d="M116.6,294.02 L117.1,294.02 L117.6,294.02 L118.1,294.02 L118.6,294.02 L119.1,294.02 L119.6,294.02 L120.1,294.02 L120.6,294.02 L121.1,294.02 L121.6,294.02 L122.1,294.02 L122.6,294.02 L123.1,294.02 L123.6,294.02 L124.1,294.01 L124.6,293.99 L125.1,293.97 L125.6,293.96 L126.1,293.95 L126.6,293.93 L127.1,293.92 L127.6,293.90 L128.1,293.88 L128.6,293.86 L129.1,293.83 L129.6,293.79 L130.1,293.74 L130.6,293.69 L131.1,293.62 L131.6,293.54 L132.1,293.42 L132.6,293.22 L133.1,292.68 L133.6,292.41 L134.1,292.65 L134.6,292.20 L135.1,291.87 L135.6,291.26 L136.1,291.14 L136.6,290.74 L137.1,290.23 L137.6,289.95 L138.1,289.38 L138.6,289.51 L139.1,288.80 L139.6,288.13 L140.1,287.86 L140.6,287.69 L141.1,286.61 L141.6,286.00 L142.1,285.91 L142.6,285.01 L143.1,284.15 L143.6,283.49 L144.1,282.37 L144.6,281.87 L145.1,281.08 L145.6,279.89 L146.1,279.03 L146.6,278.85 L147.1,278.76 L147.6,279.08 L148.1,279.61 L148.6,279.77 L149.1,280.34 L149.6,280.83 L150.1,281.36 L150.6,281.87 L151.1,281.87 L151.6,282.45 L152.1,283.07 L152.6,283.62 L153.1,283.81 L153.6,284.56 L154.1,284.96 L154.6,285.06 L155.1,285.57 L155.6,285.14 L156.1,285.70 L156.6,285.26 L157.1,285.70 L157.6,286.38 L158.1,286.57 L158.6,288.16 L159.1,289.43 L159.6,290.03 L160.1,290.67 L160.6,291.33 L161.1,291.81 L161.6,292.73 L162.1,292.91 L162.6,293.12 L163.1,293.33 L163.6,293.50 L164.1,293.66 L164.6,293.80 L165.1,293.94 L165.6,294.02 L166.1,294.02 L166.6,294.02 L167.1,294.02 L167.6,294.02 L168.1,294.02 L168.6,294.02 L169.1,294.02 L169.6,294.02 L170.1,294.02 L170.6,294.02 L171.1,294.02 L171.6,294.02 L172.1,294.02 L172.6,294.02 L173.1,294.02 L173.6,294.02 L174.1,294.02 L174.6,294.02 L175.1,294.02 L175.6,294.02 L176.1,294.02 L176.6,294.02 L177.1,294.02 L177.6,294.02 L178.1,294.02 L178.6,294.02 L179.1,294.02 L179.6,294.02 L180.1,294.02 L180.6,294.02 L181.1,294.02 L181.6,294.02 L182.1,294.02 L182.6,294.02 L183.1,294.02 L183.6,294.02" fill="none" stroke="#343a4c" stroke-width="1.05" stroke-linejoin="round"/>
<path d="M116.6,307.58 L117.1,307.58 L117.6,307.58 L118.1,307.58 L118.6,307.58 L119.1,307.58 L119.6,307.58 L120.1,307.58 L120.6,307.58 L121.1,307.58 L121.6,307.58 L122.1,307.58 L122.6,307.58 L123.1,307.58 L123.6,307.58 L124.1,307.57 L124.6,307.55 L125.1,307.54 L125.6,307.52 L126.1,307.51 L126.6,307.50 L127.1,307.49 L127.6,307.48 L128.1,307.46 L128.6,307.44 L129.1,307.41 L129.6,307.37 L130.1,307.32 L130.6,307.26 L131.1,307.19 L131.6,307.10 L132.1,306.97 L132.6,306.74 L133.1,306.45 L133.6,305.82 L134.1,305.89 L134.6,305.44 L135.1,305.18 L135.6,304.92 L136.1,304.09 L136.6,304.30 L137.1,303.64 L137.6,303.38 L138.1,302.59 L138.6,302.76 L139.1,302.29 L139.6,301.64 L140.1,301.33 L140.6,300.37 L141.1,299.33 L141.6,299.05 L142.1,297.87 L142.6,297.11 L143.1,296.85 L143.6,295.53 L144.1,295.18 L144.6,293.94 L145.1,293.98 L145.6,293.03 L146.1,292.62 L146.6,292.70 L147.1,292.50 L147.6,292.10 L148.1,291.59 L148.6,290.69 L149.1,290.57 L149.6,290.27 L150.1,289.50 L150.6,289.42 L151.1,289.56 L151.6,289.38 L152.1,289.10 L152.6,288.60 L153.1,288.49 L153.6,288.66 L154.1,288.89 L154.6,289.21 L155.1,289.22 L155.6,289.13 L156.1,289.08 L156.6,289.27 L157.1,289.73 L157.6,290.17 L158.1,290.50 L158.6,290.87 L159.1,292.14 L159.6,292.65 L160.1,294.07 L160.6,295.17 L161.1,297.06 L161.6,299.14 L162.1,300.22 L162.6,301.01 L163.1,302.31 L163.6,303.27 L164.1,304.19 L164.6,304.65 L165.1,305.51 L165.6,305.88 L166.1,306.58 L166.6,306.97 L167.1,307.21 L167.6,307.36 L168.1,307.45 L168.6,307.52 L169.1,307.58 L169.6,307.58 L170.1,307.58 L170.6,307.58 L171.1,307.58 L171.6,307.58 L172.1,307.58 L172.6,307.58 L173.1,307.58 L173.6,307.58 L174.1,307.58 L174.6,307.58 L175.1,307.58 L175.6,307.58 L176.1,307.58 L176.6,307.58 L177.1,307.58 L177.6,307.58 L178.1,307.58 L178.6,307.58 L179.1,307.58 L179.6,307.58 L180.1,307.58 L180.6,307.58 L181.1,307.58 L181.6,307.58 L182.1,307.58 L182.6,307.58 L183.1,307.58 L183.6,307.58 L183.6,307.6 L116.6,307.6Z" fill="#4a4f63"/>
<path d="M116.6,307.58 L117.1,307.58 L117.6,307.58 L118.1,307.58 L118.6,307.58 L119.1,307.58 L119.6,307.58 L120.1,307.58 L120.6,307.58 L121.1,307.58 L121.6,307.58 L122.1,307.58 L122.6,307.58 L123.1,307.58 L123.6,307.58 L124.1,307.57 L124.6,307.55 L125.1,307.54 L125.6,307.52 L126.1,307.51 L126.6,307.50 L127.1,307.49 L127.6,307.48 L128.1,307.46 L128.6,307.44 L129.1,307.41 L129.6,307.37 L130.1,307.32 L130.6,307.26 L131.1,307.19 L131.6,307.10 L132.1,306.97 L132.6,306.74 L133.1,306.45 L133.6,305.82 L134.1,305.89 L134.6,305.44 L135.1,305.18 L135.6,304.92 L136.1,304.09 L136.6,304.30 L137.1,303.64 L137.6,303.38 L138.1,302.59 L138.6,302.76 L139.1,302.29 L139.6,301.64 L140.1,301.33 L140.6,300.37 L141.1,299.33 L141.6,299.05 L142.1,297.87 L142.6,297.11 L143.1,296.85 L143.6,295.53 L144.1,295.18 L144.6,293.94 L145.1,293.98 L145.6,293.03 L146.1,292.62 L146.6,292.70 L147.1,292.50 L147.6,292.10 L148.1,291.59 L148.6,290.69 L149.1,290.57 L149.6,290.27 L150.1,289.50 L150.6,289.42 L151.1,289.56 L151.6,289.38 L152.1,289.10 L152.6,288.60 L153.1,288.49 L153.6,288.66 L154.1,288.89 L154.6,289.21 L155.1,289.22 L155.6,289.13 L156.1,289.08 L156.6,289.27 L157.1,289.73 L157.6,290.17 L158.1,290.50 L158.6,290.87 L159.1,292.14 L159.6,292.65 L160.1,294.07 L160.6,295.17 L161.1,297.06 L161.6,299.14 L162.1,300.22 L162.6,301.01 L163.1,302.31 L163.6,303.27 L164.1,304.19 L164.6,304.65 L165.1,305.51 L165.6,305.88 L166.1,306.58 L166.6,306.97 L167.1,307.21 L167.6,307.36 L168.1,307.45 L168.6,307.52 L169.1,307.58 L169.6,307.58 L170.1,307.58 L170.6,307.58 L171.1,307.58 L171.6,307.58 L172.1,307.58 L172.6,307.58 L173.1,307.58 L173.6,307.58 L174.1,307.58 L174.6,307.58 L175.1,307.58 L175.6,307.58 L176.1,307.58 L176.6,307.58 L177.1,307.58 L177.6,307.58 L178.1,307.58 L178.6,307.58 L179.1,307.58 L179.6,307.58 L180.1,307.58 L180.6,307.58 L181.1,307.58 L181.6,307.58 L182.1,307.58 L182.6,307.58 L183.1,307.58 L183.6,307.58" fill="none" stroke="#343a4c" stroke-width="1.05" stroke-linejoin="round"/>
<path d="M116.6,321.14 L117.1,321.14 L117.6,321.14 L118.1,321.14 L118.6,321.14 L119.1,321.14 L119.6,321.14 L120.1,321.14 L120.6,321.14 L121.1,321.14 L121.6,321.14 L122.1,321.14 L122.6,321.14 L123.1,321.14 L123.6,321.14 L124.1,321.14 L124.6,321.12 L125.1,321.09 L125.6,321.07 L126.1,321.05 L126.6,321.03 L127.1,321.01 L127.6,320.99 L128.1,320.97 L128.6,320.94 L129.1,320.92 L129.6,320.89 L130.1,320.87 L130.6,320.84 L131.1,320.81 L131.6,320.78 L132.1,320.75 L132.6,320.71 L133.1,320.68 L133.6,320.64 L134.1,320.60 L134.6,320.56 L135.1,320.50 L135.6,320.44 L136.1,320.36 L136.6,320.27 L137.1,320.16 L137.6,320.19 L138.1,319.77 L138.6,319.61 L139.1,319.54 L139.6,318.57 L140.1,318.30 L140.6,317.42 L141.1,317.20 L141.6,316.48 L142.1,315.69 L142.6,315.14 L143.1,314.69 L143.6,313.47 L144.1,312.64 L144.6,310.94 L145.1,308.73 L145.6,307.10 L146.1,304.77 L146.6,305.13 L147.1,306.57 L147.6,308.59 L148.1,309.77 L148.6,310.77 L149.1,311.72 L149.6,312.69 L150.1,313.40 L150.6,314.72 L151.1,315.98 L151.6,316.68 L152.1,317.64 L152.6,318.66 L153.1,319.60 L153.6,319.76 L154.1,320.28 L154.6,320.47 L155.1,320.60 L155.6,320.70 L156.1,320.77 L156.6,320.83 L157.1,320.87 L157.6,320.93 L158.1,320.99 L158.6,321.04 L159.1,321.08 L159.6,321.11 L160.1,321.14 L160.6,321.14 L161.1,321.14 L161.6,321.14 L162.1,321.14 L162.6,321.14 L163.1,321.14 L163.6,321.14 L164.1,321.14 L164.6,321.14 L165.1,321.14 L165.6,321.14 L166.1,321.14 L166.6,321.14 L167.1,321.14 L167.6,321.14 L168.1,321.14 L168.6,321.14 L169.1,321.14 L169.6,321.14 L170.1,321.14 L170.6,321.14 L171.1,321.14 L171.6,321.14 L172.1,321.14 L172.6,321.14 L173.1,321.14 L173.6,321.14 L174.1,321.14 L174.6,321.14 L175.1,321.14 L175.6,321.14 L176.1,321.14 L176.6,321.14 L177.1,321.14 L177.6,321.14 L178.1,321.14 L178.6,321.14 L179.1,321.14 L179.6,321.14 L180.1,321.14 L180.6,321.14 L181.1,321.14 L181.6,321.14 L182.1,321.14 L182.6,321.14 L183.1,321.14 L183.6,321.14 L183.6,321.1 L116.6,321.1Z" fill="#f7e0bb"/>
<path d="M116.6,321.14 L117.1,321.14 L117.6,321.14 L118.1,321.14 L118.6,321.14 L119.1,321.14 L119.6,321.14 L120.1,321.14 L120.6,321.14 L121.1,321.14 L121.6,321.14 L122.1,321.14 L122.6,321.14 L123.1,321.14 L123.6,321.14 L124.1,321.14 L124.6,321.12 L125.1,321.09 L125.6,321.07 L126.1,321.05 L126.6,321.03 L127.1,321.01 L127.6,320.99 L128.1,320.97 L128.6,320.94 L129.1,320.92 L129.6,320.89 L130.1,320.87 L130.6,320.84 L131.1,320.81 L131.6,320.78 L132.1,320.75 L132.6,320.71 L133.1,320.68 L133.6,320.64 L134.1,320.60 L134.6,320.56 L135.1,320.50 L135.6,320.44 L136.1,320.36 L136.6,320.27 L137.1,320.16 L137.6,320.19 L138.1,319.77 L138.6,319.61 L139.1,319.54 L139.6,318.57 L140.1,318.30 L140.6,317.42 L141.1,317.20 L141.6,316.48 L142.1,315.69 L142.6,315.14 L143.1,314.69 L143.6,313.47 L144.1,312.64 L144.6,310.94 L145.1,308.73 L145.6,307.10 L146.1,304.77 L146.6,305.13 L147.1,306.57 L147.6,308.59 L148.1,309.77 L148.6,310.77 L149.1,311.72 L149.6,312.69 L150.1,313.40 L150.6,314.72 L151.1,315.98 L151.6,316.68 L152.1,317.64 L152.6,318.66 L153.1,319.60 L153.6,319.76 L154.1,320.28 L154.6,320.47 L155.1,320.60 L155.6,320.70 L156.1,320.77 L156.6,320.83 L157.1,320.87 L157.6,320.93 L158.1,320.99 L158.6,321.04 L159.1,321.08 L159.6,321.11 L160.1,321.14 L160.6,321.14 L161.1,321.14 L161.6,321.14 L162.1,321.14 L162.6,321.14 L163.1,321.14 L163.6,321.14 L164.1,321.14 L164.6,321.14 L165.1,321.14 L165.6,321.14 L166.1,321.14 L166.6,321.14 L167.1,321.14 L167.6,321.14 L168.1,321.14 L168.6,321.14 L169.1,321.14 L169.6,321.14 L170.1,321.14 L170.6,321.14 L171.1,321.14 L171.6,321.14 L172.1,321.14 L172.6,321.14 L173.1,321.14 L173.6,321.14 L174.1,321.14 L174.6,321.14 L175.1,321.14 L175.6,321.14 L176.1,321.14 L176.6,321.14 L177.1,321.14 L177.6,321.14 L178.1,321.14 L178.6,321.14 L179.1,321.14 L179.6,321.14 L180.1,321.14 L180.6,321.14 L181.1,321.14 L181.6,321.14 L182.1,321.14 L182.6,321.14 L183.1,321.14 L183.6,321.14" fill="none" stroke="#e0931f" stroke-width="1.05" stroke-linejoin="round"/>
<path d="M116.6,334.70 L117.1,334.70 L117.6,334.70 L118.1,334.70 L118.6,334.70 L119.1,334.70 L119.6,334.70 L120.1,334.70 L120.6,334.70 L121.1,334.70 L121.6,334.70 L122.1,334.70 L122.6,334.70 L123.1,334.70 L123.6,334.70 L124.1,334.70 L124.6,334.69 L125.1,334.69 L125.6,334.70 L126.1,334.70 L126.6,334.70 L127.1,334.70 L127.6,334.70 L128.1,334.70 L128.6,334.70 L129.1,334.70 L129.6,334.70 L130.1,334.68 L130.6,334.64 L131.1,334.59 L131.6,334.52 L132.1,334.41 L132.6,334.22 L133.1,333.96 L133.6,333.69 L134.1,333.51 L134.6,332.68 L135.1,332.74 L135.6,332.45 L136.1,331.73 L136.6,331.64 L137.1,330.87 L137.6,330.43 L138.1,329.52 L138.6,329.53 L139.1,328.91 L139.6,328.01 L140.1,327.91 L140.6,326.73 L141.1,326.36 L141.6,325.20 L142.1,324.27 L142.6,323.73 L143.1,322.27 L143.6,320.36 L144.1,318.82 L144.6,317.49 L145.1,316.12 L145.6,314.37 L146.1,313.76 L146.6,313.81 L147.1,314.90 L147.6,316.27 L148.1,318.77 L148.6,321.42 L149.1,323.24 L149.6,324.99 L150.1,327.25 L150.6,328.69 L151.1,330.08 L151.6,331.00 L152.1,331.72 L152.6,332.63 L153.1,333.32 L153.6,333.30 L154.1,333.83 L154.6,334.01 L155.1,334.15 L155.6,334.24 L156.1,334.31 L156.6,334.35 L157.1,334.39 L157.6,334.42 L158.1,334.45 L158.6,334.49 L159.1,334.54 L159.6,334.59 L160.1,334.63 L160.6,334.67 L161.1,334.70 L161.6,334.70 L162.1,334.70 L162.6,334.70 L163.1,334.70 L163.6,334.70 L164.1,334.70 L164.6,334.70 L165.1,334.70 L165.6,334.70 L166.1,334.70 L166.6,334.70 L167.1,334.70 L167.6,334.70 L168.1,334.70 L168.6,334.70 L169.1,334.70 L169.6,334.70 L170.1,334.70 L170.6,334.70 L171.1,334.70 L171.6,334.70 L172.1,334.70 L172.6,334.70 L173.1,334.70 L173.6,334.70 L174.1,334.70 L174.6,334.70 L175.1,334.70 L175.6,334.70 L176.1,334.70 L176.6,334.70 L177.1,334.70 L177.6,334.70 L178.1,334.70 L178.6,334.70 L179.1,334.70 L179.6,334.70 L180.1,334.70 L180.6,334.70 L181.1,334.70 L181.6,334.70 L182.1,334.70 L182.6,334.70 L183.1,334.70 L183.6,334.70 L183.6,334.7 L116.6,334.7Z" fill="#f7e0bb"/>
<path d="M116.6,334.70 L117.1,334.70 L117.6,334.70 L118.1,334.70 L118.6,334.70 L119.1,334.70 L119.6,334.70 L120.1,334.70 L120.6,334.70 L121.1,334.70 L121.6,334.70 L122.1,334.70 L122.6,334.70 L123.1,334.70 L123.6,334.70 L124.1,334.70 L124.6,334.70 L125.1,334.70 L125.6,334.70 L126.1,334.70 L126.6,334.70 L127.1,334.70 L127.6,334.70 L128.1,334.70 L128.6,334.70 L129.1,334.70 L129.6,334.70 L130.1,334.70 L130.6,334.70 L131.1,334.70 L131.6,334.69 L132.1,334.70 L132.6,334.70 L133.1,334.70 L133.6,334.70 L134.1,334.70 L134.6,334.70 L135.1,334.70 L135.6,334.68 L136.1,334.62 L136.6,334.54 L137.1,334.38 L137.6,334.09 L138.1,333.70 L138.6,333.16 L139.1,332.84 L139.6,332.19 L140.1,332.11 L140.6,331.00 L141.1,330.48 L141.6,329.54 L142.1,329.12 L142.6,328.28 L143.1,327.42 L143.6,326.32 L144.1,324.94 L144.6,323.90 L145.1,321.58 L145.6,319.81 L146.1,318.19 L146.6,315.62 L147.1,314.33 L147.6,315.29 L148.1,316.82 L148.6,319.97 L149.1,323.23 L149.6,325.53 L150.1,327.99 L150.6,329.70 L151.1,331.12 L151.6,332.61 L152.1,333.17 L152.6,333.71 L153.1,333.99 L153.6,334.17 L154.1,334.29 L154.6,334.36 L155.1,334.41 L155.6,334.44 L156.1,334.50 L156.6,334.57 L157.1,334.63 L157.6,334.68 L158.1,334.70 L158.6,334.70 L159.1,334.70 L159.6,334.70 L160.1,334.70 L160.6,334.70 L161.1,334.70 L161.6,334.70 L162.1,334.70 L162.6,334.70 L163.1,334.70 L163.6,334.70 L164.1,334.70 L164.6,334.70 L165.1,334.70 L165.6,334.70 L166.1,334.70 L166.6,334.70 L167.1,334.70 L167.6,334.70 L168.1,334.70 L168.6,334.70 L169.1,334.70 L169.6,334.70 L170.1,334.70 L170.6,334.70 L171.1,334.70 L171.6,334.70 L172.1,334.70 L172.6,334.70 L173.1,334.70 L173.6,334.70 L174.1,334.70 L174.6,334.70 L175.1,334.70 L175.6,334.70 L176.1,334.70 L176.6,334.70 L177.1,334.70 L177.6,334.70 L178.1,334.70 L178.6,334.70 L179.1,334.70 L179.6,334.70 L180.1,334.70 L180.6,334.70 L181.1,334.70 L181.6,334.70 L182.1,334.70 L182.6,334.70 L183.1,334.70 L183.6,334.70 L183.6,334.7 L116.6,334.7Z" fill="#f0c683"/>
<path d="M116.6,334.70 L117.1,334.70 L117.6,334.70 L118.1,334.70 L118.6,334.70 L119.1,334.70 L119.6,334.70 L120.1,334.70 L120.6,334.70 L121.1,334.70 L121.6,334.70 L122.1,334.70 L122.6,334.70 L123.1,334.70 L123.6,334.70 L124.1,334.70 L124.6,334.69 L125.1,334.69 L125.6,334.70 L126.1,334.70 L126.6,334.70 L127.1,334.70 L127.6,334.70 L128.1,334.70 L128.6,334.70 L129.1,334.70 L129.6,334.70 L130.1,334.68 L130.6,334.64 L131.1,334.59 L131.6,334.52 L132.1,334.41 L132.6,334.22 L133.1,333.96 L133.6,333.69 L134.1,333.51 L134.6,332.68 L135.1,332.74 L135.6,332.45 L136.1,331.73 L136.6,331.64 L137.1,330.87 L137.6,330.43 L138.1,329.52 L138.6,329.53 L139.1,328.91 L139.6,328.01 L140.1,327.91 L140.6,326.73 L141.1,326.36 L141.6,325.20 L142.1,324.27 L142.6,323.73 L143.1,322.27 L143.6,320.36 L144.1,318.82 L144.6,317.49 L145.1,316.12 L145.6,314.37 L146.1,313.76 L146.6,313.81 L147.1,314.90 L147.6,316.27 L148.1,318.77 L148.6,321.42 L149.1,323.24 L149.6,324.99 L150.1,327.25 L150.6,328.69 L151.1,330.08 L151.6,331.00 L152.1,331.72 L152.6,332.63 L153.1,333.32 L153.6,333.30 L154.1,333.83 L154.6,334.01 L155.1,334.15 L155.6,334.24 L156.1,334.31 L156.6,334.35 L157.1,334.39 L157.6,334.42 L158.1,334.45 L158.6,334.49 L159.1,334.54 L159.6,334.59 L160.1,334.63 L160.6,334.67 L161.1,334.70 L161.6,334.70 L162.1,334.70 L162.6,334.70 L163.1,334.70 L163.6,334.70 L164.1,334.70 L164.6,334.70 L165.1,334.70 L165.6,334.70 L166.1,334.70 L166.6,334.70 L167.1,334.70 L167.6,334.70 L168.1,334.70 L168.6,334.70 L169.1,334.70 L169.6,334.70 L170.1,334.70 L170.6,334.70 L171.1,334.70 L171.6,334.70 L172.1,334.70 L172.6,334.70 L173.1,334.70 L173.6,334.70 L174.1,334.70 L174.6,334.70 L175.1,334.70 L175.6,334.70 L176.1,334.70 L176.6,334.70 L177.1,334.70 L177.6,334.70 L178.1,334.70 L178.6,334.70 L179.1,334.70 L179.6,334.70 L180.1,334.70 L180.6,334.70 L181.1,334.70 L181.6,334.70 L182.1,334.70 L182.6,334.70 L183.1,334.70 L183.6,334.70" fill="none" stroke="#e0931f" stroke-width="1.05" stroke-linejoin="round"/>
<path d="M116.6,348.26 L117.1,348.26 L117.6,348.26 L118.1,348.26 L118.6,348.26 L119.1,348.26 L119.6,348.26 L120.1,348.26 L120.6,348.26 L121.1,348.26 L121.6,348.26 L122.1,348.26 L122.6,348.26 L123.1,348.26 L123.6,348.26 L124.1,348.25 L124.6,348.22 L125.1,348.19 L125.6,348.16 L126.1,348.13 L126.6,348.11 L127.1,348.08 L127.6,348.04 L128.1,348.01 L128.6,347.98 L129.1,347.94 L129.6,347.90 L130.1,347.86 L130.6,347.81 L131.1,347.76 L131.6,347.70 L132.1,347.64 L132.6,347.57 L133.1,347.49 L133.6,347.38 L134.1,347.18 L134.6,347.40 L135.1,347.11 L135.6,346.58 L136.1,346.24 L136.6,346.34 L137.1,345.94 L137.6,345.66 L138.1,345.35 L138.6,344.75 L139.1,344.07 L139.6,343.94 L140.1,343.23 L140.6,342.32 L141.1,341.70 L141.6,341.51 L142.1,340.51 L142.6,340.53 L143.1,340.17 L143.6,339.10 L144.1,338.85 L144.6,337.98 L145.1,337.31 L145.6,336.14 L146.1,335.47 L146.6,333.81 L147.1,332.72 L147.6,331.32 L148.1,330.37 L148.6,329.44 L149.1,330.37 L149.6,331.90 L150.1,333.57 L150.6,335.79 L151.1,337.83 L151.6,340.11 L152.1,341.56 L152.6,342.53 L153.1,343.64 L153.6,344.38 L154.1,345.31 L154.6,346.39 L155.1,346.24 L155.6,346.68 L156.1,347.43 L156.6,347.28 L157.1,347.42 L157.6,347.53 L158.1,347.63 L158.6,347.74 L159.1,347.86 L159.6,347.97 L160.1,348.08 L160.6,348.19 L161.1,348.26 L161.6,348.26 L162.1,348.26 L162.6,348.26 L163.1,348.26 L163.6,348.26 L164.1,348.26 L164.6,348.26 L165.1,348.26 L165.6,348.26 L166.1,348.26 L166.6,348.26 L167.1,348.26 L167.6,348.26 L168.1,348.26 L168.6,348.26 L169.1,348.26 L169.6,348.26 L170.1,348.26 L170.6,348.26 L171.1,348.26 L171.6,348.26 L172.1,348.26 L172.6,348.26 L173.1,348.26 L173.6,348.26 L174.1,348.26 L174.6,348.26 L175.1,348.26 L175.6,348.26 L176.1,348.26 L176.6,348.26 L177.1,348.26 L177.6,348.26 L178.1,348.26 L178.6,348.26 L179.1,348.26 L179.6,348.26 L180.1,348.26 L180.6,348.26 L181.1,348.26 L181.6,348.26 L182.1,348.26 L182.6,348.26 L183.1,348.26 L183.6,348.26 L183.6,348.3 L116.6,348.3Z" fill="#f0c683"/>
<path d="M116.6,348.26 L117.1,348.26 L117.6,348.26 L118.1,348.26 L118.6,348.26 L119.1,348.26 L119.6,348.26 L120.1,348.26 L120.6,348.26 L121.1,348.26 L121.6,348.26 L122.1,348.26 L122.6,348.26 L123.1,348.26 L123.6,348.26 L124.1,348.26 L124.6,348.26 L125.1,348.26 L125.6,348.26 L126.1,348.26 L126.6,348.26 L127.1,348.26 L127.6,348.26 L128.1,348.26 L128.6,348.26 L129.1,348.26 L129.6,348.26 L130.1,348.26 L130.6,348.26 L131.1,348.26 L131.6,348.26 L132.1,348.24 L132.6,348.20 L133.1,348.16 L133.6,348.12 L134.1,348.08 L134.6,348.04 L135.1,348.00 L135.6,347.95 L136.1,347.89 L136.6,347.83 L137.1,347.76 L137.6,347.69 L138.1,347.60 L138.6,347.48 L139.1,347.31 L139.6,347.25 L140.1,346.85 L140.6,346.85 L141.1,346.38 L141.6,346.26 L142.1,345.81 L142.6,344.88 L143.1,344.23 L143.6,343.40 L144.1,342.17 L144.6,341.81 L145.1,340.79 L145.6,340.52 L146.1,339.40 L146.6,338.71 L147.1,338.10 L147.6,336.12 L148.1,334.52 L148.6,333.56 L149.1,331.40 L149.6,330.07 L150.1,331.32 L150.6,334.16 L151.1,336.74 L151.6,339.50 L152.1,341.39 L152.6,343.47 L153.1,344.87 L153.6,345.55 L154.1,346.60 L154.6,346.99 L155.1,346.94 L155.6,347.41 L156.1,347.56 L156.6,347.70 L157.1,347.85 L157.6,348.01 L158.1,348.15 L158.6,348.26 L159.1,348.26 L159.6,348.26 L160.1,348.26 L160.6,348.26 L161.1,348.26 L161.6,348.26 L162.1,348.26 L162.6,348.26 L163.1,348.26 L163.6,348.26 L164.1,348.26 L164.6,348.26 L165.1,348.26 L165.6,348.26 L166.1,348.26 L166.6,348.26 L167.1,348.26 L167.6,348.26 L168.1,348.26 L168.6,348.26 L169.1,348.26 L169.6,348.26 L170.1,348.26 L170.6,348.26 L171.1,348.26 L171.6,348.26 L172.1,348.26 L172.6,348.26 L173.1,348.26 L173.6,348.26 L174.1,348.26 L174.6,348.26 L175.1,348.26 L175.6,348.26 L176.1,348.26 L176.6,348.26 L177.1,348.26 L177.6,348.26 L178.1,348.26 L178.6,348.26 L179.1,348.26 L179.6,348.26 L180.1,348.26 L180.6,348.26 L181.1,348.26 L181.6,348.26 L182.1,348.26 L182.6,348.26 L183.1,348.26 L183.6,348.26 L183.6,348.3 L116.6,348.3Z" fill="#e6a84b"/>
<path d="M116.6,348.26 L117.1,348.26 L117.6,348.26 L118.1,348.26 L118.6,348.26 L119.1,348.26 L119.6,348.26 L120.1,348.26 L120.6,348.26 L121.1,348.26 L121.6,348.26 L122.1,348.26 L122.6,348.26 L123.1,348.26 L123.6,348.26 L124.1,348.25 L124.6,348.22 L125.1,348.19 L125.6,348.16 L126.1,348.13 L126.6,348.11 L127.1,348.08 L127.6,348.04 L128.1,348.01 L128.6,347.98 L129.1,347.94 L129.6,347.90 L130.1,347.86 L130.6,347.81 L131.1,347.76 L131.6,347.70 L132.1,347.64 L132.6,347.57 L133.1,347.49 L133.6,347.38 L134.1,347.18 L134.6,347.40 L135.1,347.11 L135.6,346.58 L136.1,346.24 L136.6,346.34 L137.1,345.94 L137.6,345.66 L138.1,345.35 L138.6,344.75 L139.1,344.07 L139.6,343.94 L140.1,343.23 L140.6,342.32 L141.1,341.70 L141.6,341.51 L142.1,340.51 L142.6,340.53 L143.1,340.17 L143.6,339.10 L144.1,338.85 L144.6,337.98 L145.1,337.31 L145.6,336.14 L146.1,335.47 L146.6,333.81 L147.1,332.72 L147.6,331.32 L148.1,330.37 L148.6,329.44 L149.1,330.37 L149.6,331.90 L150.1,333.57 L150.6,335.79 L151.1,337.83 L151.6,340.11 L152.1,341.56 L152.6,342.53 L153.1,343.64 L153.6,344.38 L154.1,345.31 L154.6,346.39 L155.1,346.24 L155.6,346.68 L156.1,347.43 L156.6,347.28 L157.1,347.42 L157.6,347.53 L158.1,347.63 L158.6,347.74 L159.1,347.86 L159.6,347.97 L160.1,348.08 L160.6,348.19 L161.1,348.26 L161.6,348.26 L162.1,348.26 L162.6,348.26 L163.1,348.26 L163.6,348.26 L164.1,348.26 L164.6,348.26 L165.1,348.26 L165.6,348.26 L166.1,348.26 L166.6,348.26 L167.1,348.26 L167.6,348.26 L168.1,348.26 L168.6,348.26 L169.1,348.26 L169.6,348.26 L170.1,348.26 L170.6,348.26 L171.1,348.26 L171.6,348.26 L172.1,348.26 L172.6,348.26 L173.1,348.26 L173.6,348.26 L174.1,348.26 L174.6,348.26 L175.1,348.26 L175.6,348.26 L176.1,348.26 L176.6,348.26 L177.1,348.26 L177.6,348.26 L178.1,348.26 L178.6,348.26 L179.1,348.26 L179.6,348.26 L180.1,348.26 L180.6,348.26 L181.1,348.26 L181.6,348.26 L182.1,348.26 L182.6,348.26 L183.1,348.26 L183.6,348.26" fill="none" stroke="#e0931f" stroke-width="1.05" stroke-linejoin="round"/>
<path d="M116.6,361.82 L117.1,361.82 L117.6,361.82 L118.1,361.82 L118.6,361.82 L119.1,361.82 L119.6,361.82 L120.1,361.82 L120.6,361.82 L121.1,361.82 L121.6,361.82 L122.1,361.82 L122.6,361.82 L123.1,361.82 L123.6,361.82 L124.1,361.82 L124.6,361.81 L125.1,361.81 L125.6,361.81 L126.1,361.81 L126.6,361.81 L127.1,361.81 L127.6,361.81 L128.1,361.81 L128.6,361.81 L129.1,361.82 L129.6,361.82 L130.1,361.82 L130.6,361.81 L131.1,361.81 L131.6,361.81 L132.1,361.80 L132.6,361.79 L133.1,361.78 L133.6,361.77 L134.1,361.75 L134.6,361.73 L135.1,361.71 L135.6,361.68 L136.1,361.65 L136.6,361.61 L137.1,361.58 L137.6,361.54 L138.1,361.49 L138.6,361.41 L139.1,361.31 L139.6,361.16 L140.1,360.96 L140.6,360.86 L141.1,360.18 L141.6,360.20 L142.1,358.79 L142.6,357.99 L143.1,356.46 L143.6,354.99 L144.1,354.28 L144.6,353.00 L145.1,351.65 L145.6,350.63 L146.1,349.56 L146.6,348.48 L147.1,346.87 L147.6,346.07 L148.1,344.08 L148.6,343.07 L149.1,343.14 L149.6,344.12 L150.1,346.06 L150.6,347.89 L151.1,349.52 L151.6,350.35 L152.1,351.40 L152.6,352.64 L153.1,353.18 L153.6,354.28 L154.1,355.08 L154.6,356.20 L155.1,357.43 L155.6,358.36 L156.1,358.91 L156.6,359.81 L157.1,359.89 L157.6,360.17 L158.1,360.82 L158.6,361.08 L159.1,361.26 L159.6,361.40 L160.1,361.51 L160.6,361.60 L161.1,361.68 L161.6,361.73 L162.1,361.78 L162.6,361.82 L163.1,361.82 L163.6,361.82 L164.1,361.82 L164.6,361.82 L165.1,361.82 L165.6,361.82 L166.1,361.82 L166.6,361.82 L167.1,361.82 L167.6,361.82 L168.1,361.82 L168.6,361.82 L169.1,361.82 L169.6,361.82 L170.1,361.82 L170.6,361.82 L171.1,361.82 L171.6,361.82 L172.1,361.82 L172.6,361.82 L173.1,361.82 L173.6,361.82 L174.1,361.82 L174.6,361.82 L175.1,361.82 L175.6,361.82 L176.1,361.82 L176.6,361.82 L177.1,361.82 L177.6,361.82 L178.1,361.82 L178.6,361.82 L179.1,361.82 L179.6,361.82 L180.1,361.82 L180.6,361.82 L181.1,361.82 L181.6,361.82 L182.1,361.82 L182.6,361.82 L183.1,361.82 L183.6,361.82 L183.6,361.8 L116.6,361.8Z" fill="#df8d1c"/>
<path d="M116.6,361.82 L117.1,361.82 L117.6,361.82 L118.1,361.82 L118.6,361.82 L119.1,361.82 L119.6,361.82 L120.1,361.82 L120.6,361.82 L121.1,361.82 L121.6,361.82 L122.1,361.82 L122.6,361.82 L123.1,361.82 L123.6,361.82 L124.1,361.82 L124.6,361.81 L125.1,361.81 L125.6,361.81 L126.1,361.81 L126.6,361.81 L127.1,361.81 L127.6,361.81 L128.1,361.81 L128.6,361.81 L129.1,361.82 L129.6,361.82 L130.1,361.82 L130.6,361.81 L131.1,361.81 L131.6,361.81 L132.1,361.80 L132.6,361.79 L133.1,361.78 L133.6,361.77 L134.1,361.75 L134.6,361.73 L135.1,361.71 L135.6,361.68 L136.1,361.65 L136.6,361.61 L137.1,361.58 L137.6,361.54 L138.1,361.49 L138.6,361.41 L139.1,361.31 L139.6,361.16 L140.1,360.96 L140.6,360.86 L141.1,360.18 L141.6,360.20 L142.1,358.79 L142.6,357.99 L143.1,356.46 L143.6,354.99 L144.1,354.28 L144.6,353.00 L145.1,351.65 L145.6,350.63 L146.1,349.56 L146.6,348.48 L147.1,346.87 L147.6,346.07 L148.1,344.08 L148.6,343.07 L149.1,343.14 L149.6,344.12 L150.1,346.06 L150.6,347.89 L151.1,349.52 L151.6,350.35 L152.1,351.40 L152.6,352.64 L153.1,353.18 L153.6,354.28 L154.1,355.08 L154.6,356.20 L155.1,357.43 L155.6,358.36 L156.1,358.91 L156.6,359.81 L157.1,359.89 L157.6,360.17 L158.1,360.82 L158.6,361.08 L159.1,361.26 L159.6,361.40 L160.1,361.51 L160.6,361.60 L161.1,361.68 L161.6,361.73 L162.1,361.78 L162.6,361.82 L163.1,361.82 L163.6,361.82 L164.1,361.82 L164.6,361.82 L165.1,361.82 L165.6,361.82 L166.1,361.82 L166.6,361.82 L167.1,361.82 L167.6,361.82 L168.1,361.82 L168.6,361.82 L169.1,361.82 L169.6,361.82 L170.1,361.82 L170.6,361.82 L171.1,361.82 L171.6,361.82 L172.1,361.82 L172.6,361.82 L173.1,361.82 L173.6,361.82 L174.1,361.82 L174.6,361.82 L175.1,361.82 L175.6,361.82 L176.1,361.82 L176.6,361.82 L177.1,361.82 L177.6,361.82 L178.1,361.82 L178.6,361.82 L179.1,361.82 L179.6,361.82 L180.1,361.82 L180.6,361.82 L181.1,361.82 L181.6,361.82 L182.1,361.82 L182.6,361.82 L183.1,361.82 L183.6,361.82" fill="none" stroke="#e0931f" stroke-width="1.05" stroke-linejoin="round"/>
<path d="M116.6,375.38 L117.1,375.38 L117.6,375.38 L118.1,375.38 L118.6,375.38 L119.1,375.38 L119.6,375.38 L120.1,375.38 L120.6,375.38 L121.1,375.38 L121.6,375.38 L122.1,375.38 L122.6,375.38 L123.1,375.38 L123.6,375.38 L124.1,375.38 L124.6,375.36 L125.1,375.36 L125.6,375.36 L126.1,375.36 L126.6,375.37 L127.1,375.36 L127.6,375.35 L128.1,375.32 L128.6,375.27 L129.1,375.21 L129.6,375.12 L130.1,374.99 L130.6,374.78 L131.1,374.48 L131.6,374.32 L132.1,374.05 L132.6,373.54 L133.1,372.79 L133.6,372.87 L134.1,372.11 L134.6,371.90 L135.1,371.28 L135.6,370.55 L136.1,370.48 L136.6,369.33 L137.1,368.76 L137.6,368.25 L138.1,367.53 L138.6,366.58 L139.1,365.44 L139.6,364.27 L140.1,363.74 L140.6,362.54 L141.1,361.23 L141.6,360.62 L142.1,359.12 L142.6,358.10 L143.1,356.82 L143.6,355.00 L144.1,354.19 L144.6,354.13 L145.1,355.96 L145.6,357.67 L146.1,359.15 L146.6,360.66 L147.1,362.59 L147.6,364.27 L148.1,365.40 L148.6,366.84 L149.1,367.68 L149.6,369.27 L150.1,370.47 L150.6,371.07 L151.1,372.26 L151.6,373.28 L152.1,373.91 L152.6,374.37 L153.1,374.39 L153.6,374.58 L154.1,374.72 L154.6,374.84 L155.1,374.94 L155.6,375.04 L156.1,375.14 L156.6,375.22 L157.1,375.28 L157.6,375.34 L158.1,375.38 L158.6,375.38 L159.1,375.38 L159.6,375.38 L160.1,375.38 L160.6,375.38 L161.1,375.38 L161.6,375.38 L162.1,375.38 L162.6,375.38 L163.1,375.38 L163.6,375.38 L164.1,375.38 L164.6,375.38 L165.1,375.38 L165.6,375.38 L166.1,375.38 L166.6,375.38 L167.1,375.38 L167.6,375.38 L168.1,375.38 L168.6,375.38 L169.1,375.38 L169.6,375.38 L170.1,375.38 L170.6,375.38 L171.1,375.38 L171.6,375.38 L172.1,375.38 L172.6,375.38 L173.1,375.38 L173.6,375.38 L174.1,375.38 L174.6,375.38 L175.1,375.38 L175.6,375.38 L176.1,375.38 L176.6,375.38 L177.1,375.38 L177.6,375.38 L178.1,375.38 L178.6,375.38 L179.1,375.38 L179.6,375.38 L180.1,375.38 L180.6,375.38 L181.1,375.38 L181.6,375.38 L182.1,375.38 L182.6,375.38 L183.1,375.38 L183.6,375.38 L183.6,375.4 L116.6,375.4Z" fill="#c6cae1"/>
<path d="M116.6,375.38 L117.1,375.38 L117.6,375.38 L118.1,375.38 L118.6,375.38 L119.1,375.38 L119.6,375.38 L120.1,375.38 L120.6,375.38 L121.1,375.38 L121.6,375.38 L122.1,375.38 L122.6,375.38 L123.1,375.38 L123.6,375.38 L124.1,375.38 L124.6,375.36 L125.1,375.36 L125.6,375.36 L126.1,375.36 L126.6,375.37 L127.1,375.36 L127.6,375.35 L128.1,375.32 L128.6,375.27 L129.1,375.21 L129.6,375.12 L130.1,374.99 L130.6,374.78 L131.1,374.48 L131.6,374.32 L132.1,374.05 L132.6,373.54 L133.1,372.79 L133.6,372.87 L134.1,372.11 L134.6,371.90 L135.1,371.28 L135.6,370.55 L136.1,370.48 L136.6,369.33 L137.1,368.76 L137.6,368.25 L138.1,367.53 L138.6,366.58 L139.1,365.44 L139.6,364.27 L140.1,363.74 L140.6,362.54 L141.1,361.23 L141.6,360.62 L142.1,359.12 L142.6,358.10 L143.1,356.82 L143.6,355.00 L144.1,354.19 L144.6,354.13 L145.1,355.96 L145.6,357.67 L146.1,359.15 L146.6,360.66 L147.1,362.59 L147.6,364.27 L148.1,365.40 L148.6,366.84 L149.1,367.68 L149.6,369.27 L150.1,370.47 L150.6,371.07 L151.1,372.26 L151.6,373.28 L152.1,373.91 L152.6,374.37 L153.1,374.39 L153.6,374.58 L154.1,374.72 L154.6,374.84 L155.1,374.94 L155.6,375.04 L156.1,375.14 L156.6,375.22 L157.1,375.28 L157.6,375.34 L158.1,375.38 L158.6,375.38 L159.1,375.38 L159.6,375.38 L160.1,375.38 L160.6,375.38 L161.1,375.38 L161.6,375.38 L162.1,375.38 L162.6,375.38 L163.1,375.38 L163.6,375.38 L164.1,375.38 L164.6,375.38 L165.1,375.38 L165.6,375.38 L166.1,375.38 L166.6,375.38 L167.1,375.38 L167.6,375.38 L168.1,375.38 L168.6,375.38 L169.1,375.38 L169.6,375.38 L170.1,375.38 L170.6,375.38 L171.1,375.38 L171.6,375.38 L172.1,375.38 L172.6,375.38 L173.1,375.38 L173.6,375.38 L174.1,375.38 L174.6,375.38 L175.1,375.38 L175.6,375.38 L176.1,375.38 L176.6,375.38 L177.1,375.38 L177.6,375.38 L178.1,375.38 L178.6,375.38 L179.1,375.38 L179.6,375.38 L180.1,375.38 L180.6,375.38 L181.1,375.38 L181.6,375.38 L182.1,375.38 L182.6,375.38 L183.1,375.38 L183.6,375.38" fill="none" stroke="#26427d" stroke-width="1.05" stroke-linejoin="round"/>
<path d="M116.6,388.94 L117.1,388.94 L117.6,388.94 L118.1,388.94 L118.6,388.94 L119.1,388.94 L119.6,388.94 L120.1,388.94 L120.6,388.94 L121.1,388.94 L121.6,388.94 L122.1,388.94 L122.6,388.94 L123.1,388.94 L123.6,388.94 L124.1,388.93 L124.6,388.88 L125.1,388.83 L125.6,388.79 L126.1,388.74 L126.6,388.69 L127.1,388.64 L127.6,388.59 L128.1,388.54 L128.6,388.48 L129.1,388.41 L129.6,388.34 L130.1,388.26 L130.6,388.17 L131.1,388.07 L131.6,387.96 L132.1,387.93 L132.6,387.34 L133.1,387.07 L133.6,386.70 L134.1,386.64 L134.6,386.28 L135.1,385.61 L135.6,385.22 L136.1,384.81 L136.6,384.73 L137.1,384.05 L137.6,383.14 L138.1,382.92 L138.6,382.19 L139.1,381.34 L139.6,380.67 L140.1,379.61 L140.6,378.56 L141.1,377.48 L141.6,376.64 L142.1,375.07 L142.6,373.78 L143.1,371.92 L143.6,370.78 L144.1,369.54 L144.6,368.57 L145.1,367.60 L145.6,367.12 L146.1,368.31 L146.6,369.63 L147.1,371.19 L147.6,371.91 L148.1,373.65 L148.6,374.50 L149.1,376.02 L149.6,377.03 L150.1,378.03 L150.6,379.55 L151.1,381.10 L151.6,382.03 L152.1,383.30 L152.6,383.91 L153.1,384.43 L153.6,385.85 L154.1,386.16 L154.6,386.83 L155.1,387.48 L155.6,387.82 L156.1,388.02 L156.6,387.80 L157.1,388.05 L157.6,388.18 L158.1,388.30 L158.6,388.42 L159.1,388.54 L159.6,388.65 L160.1,388.76 L160.6,388.87 L161.1,388.94 L161.6,388.94 L162.1,388.94 L162.6,388.94 L163.1,388.94 L163.6,388.94 L164.1,388.94 L164.6,388.94 L165.1,388.94 L165.6,388.94 L166.1,388.94 L166.6,388.94 L167.1,388.94 L167.6,388.94 L168.1,388.94 L168.6,388.94 L169.1,388.94 L169.6,388.94 L170.1,388.94 L170.6,388.94 L171.1,388.94 L171.6,388.94 L172.1,388.94 L172.6,388.94 L173.1,388.94 L173.6,388.94 L174.1,388.94 L174.6,388.94 L175.1,388.94 L175.6,388.94 L176.1,388.94 L176.6,388.94 L177.1,388.94 L177.6,388.94 L178.1,388.94 L178.6,388.94 L179.1,388.94 L179.6,388.94 L180.1,388.94 L180.6,388.94 L181.1,388.94 L181.6,388.94 L182.1,388.94 L182.6,388.94 L183.1,388.94 L183.6,388.94 L183.6,388.9 L116.6,388.9Z" fill="#c6cae1"/>
<path d="M116.6,388.94 L117.1,388.94 L117.6,388.94 L118.1,388.94 L118.6,388.94 L119.1,388.94 L119.6,388.94 L120.1,388.94 L120.6,388.94 L121.1,388.94 L121.6,388.94 L122.1,388.94 L122.6,388.94 L123.1,388.94 L123.6,388.94 L124.1,388.94 L124.6,388.94 L125.1,388.94 L125.6,388.94 L126.1,388.94 L126.6,388.94 L127.1,388.94 L127.6,388.94 L128.1,388.94 L128.6,388.94 L129.1,388.94 L129.6,388.94 L130.1,388.94 L130.6,388.94 L131.1,388.93 L131.6,388.86 L132.1,388.80 L132.6,388.74 L133.1,388.67 L133.6,388.60 L134.1,388.53 L134.6,388.44 L135.1,388.35 L135.6,388.24 L136.1,388.11 L136.6,387.96 L137.1,388.01 L137.6,387.39 L138.1,387.07 L138.6,386.44 L139.1,386.08 L139.6,385.16 L140.1,384.70 L140.6,383.77 L141.1,382.78 L141.6,382.23 L142.1,381.27 L142.6,380.12 L143.1,378.16 L143.6,377.31 L144.1,375.35 L144.6,373.50 L145.1,371.41 L145.6,370.03 L146.1,368.43 L146.6,368.31 L147.1,369.73 L147.6,371.45 L148.1,373.37 L148.6,374.76 L149.1,376.56 L149.6,377.99 L150.1,379.52 L150.6,381.80 L151.1,383.06 L151.6,384.07 L152.1,385.38 L152.6,386.45 L153.1,387.26 L153.6,387.17 L154.1,387.44 L154.6,388.00 L155.1,388.18 L155.6,388.34 L156.1,388.50 L156.6,388.66 L157.1,388.80 L157.6,388.93 L158.1,388.94 L158.6,388.94 L159.1,388.94 L159.6,388.94 L160.1,388.94 L160.6,388.94 L161.1,388.94 L161.6,388.94 L162.1,388.94 L162.6,388.94 L163.1,388.94 L163.6,388.94 L164.1,388.94 L164.6,388.94 L165.1,388.94 L165.6,388.94 L166.1,388.94 L166.6,388.94 L167.1,388.94 L167.6,388.94 L168.1,388.94 L168.6,388.94 L169.1,388.94 L169.6,388.94 L170.1,388.94 L170.6,388.94 L171.1,388.94 L171.6,388.94 L172.1,388.94 L172.6,388.94 L173.1,388.94 L173.6,388.94 L174.1,388.94 L174.6,388.94 L175.1,388.94 L175.6,388.94 L176.1,388.94 L176.6,388.94 L177.1,388.94 L177.6,388.94 L178.1,388.94 L178.6,388.94 L179.1,388.94 L179.6,388.94 L180.1,388.94 L180.6,388.94 L181.1,388.94 L181.6,388.94 L182.1,388.94 L182.6,388.94 L183.1,388.94 L183.6,388.94 L183.6,388.9 L116.6,388.9Z" fill="#8c95c1"/>
<path d="M116.6,388.94 L117.1,388.94 L117.6,388.94 L118.1,388.94 L118.6,388.94 L119.1,388.94 L119.6,388.94 L120.1,388.94 L120.6,388.94 L121.1,388.94 L121.6,388.94 L122.1,388.94 L122.6,388.94 L123.1,388.94 L123.6,388.94 L124.1,388.93 L124.6,388.88 L125.1,388.83 L125.6,388.79 L126.1,388.74 L126.6,388.69 L127.1,388.64 L127.6,388.59 L128.1,388.54 L128.6,388.48 L129.1,388.41 L129.6,388.34 L130.1,388.26 L130.6,388.17 L131.1,388.07 L131.6,387.96 L132.1,387.93 L132.6,387.34 L133.1,387.07 L133.6,386.70 L134.1,386.64 L134.6,386.28 L135.1,385.61 L135.6,385.22 L136.1,384.81 L136.6,384.73 L137.1,384.05 L137.6,383.14 L138.1,382.92 L138.6,382.19 L139.1,381.34 L139.6,380.67 L140.1,379.61 L140.6,378.56 L141.1,377.48 L141.6,376.64 L142.1,375.07 L142.6,373.78 L143.1,371.92 L143.6,370.78 L144.1,369.54 L144.6,368.57 L145.1,367.60 L145.6,367.12 L146.1,368.31 L146.6,369.63 L147.1,371.19 L147.6,371.91 L148.1,373.65 L148.6,374.50 L149.1,376.02 L149.6,377.03 L150.1,378.03 L150.6,379.55 L151.1,381.10 L151.6,382.03 L152.1,383.30 L152.6,383.91 L153.1,384.43 L153.6,385.85 L154.1,386.16 L154.6,386.83 L155.1,387.48 L155.6,387.82 L156.1,388.02 L156.6,387.80 L157.1,388.05 L157.6,388.18 L158.1,388.30 L158.6,388.42 L159.1,388.54 L159.6,388.65 L160.1,388.76 L160.6,388.87 L161.1,388.94 L161.6,388.94 L162.1,388.94 L162.6,388.94 L163.1,388.94 L163.6,388.94 L164.1,388.94 L164.6,388.94 L165.1,388.94 L165.6,388.94 L166.1,388.94 L166.6,388.94 L167.1,388.94 L167.6,388.94 L168.1,388.94 L168.6,388.94 L169.1,388.94 L169.6,388.94 L170.1,388.94 L170.6,388.94 L171.1,388.94 L171.6,388.94 L172.1,388.94 L172.6,388.94 L173.1,388.94 L173.6,388.94 L174.1,388.94 L174.6,388.94 L175.1,388.94 L175.6,388.94 L176.1,388.94 L176.6,388.94 L177.1,388.94 L177.6,388.94 L178.1,388.94 L178.6,388.94 L179.1,388.94 L179.6,388.94 L180.1,388.94 L180.6,388.94 L181.1,388.94 L181.6,388.94 L182.1,388.94 L182.6,388.94 L183.1,388.94 L183.6,388.94" fill="none" stroke="#26427d" stroke-width="1.05" stroke-linejoin="round"/>
<path d="M116.6,402.50 L117.1,402.50 L117.6,402.50 L118.1,402.50 L118.6,402.50 L119.1,402.50 L119.6,402.50 L120.1,402.50 L120.6,402.50 L121.1,402.50 L121.6,402.50 L122.1,402.50 L122.6,402.50 L123.1,402.50 L123.6,402.50 L124.1,402.49 L124.6,402.44 L125.1,402.39 L125.6,402.35 L126.1,402.30 L126.6,402.26 L127.1,402.20 L127.6,402.14 L128.1,402.07 L128.6,401.98 L129.1,401.88 L129.6,401.75 L130.1,401.59 L130.6,401.37 L131.1,401.34 L131.6,400.36 L132.1,399.95 L132.6,399.45 L133.1,399.34 L133.6,399.35 L134.1,399.13 L134.6,398.65 L135.1,397.79 L135.6,397.56 L136.1,397.18 L136.6,396.61 L137.1,396.15 L137.6,396.18 L138.1,395.68 L138.6,395.38 L139.1,394.42 L139.6,394.12 L140.1,393.42 L140.6,393.25 L141.1,392.45 L141.6,391.86 L142.1,390.86 L142.6,389.83 L143.1,388.92 L143.6,388.47 L144.1,387.66 L144.6,387.23 L145.1,387.02 L145.6,385.90 L146.1,385.59 L146.6,385.29 L147.1,385.01 L147.6,386.05 L148.1,386.48 L148.6,387.82 L149.1,388.67 L149.6,389.34 L150.1,389.82 L150.6,390.54 L151.1,391.47 L151.6,392.20 L152.1,393.16 L152.6,394.19 L153.1,395.07 L153.6,395.73 L154.1,396.61 L154.6,397.23 L155.1,398.07 L155.6,398.60 L156.1,399.74 L156.6,400.24 L157.1,400.54 L157.6,401.14 L158.1,401.12 L158.6,401.21 L159.1,401.61 L159.6,401.74 L160.1,401.84 L160.6,401.93 L161.1,402.00 L161.6,402.07 L162.1,402.14 L162.6,402.22 L163.1,402.29 L163.6,402.35 L164.1,402.41 L164.6,402.46 L165.1,402.50 L165.6,402.50 L166.1,402.50 L166.6,402.50 L167.1,402.50 L167.6,402.50 L168.1,402.50 L168.6,402.50 L169.1,402.50 L169.6,402.50 L170.1,402.50 L170.6,402.50 L171.1,402.50 L171.6,402.50 L172.1,402.50 L172.6,402.50 L173.1,402.50 L173.6,402.50 L174.1,402.50 L174.6,402.50 L175.1,402.50 L175.6,402.50 L176.1,402.50 L176.6,402.50 L177.1,402.50 L177.6,402.50 L178.1,402.50 L178.6,402.50 L179.1,402.50 L179.6,402.50 L180.1,402.50 L180.6,402.50 L181.1,402.50 L181.6,402.50 L182.1,402.50 L182.6,402.50 L183.1,402.50 L183.6,402.50 L183.6,402.5 L116.6,402.5Z" fill="#8c95c1"/>
<path d="M116.6,402.50 L117.1,402.50 L117.6,402.50 L118.1,402.50 L118.6,402.50 L119.1,402.50 L119.6,402.50 L120.1,402.50 L120.6,402.50 L121.1,402.50 L121.6,402.50 L122.1,402.50 L122.6,402.50 L123.1,402.50 L123.6,402.50 L124.1,402.50 L124.6,402.50 L125.1,402.50 L125.6,402.50 L126.1,402.50 L126.6,402.50 L127.1,402.50 L127.6,402.50 L128.1,402.50 L128.6,402.50 L129.1,402.50 L129.6,402.50 L130.1,402.50 L130.6,402.50 L131.1,402.50 L131.6,402.48 L132.1,402.42 L132.6,402.36 L133.1,402.30 L133.6,402.23 L134.1,402.15 L134.6,402.05 L135.1,401.91 L135.6,401.75 L136.1,401.63 L136.6,401.04 L137.1,400.47 L137.6,400.00 L138.1,399.41 L138.6,399.07 L139.1,398.59 L139.6,398.30 L140.1,397.83 L140.6,397.20 L141.1,396.34 L141.6,396.35 L142.1,395.46 L142.6,394.68 L143.1,393.87 L143.6,393.20 L144.1,391.88 L144.6,390.70 L145.1,389.93 L145.6,389.38 L146.1,388.03 L146.6,387.18 L147.1,386.77 L147.6,385.87 L148.1,385.62 L148.6,386.35 L149.1,388.06 L149.6,389.29 L150.1,389.84 L150.6,391.34 L151.1,392.52 L151.6,393.68 L152.1,394.24 L152.6,395.84 L153.1,397.08 L153.6,397.74 L154.1,398.95 L154.6,399.39 L155.1,400.74 L155.6,400.73 L156.1,401.62 L156.6,401.59 L157.1,401.77 L157.6,401.90 L158.1,402.01 L158.6,402.10 L159.1,402.19 L159.6,402.29 L160.1,402.38 L160.6,402.45 L161.1,402.50 L161.6,402.50 L162.1,402.50 L162.6,402.50 L163.1,402.50 L163.6,402.50 L164.1,402.50 L164.6,402.50 L165.1,402.50 L165.6,402.50 L166.1,402.50 L166.6,402.50 L167.1,402.50 L167.6,402.50 L168.1,402.50 L168.6,402.50 L169.1,402.50 L169.6,402.50 L170.1,402.50 L170.6,402.50 L171.1,402.50 L171.6,402.50 L172.1,402.50 L172.6,402.50 L173.1,402.50 L173.6,402.50 L174.1,402.50 L174.6,402.50 L175.1,402.50 L175.6,402.50 L176.1,402.50 L176.6,402.50 L177.1,402.50 L177.6,402.50 L178.1,402.50 L178.6,402.50 L179.1,402.50 L179.6,402.50 L180.1,402.50 L180.6,402.50 L181.1,402.50 L181.6,402.50 L182.1,402.50 L182.6,402.50 L183.1,402.50 L183.6,402.50 L183.6,402.5 L116.6,402.5Z" fill="#5b6aa1"/>
<path d="M116.6,402.50 L117.1,402.50 L117.6,402.50 L118.1,402.50 L118.6,402.50 L119.1,402.50 L119.6,402.50 L120.1,402.50 L120.6,402.50 L121.1,402.50 L121.6,402.50 L122.1,402.50 L122.6,402.50 L123.1,402.50 L123.6,402.50 L124.1,402.49 L124.6,402.44 L125.1,402.39 L125.6,402.35 L126.1,402.30 L126.6,402.26 L127.1,402.20 L127.6,402.14 L128.1,402.07 L128.6,401.98 L129.1,401.88 L129.6,401.75 L130.1,401.59 L130.6,401.37 L131.1,401.34 L131.6,400.36 L132.1,399.95 L132.6,399.45 L133.1,399.34 L133.6,399.35 L134.1,399.13 L134.6,398.65 L135.1,397.79 L135.6,397.56 L136.1,397.18 L136.6,396.61 L137.1,396.15 L137.6,396.18 L138.1,395.68 L138.6,395.38 L139.1,394.42 L139.6,394.12 L140.1,393.42 L140.6,393.25 L141.1,392.45 L141.6,391.86 L142.1,390.86 L142.6,389.83 L143.1,388.92 L143.6,388.47 L144.1,387.66 L144.6,387.23 L145.1,387.02 L145.6,385.90 L146.1,385.59 L146.6,385.29 L147.1,385.01 L147.6,386.05 L148.1,386.48 L148.6,387.82 L149.1,388.67 L149.6,389.34 L150.1,389.82 L150.6,390.54 L151.1,391.47 L151.6,392.20 L152.1,393.16 L152.6,394.19 L153.1,395.07 L153.6,395.73 L154.1,396.61 L154.6,397.23 L155.1,398.07 L155.6,398.60 L156.1,399.74 L156.6,400.24 L157.1,400.54 L157.6,401.14 L158.1,401.12 L158.6,401.21 L159.1,401.61 L159.6,401.74 L160.1,401.84 L160.6,401.93 L161.1,402.00 L161.6,402.07 L162.1,402.14 L162.6,402.22 L163.1,402.29 L163.6,402.35 L164.1,402.41 L164.6,402.46 L165.1,402.50 L165.6,402.50 L166.1,402.50 L166.6,402.50 L167.1,402.50 L167.6,402.50 L168.1,402.50 L168.6,402.50 L169.1,402.50 L169.6,402.50 L170.1,402.50 L170.6,402.50 L171.1,402.50 L171.6,402.50 L172.1,402.50 L172.6,402.50 L173.1,402.50 L173.6,402.50 L174.1,402.50 L174.6,402.50 L175.1,402.50 L175.6,402.50 L176.1,402.50 L176.6,402.50 L177.1,402.50 L177.6,402.50 L178.1,402.50 L178.6,402.50 L179.1,402.50 L179.6,402.50 L180.1,402.50 L180.6,402.50 L181.1,402.50 L181.6,402.50 L182.1,402.50 L182.6,402.50 L183.1,402.50 L183.6,402.50" fill="none" stroke="#26427d" stroke-width="1.05" stroke-linejoin="round"/>
<path d="M116.6,416.06 L117.1,416.06 L117.6,416.06 L118.1,416.06 L118.6,416.06 L119.1,416.06 L119.6,416.06 L120.1,416.06 L120.6,416.06 L121.1,416.06 L121.6,416.06 L122.1,416.06 L122.6,416.06 L123.1,416.06 L123.6,416.06 L124.1,416.05 L124.6,416.02 L125.1,415.99 L125.6,415.95 L126.1,415.92 L126.6,415.89 L127.1,415.85 L127.6,415.81 L128.1,415.76 L128.6,415.71 L129.1,415.65 L129.6,415.59 L130.1,415.51 L130.6,415.41 L131.1,415.29 L131.6,415.15 L132.1,415.20 L132.6,414.53 L133.1,414.62 L133.6,414.50 L134.1,414.19 L134.6,414.09 L135.1,414.13 L135.6,413.81 L136.1,413.67 L136.6,412.90 L137.1,413.23 L137.6,412.29 L138.1,412.52 L138.6,411.85 L139.1,411.50 L139.6,411.39 L140.1,410.66 L140.6,409.98 L141.1,408.96 L141.6,407.32 L142.1,405.21 L142.6,404.17 L143.1,403.50 L143.6,402.32 L144.1,401.40 L144.6,400.63 L145.1,400.19 L145.6,399.17 L146.1,398.42 L146.6,397.75 L147.1,397.44 L147.6,396.67 L148.1,396.19 L148.6,396.06 L149.1,397.08 L149.6,397.90 L150.1,398.77 L150.6,400.17 L151.1,400.94 L151.6,401.92 L152.1,403.46 L152.6,404.23 L153.1,404.84 L153.6,405.14 L154.1,405.85 L154.6,405.44 L155.1,405.65 L155.6,405.91 L156.1,406.20 L156.6,406.34 L157.1,406.36 L157.6,406.74 L158.1,407.21 L158.6,408.31 L159.1,408.90 L159.6,409.47 L160.1,410.75 L160.6,411.53 L161.1,412.24 L161.6,413.33 L162.1,414.01 L162.6,414.49 L163.1,415.00 L163.6,415.10 L164.1,415.42 L164.6,415.63 L165.1,415.77 L165.6,415.87 L166.1,415.94 L166.6,416.00 L167.1,416.06 L167.6,416.06 L168.1,416.06 L168.6,416.06 L169.1,416.06 L169.6,416.06 L170.1,416.06 L170.6,416.06 L171.1,416.06 L171.6,416.06 L172.1,416.06 L172.6,416.06 L173.1,416.06 L173.6,416.06 L174.1,416.06 L174.6,416.06 L175.1,416.06 L175.6,416.06 L176.1,416.06 L176.6,416.06 L177.1,416.06 L177.6,416.06 L178.1,416.06 L178.6,416.06 L179.1,416.06 L179.6,416.06 L180.1,416.06 L180.6,416.06 L181.1,416.06 L181.6,416.06 L182.1,416.06 L182.6,416.06 L183.1,416.06 L183.6,416.06 L183.6,416.1 L116.6,416.1Z" fill="#2f4b86"/>
<path d="M116.6,416.06 L117.1,416.06 L117.6,416.06 L118.1,416.06 L118.6,416.06 L119.1,416.06 L119.6,416.06 L120.1,416.06 L120.6,416.06 L121.1,416.06 L121.6,416.06 L122.1,416.06 L122.6,416.06 L123.1,416.06 L123.6,416.06 L124.1,416.05 L124.6,416.02 L125.1,415.99 L125.6,415.95 L126.1,415.92 L126.6,415.89 L127.1,415.85 L127.6,415.81 L128.1,415.76 L128.6,415.71 L129.1,415.65 L129.6,415.59 L130.1,415.51 L130.6,415.41 L131.1,415.29 L131.6,415.15 L132.1,415.20 L132.6,414.53 L133.1,414.62 L133.6,414.50 L134.1,414.19 L134.6,414.09 L135.1,414.13 L135.6,413.81 L136.1,413.67 L136.6,412.90 L137.1,413.23 L137.6,412.29 L138.1,412.52 L138.6,411.85 L139.1,411.50 L139.6,411.39 L140.1,410.66 L140.6,409.98 L141.1,408.96 L141.6,407.32 L142.1,405.21 L142.6,404.17 L143.1,403.50 L143.6,402.32 L144.1,401.40 L144.6,400.63 L145.1,400.19 L145.6,399.17 L146.1,398.42 L146.6,397.75 L147.1,397.44 L147.6,396.67 L148.1,396.19 L148.6,396.06 L149.1,397.08 L149.6,397.90 L150.1,398.77 L150.6,400.17 L151.1,400.94 L151.6,401.92 L152.1,403.46 L152.6,404.23 L153.1,404.84 L153.6,405.14 L154.1,405.85 L154.6,405.44 L155.1,405.65 L155.6,405.91 L156.1,406.20 L156.6,406.34 L157.1,406.36 L157.6,406.74 L158.1,407.21 L158.6,408.31 L159.1,408.90 L159.6,409.47 L160.1,410.75 L160.6,411.53 L161.1,412.24 L161.6,413.33 L162.1,414.01 L162.6,414.49 L163.1,415.00 L163.6,415.10 L164.1,415.42 L164.6,415.63 L165.1,415.77 L165.6,415.87 L166.1,415.94 L166.6,416.00 L167.1,416.06 L167.6,416.06 L168.1,416.06 L168.6,416.06 L169.1,416.06 L169.6,416.06 L170.1,416.06 L170.6,416.06 L171.1,416.06 L171.6,416.06 L172.1,416.06 L172.6,416.06 L173.1,416.06 L173.6,416.06 L174.1,416.06 L174.6,416.06 L175.1,416.06 L175.6,416.06 L176.1,416.06 L176.6,416.06 L177.1,416.06 L177.6,416.06 L178.1,416.06 L178.6,416.06 L179.1,416.06 L179.6,416.06 L180.1,416.06 L180.6,416.06 L181.1,416.06 L181.6,416.06 L182.1,416.06 L182.6,416.06 L183.1,416.06 L183.6,416.06" fill="none" stroke="#26427d" stroke-width="1.05" stroke-linejoin="round"/>
</g>
<line x1="144.8" y1="234.6" x2="144.8" y2="416.6" stroke="#111" stroke-width="1.0" stroke-dasharray="2.4,1.5"/>
<path d="M117.5,416.6 L117.5,234.6 L181.89999999999998,234.6 L181.89999999999998,416.6" fill="none" stroke="#000" stroke-width="1.3"/>
<line x1="116.89999999999999" y1="416.8" x2="182.5" y2="416.8" stroke="#000" stroke-width="1.4" />
<line x1="125.8" y1="416.6" x2="125.8" y2="420.2" stroke="#222" stroke-width="0.8" />
<text x="125.7" y="428.4" font-size="5.7" text-anchor="middle" fill="#222" stroke="#222" stroke-width="0.2">10<tspan font-size="3.8" dy="-2.6">1</tspan></text>
<line x1="142.7" y1="416.6" x2="142.7" y2="420.2" stroke="#222" stroke-width="0.8" />
<text x="142.6" y="428.4" font-size="5.7" text-anchor="middle" fill="#222" stroke="#222" stroke-width="0.2">10<tspan font-size="3.8" dy="-2.6">2</tspan></text>
<line x1="159.6" y1="416.6" x2="159.6" y2="420.2" stroke="#222" stroke-width="0.8" />
<text x="159.5" y="428.4" font-size="5.7" text-anchor="middle" fill="#222" stroke="#222" stroke-width="0.2">10<tspan font-size="3.8" dy="-2.6">3</tspan></text>
<line x1="176.5" y1="416.6" x2="176.5" y2="420.2" stroke="#222" stroke-width="0.8" />
<text x="176.4" y="428.4" font-size="5.7" text-anchor="middle" fill="#222" stroke="#222" stroke-width="0.2">10<tspan font-size="3.8" dy="-2.6">4</tspan></text>
<line x1="119.07481385344256" y1="416.6" x2="119.07481385344256" y2="418.9" stroke="#333" stroke-width="0.55" />
<line x1="120.71259307327873" y1="416.6" x2="120.71259307327873" y2="418.9" stroke="#333" stroke-width="0.55" />
<line x1="122.05075613148358" y1="416.6" x2="122.05075613148358" y2="418.9" stroke="#333" stroke-width="0.55" />
<line x1="123.18215687624094" y1="416.6" x2="123.18215687624094" y2="418.9" stroke="#333" stroke-width="0.55" />
<line x1="124.16222078016385" y1="416.6" x2="124.16222078016385" y2="418.9" stroke="#333" stroke-width="0.55" />
<line x1="125.0266984095246" y1="416.6" x2="125.0266984095246" y2="418.9" stroke="#333" stroke-width="0.55" />
<line x1="130.88740692672127" y1="416.6" x2="130.88740692672127" y2="418.9" stroke="#333" stroke-width="0.55" />
<line x1="133.8633492047623" y1="416.6" x2="133.8633492047623" y2="418.9" stroke="#333" stroke-width="0.55" />
<line x1="135.97481385344256" y1="416.6" x2="135.97481385344256" y2="418.9" stroke="#333" stroke-width="0.55" />
<line x1="137.6125930732787" y1="416.6" x2="137.6125930732787" y2="418.9" stroke="#333" stroke-width="0.55" />
<line x1="138.95075613148356" y1="416.6" x2="138.95075613148356" y2="418.9" stroke="#333" stroke-width="0.55" />
<line x1="140.08215687624093" y1="416.6" x2="140.08215687624093" y2="418.9" stroke="#333" stroke-width="0.55" />
<line x1="141.06222078016384" y1="416.6" x2="141.06222078016384" y2="418.9" stroke="#333" stroke-width="0.55" />
<line x1="141.9266984095246" y1="416.6" x2="141.9266984095246" y2="418.9" stroke="#333" stroke-width="0.55" />
<line x1="147.78740692672127" y1="416.6" x2="147.78740692672127" y2="418.9" stroke="#333" stroke-width="0.55" />
<line x1="150.76334920476228" y1="416.6" x2="150.76334920476228" y2="418.9" stroke="#333" stroke-width="0.55" />
<line x1="152.87481385344256" y1="416.6" x2="152.87481385344256" y2="418.9" stroke="#333" stroke-width="0.55" />
<line x1="154.5125930732787" y1="416.6" x2="154.5125930732787" y2="418.9" stroke="#333" stroke-width="0.55" />
<line x1="155.85075613148356" y1="416.6" x2="155.85075613148356" y2="418.9" stroke="#333" stroke-width="0.55" />
<line x1="156.98215687624094" y1="416.6" x2="156.98215687624094" y2="418.9" stroke="#333" stroke-width="0.55" />
<line x1="157.96222078016382" y1="416.6" x2="157.96222078016382" y2="418.9" stroke="#333" stroke-width="0.55" />
<line x1="158.82669840952457" y1="416.6" x2="158.82669840952457" y2="418.9" stroke="#333" stroke-width="0.55" />
<line x1="164.68740692672128" y1="416.6" x2="164.68740692672128" y2="418.9" stroke="#333" stroke-width="0.55" />
<line x1="167.66334920476228" y1="416.6" x2="167.66334920476228" y2="418.9" stroke="#333" stroke-width="0.55" />
<line x1="169.77481385344257" y1="416.6" x2="169.77481385344257" y2="418.9" stroke="#333" stroke-width="0.55" />
<line x1="171.4125930732787" y1="416.6" x2="171.4125930732787" y2="418.9" stroke="#333" stroke-width="0.55" />
<line x1="172.75075613148357" y1="416.6" x2="172.75075613148357" y2="418.9" stroke="#333" stroke-width="0.55" />
<line x1="173.88215687624094" y1="416.6" x2="173.88215687624094" y2="418.9" stroke="#333" stroke-width="0.55" />
<line x1="174.86222078016385" y1="416.6" x2="174.86222078016385" y2="418.9" stroke="#333" stroke-width="0.55" />
<line x1="175.72669840952457" y1="416.6" x2="175.72669840952457" y2="418.9" stroke="#333" stroke-width="0.55" />
<line x1="181.5874069267213" y1="416.6" x2="181.5874069267213" y2="418.9" stroke="#333" stroke-width="0.55" />
<text x="76.6" y="229.2" font-size="8.4" text-anchor="middle" fill="#111" stroke="#111" stroke-width="0.2" font-weight="normal" font-style="normal" >pERK</text>
<text x="149.6" y="229.6" font-size="8.4" text-anchor="middle" fill="#111" stroke="#111" stroke-width="0.2" font-weight="normal" font-style="normal" >pS6</text>
<text x="34.8" y="240.6" font-size="6.6" text-anchor="end" fill="#111" stroke="#111" stroke-width="0.2" font-weight="normal" font-style="normal" >SCF</text>
<text x="35.1" y="248.2" font-size="6.6" text-anchor="end" fill="#111" stroke="#111" stroke-width="0.2" font-weight="normal" font-style="normal" >(ng/ml)</text>
<text x="35.4" y="267.7" font-size="6.2" text-anchor="end" fill="#111" stroke="#111" stroke-width="0.2" font-weight="normal" font-style="normal" >0</text>
<text x="35.4" y="281.26" font-size="6.2" text-anchor="end" fill="#111" stroke="#111" stroke-width="0.2" font-weight="normal" font-style="normal" >1</text>
<text x="35.4" y="294.82" font-size="6.2" text-anchor="end" fill="#111" stroke="#111" stroke-width="0.2" font-weight="normal" font-style="normal" >10</text>
<text x="35.4" y="308.38" font-size="6.2" text-anchor="end" fill="#111" stroke="#111" stroke-width="0.2" font-weight="normal" font-style="normal" >100</text>
<line x1="20.7" y1="262.9" x2="20.7" y2="307.78" stroke="#111" stroke-width="1" />
<text transform="translate(15.8,295.2) rotate(-90)" font-size="6.4" font-style="italic" fill="#222" stroke="#222" stroke-width="0.2">Nras<tspan font-size="4.4" dy="-2.8" font-style="normal">WT</tspan></text>
<text x="35.4" y="321.94" font-size="6.2" text-anchor="end" fill="#111" stroke="#111" stroke-width="0.2" font-weight="normal" font-style="normal" >0</text>
<text x="35.4" y="335.5" font-size="6.2" text-anchor="end" fill="#111" stroke="#111" stroke-width="0.2" font-weight="normal" font-style="normal" >1</text>
<text x="35.4" y="349.06" font-size="6.2" text-anchor="end" fill="#111" stroke="#111" stroke-width="0.2" font-weight="normal" font-style="normal" >10</text>
<text x="35.4" y="362.62" font-size="6.2" text-anchor="end" fill="#111" stroke="#111" stroke-width="0.2" font-weight="normal" font-style="normal" >100</text>
<line x1="20.7" y1="317.14" x2="20.7" y2="362.02" stroke="#111" stroke-width="1" />
<text transform="translate(15.8,351.1) rotate(-90)" font-size="6.4" font-style="italic" fill="#222" stroke="#222" stroke-width="0.2">Nras<tspan font-size="4.4" dy="-2.8" font-style="normal">G12D</tspan></text>
<text x="35.4" y="376.18" font-size="6.2" text-anchor="end" fill="#111" stroke="#111" stroke-width="0.2" font-weight="normal" font-style="normal" >0</text>
<text x="35.4" y="389.74" font-size="6.2" text-anchor="end" fill="#111" stroke="#111" stroke-width="0.2" font-weight="normal" font-style="normal" >1</text>
<text x="35.4" y="403.3" font-size="6.2" text-anchor="end" fill="#111" stroke="#111" stroke-width="0.2" font-weight="normal" font-style="normal" >10</text>
<text x="35.4" y="416.85999999999996" font-size="6.2" text-anchor="end" fill="#111" stroke="#111" stroke-width="0.2" font-weight="normal" font-style="normal" >100</text>
<line x1="20.7" y1="371.38" x2="20.7" y2="416.25999999999993" stroke="#111" stroke-width="1" />
<text transform="translate(15.8,411.4) rotate(-90)" font-size="6.4" font-style="italic" fill="#222" stroke="#222" stroke-width="0.2">Nras<tspan font-size="4.4" dy="-2.8" font-style="normal">G12D,C181S</tspan></text>
<line x1="220.3" y1="237.0" x2="220.3" y2="310.90000000000003" stroke="#111" stroke-width="1.2" />
<line x1="216.9" y1="310.5" x2="376.8" y2="310.5" stroke="#111" stroke-width="1.3" />
<line x1="218.3" y1="310.3" x2="220.3" y2="310.3" stroke="#111" stroke-width="0.9" />
<text x="213.70000000000002" y="312.6" font-size="6.6" text-anchor="end" fill="#222" stroke="#222" stroke-width="0.2" font-weight="normal" font-style="normal" >0</text>
<line x1="218.3" y1="292.1" x2="220.3" y2="292.1" stroke="#111" stroke-width="0.9" />
<text x="213.70000000000002" y="294.40000000000003" font-size="6.6" text-anchor="end" fill="#222" stroke="#222" stroke-width="0.2" font-weight="normal" font-style="normal" >1</text>
<line x1="218.3" y1="273.90000000000003" x2="220.3" y2="273.90000000000003" stroke="#111" stroke-width="0.9" />
<text x="213.70000000000002" y="276.20000000000005" font-size="6.6" text-anchor="end" fill="#222" stroke="#222" stroke-width="0.2" font-weight="normal" font-style="normal" >2</text>
<line x1="218.3" y1="255.70000000000002" x2="220.3" y2="255.70000000000002" stroke="#111" stroke-width="0.9" />
<text x="213.70000000000002" y="258.0" font-size="6.6" text-anchor="end" fill="#222" stroke="#222" stroke-width="0.2" font-weight="normal" font-style="normal" >3</text>
<line x1="218.3" y1="237.5" x2="220.3" y2="237.5" stroke="#111" stroke-width="0.9" />
<text x="213.70000000000002" y="239.8" font-size="6.6" text-anchor="end" fill="#222" stroke="#222" stroke-width="0.2" font-weight="normal" font-style="normal" >4</text>
<line x1="231.20000000000002" y1="310.3" x2="231.20000000000002" y2="313.5" stroke="#111" stroke-width="1.0" />
<rect x="225.8" y="292.1" width="11.0" height="18.2" fill="#c8c9d2" stroke="none" stroke-width="1" />
<line x1="242.4" y1="310.3" x2="242.4" y2="313.5" stroke="#111" stroke-width="1.0" />
<rect x="237" y="291.19" width="11.0" height="19.11" fill="#9d9fae" stroke="none" stroke-width="1" />
<line x1="242.4" y1="291.19" x2="242.4" y2="286.64" stroke="#8a8d9d" stroke-width="1" />
<line x1="239.8" y1="286.64" x2="245.0" y2="286.64" stroke="#8a8d9d" stroke-width="1.1" />
<line x1="253.4" y1="310.3" x2="253.4" y2="313.5" stroke="#111" stroke-width="1.0" />
<rect x="248" y="288.46000000000004" width="11.0" height="21.84" fill="#6d7184" stroke="none" stroke-width="1" />
<line x1="253.4" y1="288.46000000000004" x2="253.4" y2="283.0" stroke="#6c7083" stroke-width="1" />
<line x1="250.8" y1="283.0" x2="256.0" y2="283.0" stroke="#6c7083" stroke-width="1.1" />
<line x1="264.7" y1="310.3" x2="264.7" y2="313.5" stroke="#111" stroke-width="1.0" />
<rect x="259.3" y="282.09000000000003" width="11.0" height="28.21" fill="#4a4f64" stroke="none" stroke-width="1" />
<line x1="264.7" y1="282.09000000000003" x2="264.7" y2="275.72" stroke="#4a4f63" stroke-width="1" />
<line x1="262.09999999999997" y1="275.72" x2="267.3" y2="275.72" stroke="#4a4f63" stroke-width="1.1" />
<line x1="281.4" y1="310.3" x2="281.4" y2="313.5" stroke="#111" stroke-width="1.0" />
<rect x="276" y="286.64" width="11.0" height="23.66" fill="#f8e3c2" stroke="none" stroke-width="1" />
<line x1="281.4" y1="286.64" x2="281.4" y2="282.636" stroke="#e6a040" stroke-width="1" />
<line x1="278.79999999999995" y1="282.636" x2="284.0" y2="282.636" stroke="#e6a040" stroke-width="1.1" />
<line x1="292.29999999999995" y1="310.3" x2="292.29999999999995" y2="313.5" stroke="#111" stroke-width="1.0" />
<rect x="286.9" y="283.546" width="11.0" height="26.753999999999998" fill="#f1ca8c" stroke="none" stroke-width="1" />
<line x1="292.29999999999995" y1="283.546" x2="292.29999999999995" y2="277.176" stroke="#e6a040" stroke-width="1" />
<line x1="289.69999999999993" y1="277.176" x2="294.9" y2="277.176" stroke="#e6a040" stroke-width="1.1" />
<line x1="303.7" y1="310.3" x2="303.7" y2="313.5" stroke="#111" stroke-width="1.0" />
<rect x="298.3" y="275.17400000000004" width="11.0" height="35.126" fill="#e6aa52" stroke="none" stroke-width="1" />
<line x1="303.7" y1="275.17400000000004" x2="303.7" y2="264.254" stroke="#e6a040" stroke-width="1" />
<line x1="301.09999999999997" y1="264.254" x2="306.3" y2="264.254" stroke="#e6a040" stroke-width="1.1" />
<line x1="315.0" y1="310.3" x2="315.0" y2="313.5" stroke="#111" stroke-width="1.0" />
<rect x="309.6" y="262.07" width="11.0" height="48.23" fill="#de8c1c" stroke="none" stroke-width="1" />
<line x1="315.0" y1="262.07" x2="315.0" y2="252.97000000000003" stroke="#e6a040" stroke-width="1" />
<line x1="312.4" y1="252.97000000000003" x2="317.6" y2="252.97000000000003" stroke="#e6a040" stroke-width="1.1" />
<line x1="331.79999999999995" y1="310.3" x2="331.79999999999995" y2="313.5" stroke="#111" stroke-width="1.0" />
<line x1="329.19999999999993" y1="292.1" x2="334.4" y2="292.1" stroke="#31508e" stroke-width="1.2" />
<line x1="342.79999999999995" y1="310.3" x2="342.79999999999995" y2="313.5" stroke="#111" stroke-width="1.0" />
<rect x="337.4" y="292.28200000000004" width="11.0" height="18.018" fill="#8e95bd" stroke="none" stroke-width="1" />
<line x1="342.79999999999995" y1="292.28200000000004" x2="342.79999999999995" y2="288.642" stroke="#6e79ab" stroke-width="1" />
<line x1="340.19999999999993" y1="288.642" x2="345.4" y2="288.642" stroke="#6e79ab" stroke-width="1.1" />
<line x1="354.0" y1="310.3" x2="354.0" y2="313.5" stroke="#111" stroke-width="1.0" />
<rect x="348.6" y="289.37" width="11.0" height="20.929999999999996" fill="#5f6b9e" stroke="none" stroke-width="1" />
<line x1="354.0" y1="289.37" x2="354.0" y2="285.548" stroke="#5b6aa1" stroke-width="1" />
<line x1="351.4" y1="285.548" x2="356.6" y2="285.548" stroke="#5b6aa1" stroke-width="1.1" />
<line x1="365.29999999999995" y1="310.3" x2="365.29999999999995" y2="313.5" stroke="#111" stroke-width="1.0" />
<rect x="359.9" y="280.634" width="11.0" height="29.665999999999997" fill="#2d4a84" stroke="none" stroke-width="1" />
<line x1="365.29999999999995" y1="280.634" x2="365.29999999999995" y2="278.26800000000003" stroke="#2f4b86" stroke-width="1" />
<line x1="362.69999999999993" y1="278.26800000000003" x2="367.9" y2="278.26800000000003" stroke="#2f4b86" stroke-width="1.1" />
<line x1="220.3" y1="292.1" x2="376.8" y2="292.1" stroke="#111" stroke-width="0.9" stroke-dasharray="3,1.8"/>
<text x="298.8" y="229.8" font-size="8.4" text-anchor="middle" fill="#111" stroke="#111" stroke-width="0.2" font-weight="normal" font-style="normal" >pERK</text>
<path d="M264.8,273 L264.8,242 L314.3,242 L314.3,249" fill="none" stroke="#222" stroke-width="0.9"/>
<path d="M282,274.4 L291.7,274.4 M286.8,274.4 L286.8,247.4 L313.2,247.4 L313.2,251" fill="none" stroke="#222" stroke-width="0.9"/>
<path d="M317,249 L317,242 L365.6,242 L365.6,276" fill="none" stroke="#222" stroke-width="0.9"/>
<text x="289" y="243.2" font-size="7.4" text-anchor="middle" fill="#222" stroke="#222"  font-weight="normal" font-style="normal" stroke-width="0">**</text>
<text x="300.2" y="248.4" font-size="7.4" text-anchor="middle" fill="#222" stroke="#222"  font-weight="normal" font-style="normal" stroke-width="0">**</text>
<text x="341.4" y="243.2" font-size="7.4" text-anchor="middle" fill="#222" stroke="#222"  font-weight="normal" font-style="normal" stroke-width="0">*</text>
<text x="231.20000000000002" y="322.3" font-size="6.6" text-anchor="middle" fill="#222" stroke="#222" stroke-width="0.2" font-weight="normal" font-style="normal" >0</text>
<text x="242.4" y="322.3" font-size="6.6" text-anchor="middle" fill="#222" stroke="#222" stroke-width="0.2" font-weight="normal" font-style="normal" >1</text>
<text x="253.4" y="322.3" font-size="6.6" text-anchor="middle" fill="#222" stroke="#222" stroke-width="0.2" font-weight="normal" font-style="normal" >10</text>
<text x="264.7" y="322.3" font-size="6.6" text-anchor="middle" fill="#222" stroke="#222" stroke-width="0.2" font-weight="normal" font-style="normal" >100</text>
<text x="281.4" y="322.3" font-size="6.6" text-anchor="middle" fill="#222" stroke="#222" stroke-width="0.2" font-weight="normal" font-style="normal" >0</text>
<text x="292.29999999999995" y="322.3" font-size="6.6" text-anchor="middle" fill="#222" stroke="#222" stroke-width="0.2" font-weight="normal" font-style="normal" >1</text>
<text x="303.7" y="322.3" font-size="6.6" text-anchor="middle" fill="#222" stroke="#222" stroke-width="0.2" font-weight="normal" font-style="normal" >10</text>
<text x="315.0" y="322.3" font-size="6.6" text-anchor="middle" fill="#222" stroke="#222" stroke-width="0.2" font-weight="normal" font-style="normal" >100</text>
<text x="331.79999999999995" y="322.3" font-size="6.6" text-anchor="middle" fill="#222" stroke="#222" stroke-width="0.2" font-weight="normal" font-style="normal" >0</text>
<text x="342.79999999999995" y="322.3" font-size="6.6" text-anchor="middle" fill="#222" stroke="#222" stroke-width="0.2" font-weight="normal" font-style="normal" >1</text>
<text x="354.0" y="322.3" font-size="6.6" text-anchor="middle" fill="#222" stroke="#222" stroke-width="0.2" font-weight="normal" font-style="normal" >10</text>
<text x="365.29999999999995" y="322.3" font-size="6.6" text-anchor="middle" fill="#222" stroke="#222" stroke-width="0.2" font-weight="normal" font-style="normal" >100</text>
<text x="215.4" y="322.3" font-size="6.8" text-anchor="middle" fill="#222" stroke="#222" stroke-width="0.2" font-weight="normal" font-style="normal" >SCF</text>
<text transform="translate(205.4,273.3) rotate(-90)" font-size="7.5" text-anchor="middle" fill="#222" textLength="52.6" lengthAdjust="spacingAndGlyphs" stroke="#222" stroke-width="0.2">MFI (fold change)</text>
<text x="215.6" y="329.4" font-size="6.6" text-anchor="middle" fill="#222" stroke="#222" stroke-width="0.2" font-weight="normal" font-style="normal" >(ng/ml)</text>
<text x="217.3" y="448" font-size="6.6" text-anchor="middle" fill="#222" stroke="#222" stroke-width="0.2" font-weight="normal" font-style="normal" >(ng/ml)</text>
<line x1="220.3" y1="356.0" x2="220.3" y2="429.1" stroke="#111" stroke-width="1.2" />
<line x1="216.9" y1="428.7" x2="376.8" y2="428.7" stroke="#111" stroke-width="1.3" />
<line x1="218.3" y1="428.5" x2="220.3" y2="428.5" stroke="#111" stroke-width="0.9" />
<text x="213.70000000000002" y="430.8" font-size="6.6" text-anchor="end" fill="#222" stroke="#222" stroke-width="0.2" font-weight="normal" font-style="normal" >0</text>
<line x1="218.3" y1="410.5" x2="220.3" y2="410.5" stroke="#111" stroke-width="0.9" />
<text x="213.70000000000002" y="412.8" font-size="6.6" text-anchor="end" fill="#222" stroke="#222" stroke-width="0.2" font-weight="normal" font-style="normal" >1</text>
<line x1="218.3" y1="392.5" x2="220.3" y2="392.5" stroke="#111" stroke-width="0.9" />
<text x="213.70000000000002" y="394.8" font-size="6.6" text-anchor="end" fill="#222" stroke="#222" stroke-width="0.2" font-weight="normal" font-style="normal" >2</text>
<line x1="218.3" y1="374.5" x2="220.3" y2="374.5" stroke="#111" stroke-width="0.9" />
<text x="213.70000000000002" y="376.8" font-size="6.6" text-anchor="end" fill="#222" stroke="#222" stroke-width="0.2" font-weight="normal" font-style="normal" >3</text>
<line x1="218.3" y1="356.5" x2="220.3" y2="356.5" stroke="#111" stroke-width="0.9" />
<text x="213.70000000000002" y="358.8" font-size="6.6" text-anchor="end" fill="#222" stroke="#222" stroke-width="0.2" font-weight="normal" font-style="normal" >4</text>
<line x1="231.20000000000002" y1="428.5" x2="231.20000000000002" y2="431.7" stroke="#111" stroke-width="1.0" />
<rect x="225.8" y="410.5" width="11.0" height="18.0" fill="#c8c9d2" stroke="none" stroke-width="1" />
<line x1="242.4" y1="428.5" x2="242.4" y2="431.7" stroke="#111" stroke-width="1.0" />
<rect x="237" y="410.14" width="11.0" height="18.36" fill="#9d9fae" stroke="none" stroke-width="1" />
<line x1="253.4" y1="428.5" x2="253.4" y2="431.7" stroke="#111" stroke-width="1.0" />
<rect x="248" y="403.66" width="11.0" height="24.839999999999996" fill="#6d7184" stroke="none" stroke-width="1" />
<line x1="253.4" y1="403.66" x2="253.4" y2="398.8" stroke="#6c7083" stroke-width="1" />
<line x1="250.8" y1="398.8" x2="256.0" y2="398.8" stroke="#6c7083" stroke-width="1.1" />
<line x1="264.7" y1="428.5" x2="264.7" y2="431.7" stroke="#111" stroke-width="1.0" />
<rect x="259.3" y="386.2" width="11.0" height="42.300000000000004" fill="#4a4f64" stroke="none" stroke-width="1" />
<line x1="264.7" y1="386.2" x2="264.7" y2="379.0" stroke="#4a4f63" stroke-width="1" />
<line x1="262.09999999999997" y1="379.0" x2="267.3" y2="379.0" stroke="#4a4f63" stroke-width="1.1" />
<line x1="281.4" y1="428.5" x2="281.4" y2="431.7" stroke="#111" stroke-width="1.0" />
<rect x="276" y="407.62" width="11.0" height="20.88" fill="#f8e3c2" stroke="none" stroke-width="1" />
<line x1="281.4" y1="407.62" x2="281.4" y2="405.82" stroke="#e6a040" stroke-width="1" />
<line x1="278.79999999999995" y1="405.82" x2="284.0" y2="405.82" stroke="#e6a040" stroke-width="1.1" />
<line x1="292.29999999999995" y1="428.5" x2="292.29999999999995" y2="431.7" stroke="#111" stroke-width="1.0" />
<rect x="286.9" y="408.16" width="11.0" height="20.339999999999996" fill="#f1ca8c" stroke="none" stroke-width="1" />
<line x1="292.29999999999995" y1="408.16" x2="292.29999999999995" y2="406.9" stroke="#e6a040" stroke-width="1" />
<line x1="289.69999999999993" y1="406.9" x2="294.9" y2="406.9" stroke="#e6a040" stroke-width="1.1" />
<line x1="303.7" y1="428.5" x2="303.7" y2="431.7" stroke="#111" stroke-width="1.0" />
<rect x="298.3" y="405.1" width="11.0" height="23.400000000000002" fill="#e6aa52" stroke="none" stroke-width="1" />
<line x1="303.7" y1="405.1" x2="303.7" y2="403.3" stroke="#e6a040" stroke-width="1" />
<line x1="301.09999999999997" y1="403.3" x2="306.3" y2="403.3" stroke="#e6a040" stroke-width="1.1" />
<line x1="315.0" y1="428.5" x2="315.0" y2="431.7" stroke="#111" stroke-width="1.0" />
<rect x="309.6" y="394.3" width="11.0" height="34.199999999999996" fill="#de8c1c" stroke="none" stroke-width="1" />
<line x1="315.0" y1="394.3" x2="315.0" y2="390.34" stroke="#e6a040" stroke-width="1" />
<line x1="312.4" y1="390.34" x2="317.6" y2="390.34" stroke="#e6a040" stroke-width="1.1" />
<line x1="331.79999999999995" y1="428.5" x2="331.79999999999995" y2="431.7" stroke="#111" stroke-width="1.0" />
<rect x="326.4" y="410.5" width="11.0" height="18.0" fill="#c4c8e2" stroke="none" stroke-width="1" />
<line x1="342.79999999999995" y1="428.5" x2="342.79999999999995" y2="431.7" stroke="#111" stroke-width="1.0" />
<rect x="337.4" y="405.82" width="11.0" height="22.68" fill="#8e95bd" stroke="none" stroke-width="1" />
<line x1="342.79999999999995" y1="405.82" x2="342.79999999999995" y2="401.86" stroke="#6e79ab" stroke-width="1" />
<line x1="340.19999999999993" y1="401.86" x2="345.4" y2="401.86" stroke="#6e79ab" stroke-width="1.1" />
<line x1="354.0" y1="428.5" x2="354.0" y2="431.7" stroke="#111" stroke-width="1.0" />
<rect x="348.6" y="402.94" width="11.0" height="25.56" fill="#5f6b9e" stroke="none" stroke-width="1" />
<line x1="354.0" y1="402.94" x2="354.0" y2="397.18" stroke="#5b6aa1" stroke-width="1" />
<line x1="351.4" y1="397.18" x2="356.6" y2="397.18" stroke="#5b6aa1" stroke-width="1.1" />
<line x1="365.29999999999995" y1="428.5" x2="365.29999999999995" y2="431.7" stroke="#111" stroke-width="1.0" />
<rect x="359.9" y="389.26" width="11.0" height="39.24" fill="#2d4a84" stroke="none" stroke-width="1" />
<line x1="365.29999999999995" y1="389.26" x2="365.29999999999995" y2="381.7" stroke="#2f4b86" stroke-width="1" />
<line x1="362.69999999999993" y1="381.7" x2="367.9" y2="381.7" stroke="#2f4b86" stroke-width="1.1" />
<line x1="220.3" y1="410.5" x2="376.8" y2="410.5" stroke="#111" stroke-width="0.9" stroke-dasharray="3,1.8"/>
<text x="298.8" y="348.9" font-size="8.4" text-anchor="middle" fill="#111" stroke="#111" stroke-width="0.2" font-weight="normal" font-style="normal" >pS6</text>
<path d="M231.2,408.4 L231.2,362.2 L266.8,362.2 L266.8,376" fill="none" stroke="#222" stroke-width="0.9"/>
<path d="M254,397.5 L254,370.6 L263.6,370.6 L263.6,377" fill="none" stroke="#222" stroke-width="0.9"/>
<path d="M332,408.4 L332,366.5 L366,366.5 L366,380" fill="none" stroke="#222" stroke-width="0.9"/>
<path d="M354,396 L354,375 L363.5,375 L363.5,379" fill="none" stroke="#222" stroke-width="0.9"/>
<text x="248.4" y="363.0" font-size="7.4" text-anchor="middle" fill="#222" stroke="#222"  font-weight="normal" font-style="normal" stroke-width="0">***</text>
<text x="258.2" y="372.0" font-size="7.4" text-anchor="middle" fill="#222" stroke="#222"  font-weight="normal" font-style="normal" stroke-width="0">*</text>
<text x="348.8" y="367.6" font-size="7.4" text-anchor="middle" fill="#222" stroke="#222"  font-weight="normal" font-style="normal" stroke-width="0">**</text>
<text x="358.6" y="376.20000000000005" font-size="7.4" text-anchor="middle" fill="#222" stroke="#222"  font-weight="normal" font-style="normal" stroke-width="0">*</text>
<text x="231.20000000000002" y="440.5" font-size="6.6" text-anchor="middle" fill="#222" stroke="#222" stroke-width="0.2" font-weight="normal" font-style="normal" >0</text>
<text x="242.4" y="440.5" font-size="6.6" text-anchor="middle" fill="#222" stroke="#222" stroke-width="0.2" font-weight="normal" font-style="normal" >1</text>
<text x="253.4" y="440.5" font-size="6.6" text-anchor="middle" fill="#222" stroke="#222" stroke-width="0.2" font-weight="normal" font-style="normal" >10</text>
<text x="264.7" y="440.5" font-size="6.6" text-anchor="middle" fill="#222" stroke="#222" stroke-width="0.2" font-weight="normal" font-style="normal" >100</text>
<text x="281.4" y="440.5" font-size="6.6" text-anchor="middle" fill="#222" stroke="#222" stroke-width="0.2" font-weight="normal" font-style="normal" >0</text>
<text x="292.29999999999995" y="440.5" font-size="6.6" text-anchor="middle" fill="#222" stroke="#222" stroke-width="0.2" font-weight="normal" font-style="normal" >1</text>
<text x="303.7" y="440.5" font-size="6.6" text-anchor="middle" fill="#222" stroke="#222" stroke-width="0.2" font-weight="normal" font-style="normal" >10</text>
<text x="315.0" y="440.5" font-size="6.6" text-anchor="middle" fill="#222" stroke="#222" stroke-width="0.2" font-weight="normal" font-style="normal" >100</text>
<text x="331.79999999999995" y="440.5" font-size="6.6" text-anchor="middle" fill="#222" stroke="#222" stroke-width="0.2" font-weight="normal" font-style="normal" >0</text>
<text x="342.79999999999995" y="440.5" font-size="6.6" text-anchor="middle" fill="#222" stroke="#222" stroke-width="0.2" font-weight="normal" font-style="normal" >1</text>
<text x="354.0" y="440.5" font-size="6.6" text-anchor="middle" fill="#222" stroke="#222" stroke-width="0.2" font-weight="normal" font-style="normal" >10</text>
<text x="365.29999999999995" y="440.5" font-size="6.6" text-anchor="middle" fill="#222" stroke="#222" stroke-width="0.2" font-weight="normal" font-style="normal" >100</text>
<text x="216.9" y="440.5" font-size="6.8" text-anchor="middle" fill="#222" stroke="#222" stroke-width="0.2" font-weight="normal" font-style="normal" >SCF</text>
<text transform="translate(205.4,391.9) rotate(-90)" font-size="7.5" text-anchor="middle" fill="#222" textLength="52.6" lengthAdjust="spacingAndGlyphs" stroke="#222" stroke-width="0.2">MFI (fold change)</text>
<line x1="422.6" y1="238.2" x2="422.6" y2="325" stroke="#111" stroke-width="1.2" />
<line x1="420.40000000000003" y1="324.6" x2="422.6" y2="324.6" stroke="#111" stroke-width="1" />
<text x="417.6" y="326.90000000000003" font-size="6.4" text-anchor="end" fill="#222" stroke="#222" stroke-width="0.2" font-weight="normal" font-style="normal" >0</text>
<line x1="420.40000000000003" y1="296.4" x2="422.6" y2="296.4" stroke="#111" stroke-width="1" />
<text x="417.6" y="298.7" font-size="6.4" text-anchor="end" fill="#222" stroke="#222" stroke-width="0.2" font-weight="normal" font-style="normal" >500</text>
<line x1="420.40000000000003" y1="267.2" x2="422.6" y2="267.2" stroke="#111" stroke-width="1" />
<text x="417.6" y="269.5" font-size="6.4" text-anchor="end" fill="#222" stroke="#222" stroke-width="0.2" font-weight="normal" font-style="normal" >1000</text>
<line x1="420.40000000000003" y1="238.2" x2="422.6" y2="238.2" stroke="#111" stroke-width="1" />
<text x="417.6" y="240.5" font-size="6.4" text-anchor="end" fill="#222" stroke="#222" stroke-width="0.2" font-weight="normal" font-style="normal" >2000</text>
<line x1="422" y1="325" x2="431.3" y2="325" stroke="#111" stroke-width="1.2" />
<line x1="438.7" y1="325" x2="510" y2="325" stroke="#111" stroke-width="1.2" />
<line x1="423.3" y1="325" x2="423.3" y2="327.4" stroke="#111" stroke-width="0.9" />
<line x1="446.5" y1="325" x2="446.5" y2="327.4" stroke="#111" stroke-width="0.9" />
<line x1="462.4" y1="325" x2="462.4" y2="327.4" stroke="#111" stroke-width="0.9" />
<line x1="478.3" y1="325" x2="478.3" y2="327.4" stroke="#111" stroke-width="0.9" />
<line x1="493.7" y1="325" x2="493.7" y2="327.4" stroke="#111" stroke-width="0.9" />
<line x1="509.2" y1="325" x2="509.2" y2="327.4" stroke="#111" stroke-width="0.9" />
<line x1="431.3" y1="323.4" x2="431.3" y2="326.6" stroke="#111" stroke-width="0.9" />
<line x1="438.7" y1="323.4" x2="438.7" y2="326.6" stroke="#111" stroke-width="0.9" />
<text x="423.3" y="337" font-size="6.6" text-anchor="middle" fill="#222" stroke="#222" stroke-width="0.2" font-weight="normal" font-style="normal" >Med.</text>
<text x="446.5" y="337" font-size="6.6" text-anchor="middle" fill="#222" stroke="#222" stroke-width="0.2" font-weight="normal" font-style="normal" >-3</text>
<text x="462.4" y="337" font-size="6.6" text-anchor="middle" fill="#222" stroke="#222" stroke-width="0.2" font-weight="normal" font-style="normal" >-2</text>
<text x="478.3" y="337" font-size="6.6" text-anchor="middle" fill="#222" stroke="#222" stroke-width="0.2" font-weight="normal" font-style="normal" >-1</text>
<text x="493.7" y="337" font-size="6.6" text-anchor="middle" fill="#222" stroke="#222" stroke-width="0.2" font-weight="normal" font-style="normal" >0</text>
<text x="509.2" y="337" font-size="6.6" text-anchor="middle" fill="#222" stroke="#222" stroke-width="0.2" font-weight="normal" font-style="normal" >1</text>
<text x="468.4" y="349.2" font-size="8.2" text-anchor="middle" fill="#222" stroke="#222" stroke-width="0.2" font-weight="normal" font-style="normal" textLength="64.5" lengthAdjust="spacingAndGlyphs">log [GM-CSF] (ng/ml)</text>
<text x="462" y="229.7" font-size="8.8" text-anchor="middle" fill="#111" stroke="#111" stroke-width="0.2" font-weight="normal" font-style="normal" >Mac-1<tspan font-size="4.6" dy="-3">-</tspan><tspan dy="3"> c-Kit</tspan><tspan font-size="4.6" dy="-3">+</tspan></text>
<text transform="translate(397.4,280) rotate(-90)" font-size="7" text-anchor="middle" fill="#222" textLength="36" lengthAdjust="spacingAndGlyphs" stroke="#222" stroke-width="0.2">Cells (x10<tspan font-size="4.8" dy="-2.8">3</tspan><tspan dy="2.8">)</tspan></text>
<line x1="423.3" y1="319.5" x2="431.3" y2="319.5" stroke="#3a4258" stroke-width="1.6"/>
<line x1="438.7" y1="319.09999999999997" x2="446.5" y2="319.09999999999997" stroke="#3a4258" stroke-width="1.6"/>
<polyline points="446.5,319.09999999999997 462.4,318.7 478.3,315.5 493.7,310.5 509.2,303.5" fill="none" stroke="#3a4258" stroke-width="1.6"/>
<line x1="423.3" y1="317.0" x2="423.3" y2="322.0" stroke="#3a4258" stroke-width="0.9" />
<line x1="421.5" y1="317.0" x2="425.1" y2="317.0" stroke="#3a4258" stroke-width="0.9" />
<line x1="421.5" y1="322.0" x2="425.1" y2="322.0" stroke="#3a4258" stroke-width="0.9" />
<circle cx="423.3" cy="319.5" r="2" fill="#fff" stroke="#3a4258" stroke-width="1"/>
<line x1="446.5" y1="316.59999999999997" x2="446.5" y2="321.59999999999997" stroke="#3a4258" stroke-width="0.9" />
<line x1="444.7" y1="316.59999999999997" x2="448.3" y2="316.59999999999997" stroke="#3a4258" stroke-width="0.9" />
<line x1="444.7" y1="321.59999999999997" x2="448.3" y2="321.59999999999997" stroke="#3a4258" stroke-width="0.9" />
<circle cx="446.5" cy="319.09999999999997" r="2" fill="#fff" stroke="#3a4258" stroke-width="1"/>
<line x1="462.4" y1="315.7" x2="462.4" y2="321.7" stroke="#3a4258" stroke-width="0.9" />
<line x1="460.59999999999997" y1="315.7" x2="464.2" y2="315.7" stroke="#3a4258" stroke-width="0.9" />
<line x1="460.59999999999997" y1="321.7" x2="464.2" y2="321.7" stroke="#3a4258" stroke-width="0.9" />
<circle cx="462.4" cy="318.7" r="2" fill="#fff" stroke="#3a4258" stroke-width="1"/>
<line x1="478.3" y1="312.5" x2="478.3" y2="318.5" stroke="#3a4258" stroke-width="0.9" />
<line x1="476.5" y1="312.5" x2="480.1" y2="312.5" stroke="#3a4258" stroke-width="0.9" />
<line x1="476.5" y1="318.5" x2="480.1" y2="318.5" stroke="#3a4258" stroke-width="0.9" />
<circle cx="478.3" cy="315.5" r="2" fill="#fff" stroke="#3a4258" stroke-width="1"/>
<line x1="493.7" y1="306.5" x2="493.7" y2="314.5" stroke="#3a4258" stroke-width="0.9" />
<line x1="491.9" y1="306.5" x2="495.5" y2="306.5" stroke="#3a4258" stroke-width="0.9" />
<line x1="491.9" y1="314.5" x2="495.5" y2="314.5" stroke="#3a4258" stroke-width="0.9" />
<circle cx="493.7" cy="310.5" r="2" fill="#fff" stroke="#3a4258" stroke-width="1"/>
<line x1="509.2" y1="295.5" x2="509.2" y2="311.5" stroke="#3a4258" stroke-width="0.9" />
<line x1="507.4" y1="295.5" x2="511.0" y2="295.5" stroke="#3a4258" stroke-width="0.9" />
<line x1="507.4" y1="311.5" x2="511.0" y2="311.5" stroke="#3a4258" stroke-width="0.9" />
<circle cx="509.2" cy="303.5" r="2" fill="#fff" stroke="#3a4258" stroke-width="1"/>
<line x1="423.3" y1="318.2" x2="431.3" y2="318.2" stroke="#2a4783" stroke-width="1.6"/>
<line x1="438.7" y1="317.8" x2="446.5" y2="317.8" stroke="#2a4783" stroke-width="1.6"/>
<polyline points="446.5,317.8 462.4,317.6 478.3,314.8 493.7,310.6 509.2,301.7" fill="none" stroke="#2a4783" stroke-width="1.6"/>
<line x1="423.3" y1="315.7" x2="423.3" y2="320.7" stroke="#2a4783" stroke-width="0.9" />
<line x1="421.5" y1="315.7" x2="425.1" y2="315.7" stroke="#2a4783" stroke-width="0.9" />
<line x1="421.5" y1="320.7" x2="425.1" y2="320.7" stroke="#2a4783" stroke-width="0.9" />
<circle cx="423.3" cy="318.2" r="2" fill="#fff" stroke="#2a4783" stroke-width="1"/>
<line x1="446.5" y1="315.3" x2="446.5" y2="320.3" stroke="#2a4783" stroke-width="0.9" />
<line x1="444.7" y1="315.3" x2="448.3" y2="315.3" stroke="#2a4783" stroke-width="0.9" />
<line x1="444.7" y1="320.3" x2="448.3" y2="320.3" stroke="#2a4783" stroke-width="0.9" />
<circle cx="446.5" cy="317.8" r="2" fill="#fff" stroke="#2a4783" stroke-width="1"/>
<line x1="462.4" y1="314.6" x2="462.4" y2="320.6" stroke="#2a4783" stroke-width="0.9" />
<line x1="460.59999999999997" y1="314.6" x2="464.2" y2="314.6" stroke="#2a4783" stroke-width="0.9" />
<line x1="460.59999999999997" y1="320.6" x2="464.2" y2="320.6" stroke="#2a4783" stroke-width="0.9" />
<circle cx="462.4" cy="317.6" r="2" fill="#fff" stroke="#2a4783" stroke-width="1"/>
<line x1="478.3" y1="311.8" x2="478.3" y2="317.8" stroke="#2a4783" stroke-width="0.9" />
<line x1="476.5" y1="311.8" x2="480.1" y2="311.8" stroke="#2a4783" stroke-width="0.9" />
<line x1="476.5" y1="317.8" x2="480.1" y2="317.8" stroke="#2a4783" stroke-width="0.9" />
<circle cx="478.3" cy="314.8" r="2" fill="#fff" stroke="#2a4783" stroke-width="1"/>
<line x1="493.7" y1="306.6" x2="493.7" y2="314.6" stroke="#2a4783" stroke-width="0.9" />
<line x1="491.9" y1="306.6" x2="495.5" y2="306.6" stroke="#2a4783" stroke-width="0.9" />
<line x1="491.9" y1="314.6" x2="495.5" y2="314.6" stroke="#2a4783" stroke-width="0.9" />
<circle cx="493.7" cy="310.6" r="2" fill="#fff" stroke="#2a4783" stroke-width="1"/>
<line x1="509.2" y1="293.7" x2="509.2" y2="309.7" stroke="#2a4783" stroke-width="0.9" />
<line x1="507.4" y1="293.7" x2="511.0" y2="293.7" stroke="#2a4783" stroke-width="0.9" />
<line x1="507.4" y1="309.7" x2="511.0" y2="309.7" stroke="#2a4783" stroke-width="0.9" />
<circle cx="509.2" cy="301.7" r="2" fill="#fff" stroke="#2a4783" stroke-width="1"/>
<line x1="423.3" y1="311.7" x2="431.3" y2="311.7" stroke="#e39a2d" stroke-width="1.3"/>
<line x1="438.7" y1="311.3" x2="446.5" y2="311.3" stroke="#e39a2d" stroke-width="1.3"/>
<polyline points="446.5,311.3 462.4,308 478.3,304.5 493.7,293.7 509.2,274.7" fill="none" stroke="#e39a2d" stroke-width="1.3"/>
<line x1="423.3" y1="308.7" x2="423.3" y2="314.7" stroke="#e39a2d" stroke-width="0.9" />
<line x1="421.5" y1="308.7" x2="425.1" y2="308.7" stroke="#e39a2d" stroke-width="0.9" />
<line x1="421.5" y1="314.7" x2="425.1" y2="314.7" stroke="#e39a2d" stroke-width="0.9" />
<circle cx="423.3" cy="311.7" r="2" fill="#fff" stroke="#e39a2d" stroke-width="1"/>
<line x1="446.5" y1="307.3" x2="446.5" y2="315.3" stroke="#e39a2d" stroke-width="0.9" />
<line x1="444.7" y1="307.3" x2="448.3" y2="307.3" stroke="#e39a2d" stroke-width="0.9" />
<line x1="444.7" y1="315.3" x2="448.3" y2="315.3" stroke="#e39a2d" stroke-width="0.9" />
<circle cx="446.5" cy="311.3" r="2" fill="#fff" stroke="#e39a2d" stroke-width="1"/>
<line x1="462.4" y1="303" x2="462.4" y2="313" stroke="#e39a2d" stroke-width="0.9" />
<line x1="460.59999999999997" y1="303" x2="464.2" y2="303" stroke="#e39a2d" stroke-width="0.9" />
<line x1="460.59999999999997" y1="313" x2="464.2" y2="313" stroke="#e39a2d" stroke-width="0.9" />
<circle cx="462.4" cy="308" r="2" fill="#fff" stroke="#e39a2d" stroke-width="1"/>
<line x1="478.3" y1="300.0" x2="478.3" y2="309.0" stroke="#e39a2d" stroke-width="0.9" />
<line x1="476.5" y1="300.0" x2="480.1" y2="300.0" stroke="#e39a2d" stroke-width="0.9" />
<line x1="476.5" y1="309.0" x2="480.1" y2="309.0" stroke="#e39a2d" stroke-width="0.9" />
<circle cx="478.3" cy="304.5" r="2" fill="#fff" stroke="#e39a2d" stroke-width="1"/>
<line x1="493.7" y1="291.7" x2="493.7" y2="295.7" stroke="#e39a2d" stroke-width="0.9" />
<line x1="491.9" y1="291.7" x2="495.5" y2="291.7" stroke="#e39a2d" stroke-width="0.9" />
<line x1="491.9" y1="295.7" x2="495.5" y2="295.7" stroke="#e39a2d" stroke-width="0.9" />
<circle cx="493.7" cy="293.7" r="2" fill="#fff" stroke="#e39a2d" stroke-width="1"/>
<line x1="509.2" y1="258.7" x2="509.2" y2="290.7" stroke="#e39a2d" stroke-width="0.9" />
<line x1="507.4" y1="258.7" x2="511.0" y2="258.7" stroke="#e39a2d" stroke-width="0.9" />
<line x1="507.4" y1="290.7" x2="511.0" y2="290.7" stroke="#e39a2d" stroke-width="0.9" />
<circle cx="509.2" cy="274.7" r="2" fill="#fff" stroke="#e39a2d" stroke-width="1"/>
<text x="462.4" y="304.8" font-size="7.2" text-anchor="middle" fill="#222" stroke="#222"  font-weight="normal" font-style="normal" stroke-width="0">*</text>
<text x="478.3" y="301.59999999999997" font-size="7.2" text-anchor="middle" fill="#222" stroke="#222"  font-weight="normal" font-style="normal" stroke-width="0">*</text>
<text x="493.7" y="290.2" font-size="7.2" text-anchor="middle" fill="#222" stroke="#222"  font-weight="normal" font-style="normal" stroke-width="0">***</text>
<text x="509.4" y="256.6" font-size="7.2" text-anchor="middle" fill="#222" stroke="#222"  font-weight="normal" font-style="normal" stroke-width="0">***</text>
<line x1="440.6" y1="363" x2="449.6" y2="363" stroke="#3e4457" stroke-width="1" />
<circle cx="445.1" cy="363" r="1.8" fill="#fff" stroke="#3e4457" stroke-width="0.9"/>
<text x="452.6" y="365" font-size="5.6" font-style="italic" fill="#222" stroke="#222" stroke-width="0.2">Nras<tspan font-size="3.6" dy="-2.2">WT</tspan></text>
<line x1="440.6" y1="372.3" x2="449.6" y2="372.3" stroke="#e39a2d" stroke-width="1" />
<circle cx="445.1" cy="372.3" r="1.8" fill="#fff" stroke="#e39a2d" stroke-width="0.9"/>
<text x="452.6" y="374.3" font-size="5.6" font-style="italic" fill="#222" stroke="#222" stroke-width="0.2">Nras<tspan font-size="3.6" dy="-2.2">G12D</tspan></text>
<line x1="440.6" y1="381.5" x2="449.6" y2="381.5" stroke="#2f4b86" stroke-width="1" />
<circle cx="445.1" cy="381.5" r="1.8" fill="#fff" stroke="#2f4b86" stroke-width="0.9"/>
<text x="452.6" y="383.5" font-size="5.6" font-style="italic" fill="#222" stroke="#222" stroke-width="0.2">Nras<tspan font-size="3.6" dy="-2.2">G12D,C181S</tspan></text>
</svg></body></html>
